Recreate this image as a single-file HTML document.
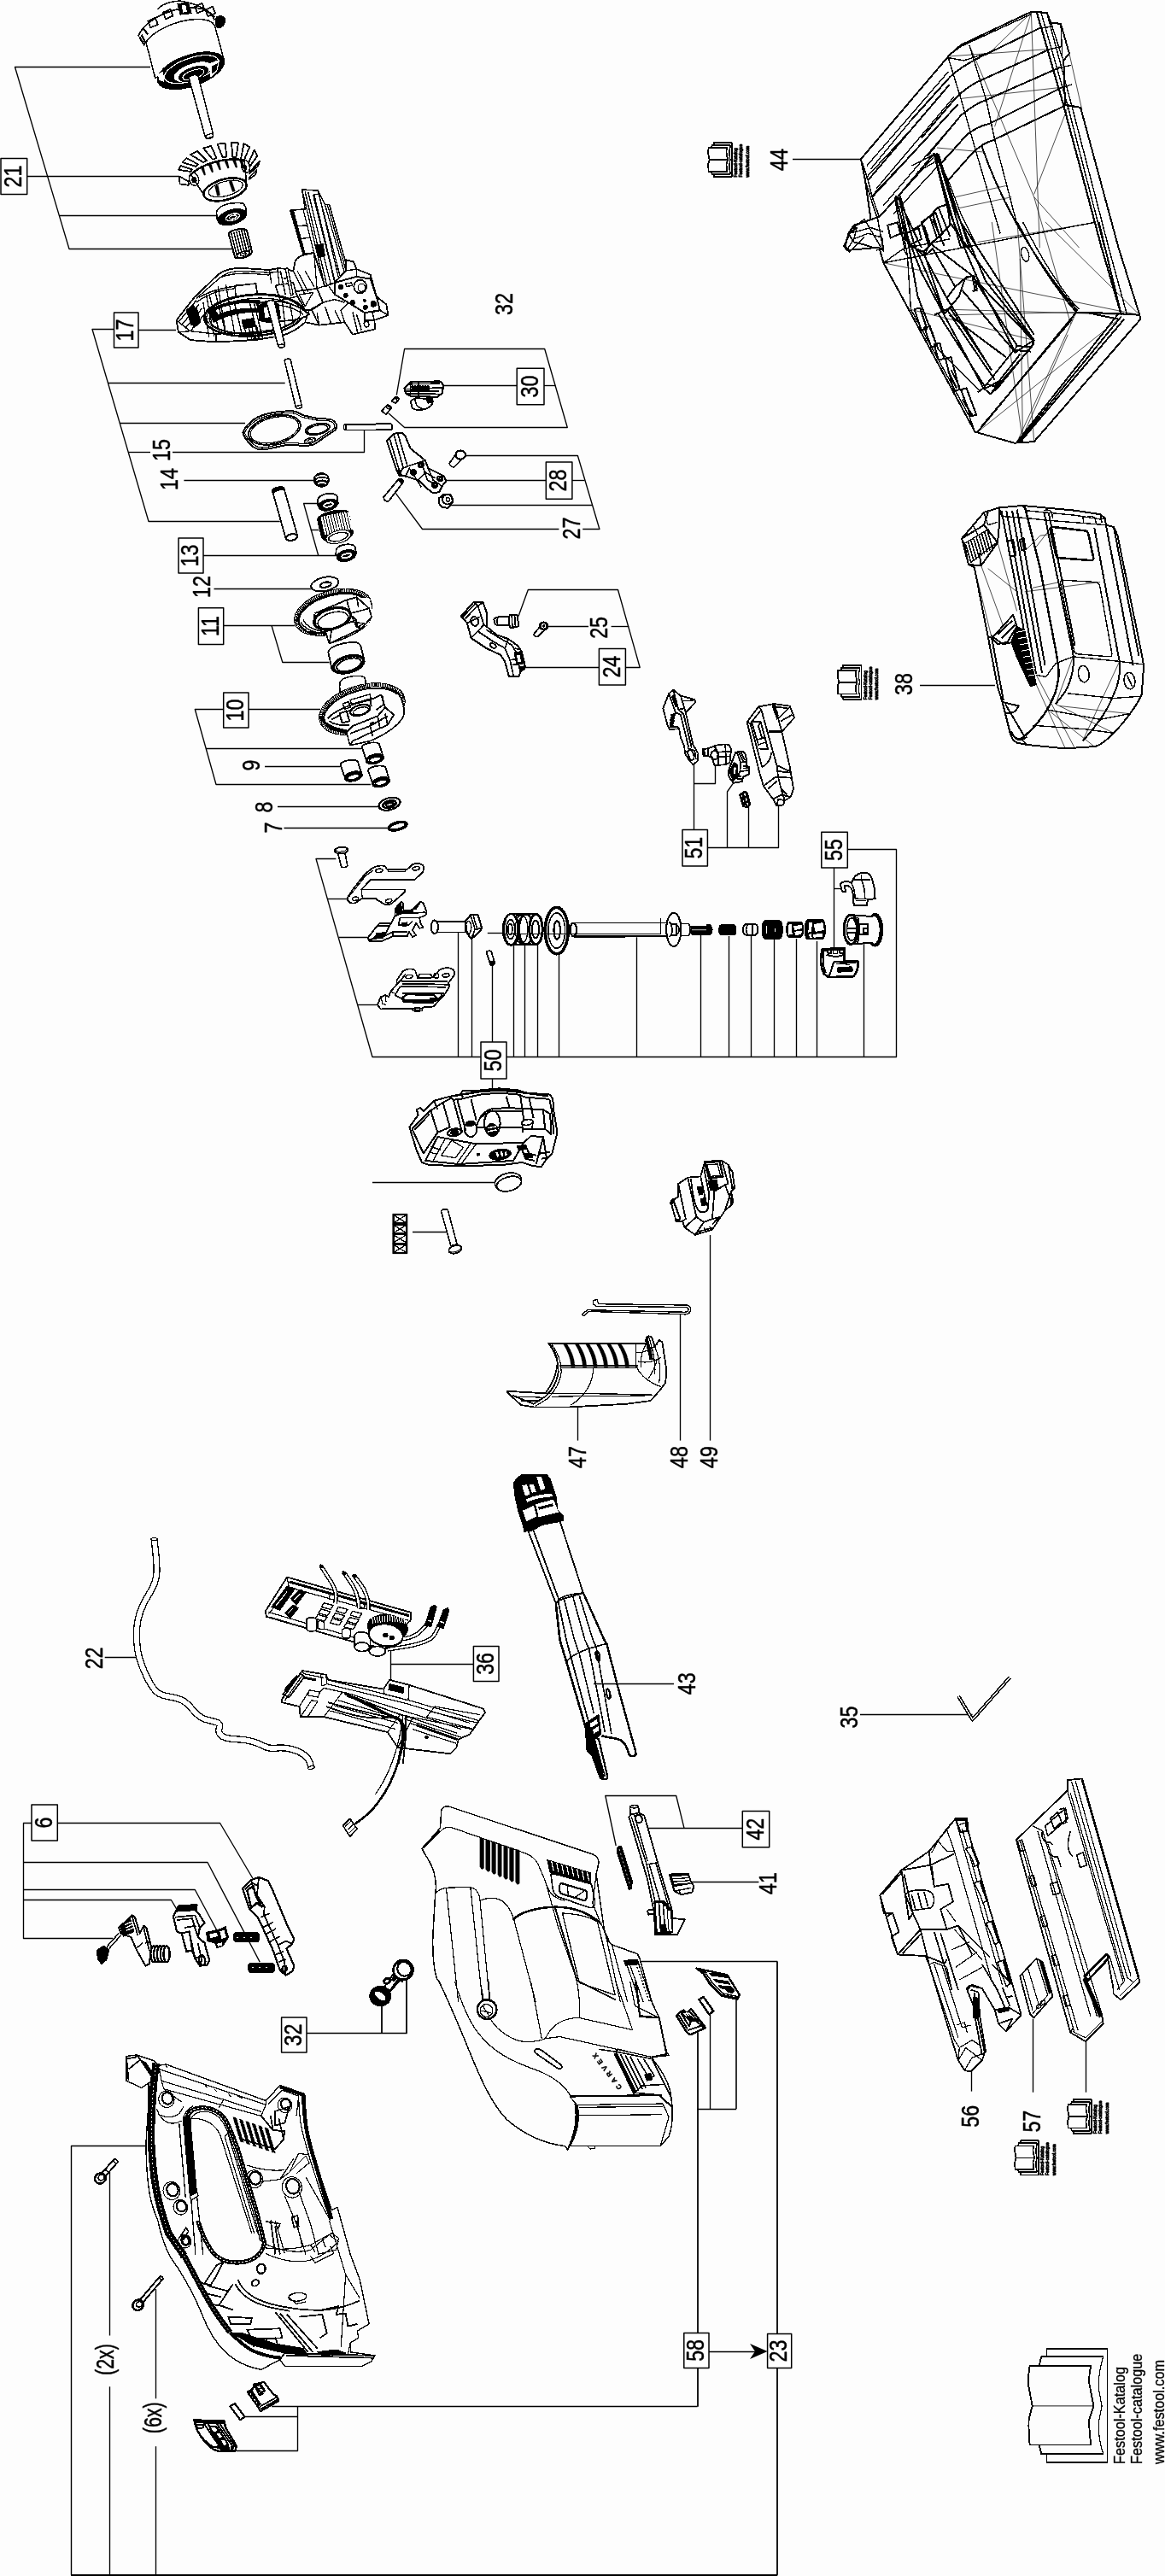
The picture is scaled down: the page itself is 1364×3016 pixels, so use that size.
<!DOCTYPE html>
<html><head><meta charset="utf-8"><title>Festool exploded view</title>
<style>
html,body{margin:0;padding:0;background:#fdfdfd;}
svg{display:block;shape-rendering:crispEdges;will-change:transform}
.t{font-family:"Liberation Sans",sans-serif;fill:#000;stroke:#000;stroke-width:0.5px}
.k{fill:#000}
.w{fill:#fff}
.g{fill:#888}
</style></head><body>
<svg width="1364" height="3016" viewBox="0 0 1364 3016" fill="none" stroke="#000" stroke-width="1.2" stroke-linejoin="round" stroke-linecap="butt">
<rect x="0" y="0" width="1364" height="3016" fill="#fdfdfd" stroke="none"/>
<g id="leaders" style="shape-rendering:geometricPrecision">
<polyline points="32,206.5 210,206.5" stroke-width="1.35"/>
<polyline points="176,78.5 17.5,78.5 81,291.5 272,291.5" stroke-width="1.35"/>
<polyline points="70,252.5 255,252.5" stroke-width="1.35"/>
<rect x="1" y="185.5" width="30.7" height="42" stroke-width="1.5" fill="#fff"/>
<text transform="translate(16.35,206.5) rotate(-90) scale(0.8,1)" font-size="29" text-anchor="middle" dy="0.30em" class="t">21</text>
<text transform="translate(591,356) rotate(-90) scale(0.8,1)" font-size="29" text-anchor="middle" dy="0.30em" class="t">32</text>
<polyline points="162,386.5 206,386.5" stroke-width="1.35"/>
<polyline points="133.5,385.5 108,385.5 174,610.5 327.7,610.5" stroke-width="1.35"/>
<polyline points="126.4,448.5 333.7,448.5" stroke-width="1.35"/>
<polyline points="140.3,495.5 287,495.5" stroke-width="1.35"/>
<polyline points="150.5,529.5 176,529.5" stroke-width="1.35"/>
<polyline points="202,529.5 426.5,529.5 426.5,503.3" stroke-width="1.35"/>
<rect x="133.5" y="366" width="28.5" height="41" stroke-width="1.5" fill="#fff"/>
<text transform="translate(147.75,386.5) rotate(-90) scale(0.8,1)" font-size="29" text-anchor="middle" dy="0.30em" class="t">17</text>
<text transform="translate(190.5,527) rotate(-90) scale(0.8,1)" font-size="29" text-anchor="middle" dy="0.30em" class="t">15</text>
<text transform="translate(199,561) rotate(-90) scale(0.8,1)" font-size="29" text-anchor="middle" dy="0.30em" class="t">14</text>
<polyline points="215.4,562.5 367.3,562.5" stroke-width="1.35"/>
<polyline points="238,650.5 394.4,650.5" stroke-width="1.35"/>
<polyline points="372.7,650.2 355.6,589.5 371.8,589.5" stroke-width="1.35"/>
<polyline points="363.7,620.5 373.6,620.5" stroke-width="1.35"/>
<rect x="209" y="630" width="29" height="41" stroke-width="1.5" fill="#fff"/>
<text transform="translate(223.5,650.5) rotate(-90) scale(0.8,1)" font-size="29" text-anchor="middle" dy="0.30em" class="t">13</text>
<text transform="translate(237,687) rotate(-90) scale(0.8,1)" font-size="29" text-anchor="middle" dy="0.30em" class="t">12</text>
<polyline points="250.5,689.5 364.3,689.5" stroke-width="1.35"/>
<polyline points="261.7,732.5 345.3,732.5" stroke-width="1.35"/>
<polyline points="318,732.5 330.8,775.5 385.5,775.5" stroke-width="1.35"/>
<rect x="232.4" y="711.7" width="29.3" height="42.7" stroke-width="1.5" fill="#fff"/>
<text transform="translate(247.05,733.05) rotate(-90) scale(0.8,1)" font-size="29" text-anchor="middle" dy="0.30em" class="t">11</text>
<polyline points="291,830.5 375,830.5" stroke-width="1.35"/>
<polyline points="261.7,830.5 228.3,830.5 253,918.5 434,918.5" stroke-width="1.35"/>
<polyline points="241,876.5 423.2,876.5" stroke-width="1.35"/>
<rect x="261.7" y="811" width="29.3" height="41" stroke-width="1.5" fill="#fff"/>
<text transform="translate(276.35,831.5) rotate(-90) scale(0.8,1)" font-size="29" text-anchor="middle" dy="0.30em" class="t">10</text>
<text transform="translate(295.6,896) rotate(-90) scale(0.8,1)" font-size="29" text-anchor="middle" dy="0.30em" class="t">9</text>
<polyline points="310,897.5 398.4,897.5" stroke-width="1.35"/>
<text transform="translate(310.4,945) rotate(-90) scale(0.8,1)" font-size="29" text-anchor="middle" dy="0.30em" class="t">8</text>
<polyline points="325,944.5 442.9,944.5" stroke-width="1.35"/>
<text transform="translate(321,969) rotate(-90) scale(0.8,1)" font-size="29" text-anchor="middle" dy="0.30em" class="t">7</text>
<polyline points="332.5,969.5 455.3,969.5" stroke-width="1.35"/>
<polyline points="518.3,451.5 605.2,451.5" stroke-width="1.35"/>
<polyline points="464.3,462.6 473.6,408.5 637.7,408.5 664.3,500.5 473.6,500.5 455.1,483.9" stroke-width="1.35"/>
<polyline points="637,451.5 650.4,451.5" stroke-width="1.35"/>
<rect x="605.2" y="431.3" width="31.8" height="42.4" stroke-width="1.5" fill="#fff"/>
<text transform="translate(621.1,452.5) rotate(-90) scale(0.8,1)" font-size="29" text-anchor="middle" dy="0.30em" class="t">30</text>
<polyline points="522.3,562.5 639.3,562.5" stroke-width="1.35"/>
<polyline points="669.9,562.5 684.5,562.5" stroke-width="1.35"/>
<polyline points="544.3,533.5 676.4,533.5 701.9,619.5 682.2,619.5" stroke-width="1.35"/>
<polyline points="526.9,591.5 693,591.5" stroke-width="1.35"/>
<rect x="639.3" y="540.9" width="30.6" height="43.3" stroke-width="1.5" fill="#fff"/>
<text transform="translate(654.6,562.55) rotate(-90) scale(0.8,1)" font-size="29" text-anchor="middle" dy="0.30em" class="t">28</text>
<text transform="translate(670.3,618.6) rotate(-90) scale(0.8,1)" font-size="29" text-anchor="middle" dy="0.30em" class="t">27</text>
<polyline points="463.2,577.3 494.5,619.5 654.4,619.5" stroke-width="1.35"/>
<polyline points="607,721.5 618.3,690.5 723.5,690.5 749.2,781.5 732.4,781.5" stroke-width="1.35"/>
<polyline points="641.6,733.5 689,733.5" stroke-width="1.35"/>
<polyline points="715.6,733.5 736.3,733.5" stroke-width="1.35"/>
<polyline points="614.9,781.5 701.4,781.5" stroke-width="1.35"/>
<rect x="701.4" y="759.4" width="31" height="42.6" stroke-width="1.5" fill="#fff"/>
<text transform="translate(716.9,780.7) rotate(-90) scale(0.8,1)" font-size="29" text-anchor="middle" dy="0.30em" class="t">24</text>
<text transform="translate(702.2,734.9) rotate(-90) scale(0.8,1)" font-size="29" text-anchor="middle" dy="0.30em" class="t">25</text>
<polyline points="393.4,1005.5 370,1005.5 436,1237.5 1049.5,1237.5 1049.5,994.5 992.3,994.5" stroke-width="1.35"/>
<polyline points="383.4,1052.5 406.8,1052.5" stroke-width="1.35"/>
<polyline points="397,1097.5 433,1097.5" stroke-width="1.35"/>
<polyline points="418.6,1176.5 442,1176.5" stroke-width="1.35"/>
<polyline points="536.5,1091 536.5,1237.8" stroke-width="1.35"/>
<polyline points="552.5,1099 552.5,1237.8" stroke-width="1.35"/>
<polyline points="601.5,1093 601.5,1237.8" stroke-width="1.35"/>
<polyline points="614.5,1101 614.5,1237.8" stroke-width="1.35"/>
<polyline points="629.5,1104 629.5,1237.8" stroke-width="1.35"/>
<polyline points="654.5,1116 654.5,1237.8" stroke-width="1.35"/>
<polyline points="745.5,1097.3 745.5,1237.8" stroke-width="1.35"/>
<polyline points="820.5,1090 820.5,1237.8" stroke-width="1.35"/>
<polyline points="853.5,1096 853.5,1237.8" stroke-width="1.35"/>
<polyline points="879.5,1096 879.5,1237.8" stroke-width="1.35"/>
<polyline points="906.5,1099 906.5,1237.8" stroke-width="1.35"/>
<polyline points="932.5,1099 932.5,1237.8" stroke-width="1.35"/>
<polyline points="956.5,1102 956.5,1237.8" stroke-width="1.35"/>
<polyline points="1011.5,1105 1011.5,1237.8" stroke-width="1.35"/>
<polyline points="576.5,1129.5 576.5,1275" stroke-width="1.35"/>
<polyline points="570.8,1092.5 588.3,1092.5" stroke-width="1.35"/>
<rect x="563" y="1220" width="30" height="43" stroke-width="1.5" fill="#fff"/>
<text transform="translate(578,1241.5) rotate(-90) scale(0.8,1)" font-size="29" text-anchor="middle" dy="0.30em" class="t">50</text>
<polyline points="976.5,1016 976.5,1110.7" stroke-width="1.35"/>
<polyline points="976,1040.5 986.4,1040.5" stroke-width="1.35"/>
<rect x="961.8" y="974.3" width="30.5" height="41.7" stroke-width="1.5" fill="#fff"/>
<text transform="translate(977.05,995.15) rotate(-90) scale(0.8,1)" font-size="29" text-anchor="middle" dy="0.30em" class="t">55</text>
<polyline points="828.4,992.5 911.5,992.5 911.5,944" stroke-width="1.35"/>
<polyline points="876.5,944 876.5,992" stroke-width="1.35"/>
<polyline points="858,917.6 851.5,927 851.5,992" stroke-width="1.35"/>
<polyline points="812.5,895.3 812.5,971.4" stroke-width="1.35"/>
<polyline points="812.9,917.5 837.5,917.5 837.5,896" stroke-width="1.35"/>
<rect x="799" y="971.4" width="29.4" height="42.6" stroke-width="1.5" fill="#fff"/>
<text transform="translate(813.7,992.7) rotate(-90) scale(0.8,1)" font-size="29" text-anchor="middle" dy="0.30em" class="t">51</text>
<text transform="translate(913,187) rotate(-90) scale(0.8,1)" font-size="29" text-anchor="middle" dy="0.30em" class="t">44</text>
<polyline points="928,186.5 1007,186.5" stroke-width="1.35"/>
<text transform="translate(1059.6,801) rotate(-90) scale(0.8,1)" font-size="29" text-anchor="middle" dy="0.30em" class="t">38</text>
<polyline points="1077,802.5 1165,802.5" stroke-width="1.35"/>
<polyline points="436,1384.5 579.6,1384.5" stroke-width="1.35"/>
<polyline points="483,1442.5 524,1442.5" stroke-width="1.35"/>
<text transform="translate(676.8,1706) rotate(-90) scale(0.8,1)" font-size="29" text-anchor="middle" dy="0.30em" class="t">47</text>
<polyline points="676.5,1647.5 676.5,1686.6" stroke-width="1.35"/>
<text transform="translate(796,1706) rotate(-90) scale(0.8,1)" font-size="29" text-anchor="middle" dy="0.30em" class="t">48</text>
<polyline points="796.5,1539 796.5,1686.6" stroke-width="1.35"/>
<text transform="translate(831.3,1706) rotate(-90) scale(0.8,1)" font-size="29" text-anchor="middle" dy="0.30em" class="t">49</text>
<polyline points="831.5,1446 831.5,1686.6" stroke-width="1.35"/>
<text transform="translate(111,1941.4) rotate(-90) scale(0.8,1)" font-size="29" text-anchor="middle" dy="0.30em" class="t">22</text>
<polyline points="122.7,1940.5 159.5,1940.5" stroke-width="1.35"/>
<polyline points="457.8,1948.5 554.4,1948.5" stroke-width="1.35"/>
<polyline points="457.5,1928.5 457.5,1969.5" stroke-width="1.35"/>
<rect x="554.4" y="1927.4" width="29.6" height="41" stroke-width="1.5" fill="#fff"/>
<text transform="translate(569.2,1947.9) rotate(-90) scale(0.8,1)" font-size="29" text-anchor="middle" dy="0.30em" class="t">36</text>
<polyline points="37,2134.5 27.5,2134.5 27.5,2269.5 132.4,2269.5" stroke-width="1.35"/>
<polyline points="67.3,2134.5 257.6,2134.5 296.4,2200" stroke-width="1.35"/>
<polyline points="27.5,2180.5 243,2180.5 304.2,2297.1" stroke-width="1.35"/>
<polyline points="27.5,2212.5 228.3,2212.5 254,2260.3" stroke-width="1.35"/>
<polyline points="27.5,2224.5 200.4,2224.5 207.1,2235.7" stroke-width="1.35"/>
<rect x="37" y="2113" width="30.3" height="42" stroke-width="1.5" fill="#fff"/>
<text transform="translate(52.15,2134) rotate(-90) scale(0.8,1)" font-size="29" text-anchor="middle" dy="0.30em" class="t">6</text>
<polyline points="359,2380.5 476.7,2380.5" stroke-width="1.4"/>
<polyline points="476,2380.4 476,2317.4" stroke-width="1.8"/>
<polyline points="447,2348.8 447,2380.4" stroke-width="1.8"/>
<rect x="329.6" y="2362" width="29.4" height="41" stroke-width="1.5" fill="#fff"/>
<text transform="translate(344.3,2382.5) rotate(-90) scale(0.8,1)" font-size="29" text-anchor="middle" dy="0.30em" class="t">32</text>
<text transform="translate(805,1971.3) rotate(-90) scale(0.8,1)" font-size="29" text-anchor="middle" dy="0.30em" class="t">43</text>
<polyline points="695,1971.5 789,1971.5" stroke-width="1.35"/>
<text transform="translate(995.2,2010.5) rotate(-90) scale(0.8,1)" font-size="29" text-anchor="middle" dy="0.30em" class="t">35</text>
<polyline points="1007,2007.5 1138.6,2007.5" stroke-width="1.35"/>
<polyline points="758.1,2140.5 869.3,2140.5" stroke-width="1.35"/>
<polyline points="721.2,2161 708.8,2102.5 791.7,2102.5 801,2140.3" stroke-width="1.35"/>
<rect x="869.3" y="2120.6" width="31.4" height="42.1" stroke-width="1.5" fill="#fff"/>
<text transform="translate(885,2141.65) rotate(-90) scale(0.8,1)" font-size="29" text-anchor="middle" dy="0.30em" class="t">42</text>
<text transform="translate(899.8,2205.1) rotate(-90) scale(0.8,1)" font-size="29" text-anchor="middle" dy="0.30em" class="t">41</text>
<polyline points="809.4,2203.5 888.4,2203.5" stroke-width="1.35"/>
<text transform="translate(1137.5,2477.8) rotate(-90) scale(0.8,1)" font-size="29" text-anchor="middle" dy="0.30em" class="t">56</text>
<polyline points="1137.5,2424 1137.5,2448.6" stroke-width="1.35"/>
<text transform="translate(1209,2483.7) rotate(-90) scale(0.8,1)" font-size="29" text-anchor="middle" dy="0.30em" class="t">57</text>
<polyline points="1209.5,2363.7 1209.5,2449.7" stroke-width="1.35"/>
<polyline points="1271.5,2390 1271.5,2449.7" stroke-width="1.35"/>
<polyline points="171.7,2512.5 83.5,2512.5 83.5,3014.8" stroke-width="1.4"/>
<polyline points="83,3015 910.3,3015" stroke-width="2"/>
<polyline points="910,3014.8 910,2296.4" stroke-width="1.8"/>
<polyline points="910.3,2296.5 749.3,2296.5" stroke-width="1.5"/>
<polyline points="128.5,2542.7 128.5,2734.5" stroke-width="1.35"/>
<polyline points="128.5,2794.3 128.5,3014.8" stroke-width="1.35"/>
<polyline points="182.5,2680.2 182.5,2808.3" stroke-width="1.35"/>
<polyline points="182.5,2864.2 182.5,3014.8" stroke-width="1.35"/>
<text transform="translate(124.4,2762.5) rotate(-90) scale(0.74,1)" font-size="29" text-anchor="middle" dy="0.30em" class="t">(2x)</text>
<text transform="translate(180.3,2830.8) rotate(-90) scale(0.74,1)" font-size="29" text-anchor="middle" dy="0.30em" class="t">(6x)</text>
<polyline points="318,2817.5 816.6,2817.5" stroke-width="1.35"/>
<polyline points="817,2817.7 817,2379.3" stroke-width="1.8"/>
<polyline points="348.5,2817.3 348.5,2869.5 276.8,2869.5" stroke-width="1.35"/>
<polyline points="286.5,2829.5 348.9,2829.5" stroke-width="1.35"/>
<polyline points="816.6,2469.5 862.2,2469.5" stroke-width="1.35"/>
<polyline points="862,2469 862,2340.1" stroke-width="1.6"/>
<polyline points="831.5,2358.1 831.5,2469" stroke-width="1.35"/>
<polyline points="830,2753.5 885,2753.5" stroke-width="1.35"/>
<path d="M898.6 2753 L878 2744 L884 2753 L878 2762 Z" fill="#000" stroke="none"/>
<rect x="800.8" y="2731.4" width="29.2" height="41" stroke-width="1.5" fill="#fff"/>
<text transform="translate(815.4,2751.9) rotate(-90) scale(0.8,1)" font-size="29" text-anchor="middle" dy="0.30em" class="t">58</text>
<rect x="898.6" y="2732.6" width="28.1" height="39.8" stroke-width="1.5" fill="#fff"/>
<text transform="translate(912.65,2752.5) rotate(-90) scale(0.8,1)" font-size="29" text-anchor="middle" dy="0.30em" class="t">23</text>
</g>
<g id="motor">
<path d="M 161.6 42.5 C 166.3 30.9 180.2 18.5 204.9 11.6 C 223.4 7.0 242.0 7.7 251.2 20.1" stroke-width="1.8"/>
<path d="M 184.8 10.8 C 191.0 3.1 208.0 -0.8 217.3 2.3 C 232.7 6.2 245.1 10.8 251.2 23.2" stroke-width="1.6"/>
<path d="M 163.2 43.3 L 169.4 53.3 M 165.5 40.9 L 170.9 51.0 M 167.8 33.2 L 173.2 40.2" stroke-width="2.2"/>
<path d="M 173.2 24.7 L 181.7 20.9 L 184.8 28.6 L 176.3 32.4 Z" stroke-width="1.8"/>
<path d="M 191.0 14.7 L 199.5 10.8 L 202.6 18.5 L 194.1 22.4 Z" stroke-width="1.8"/>
<path d="M 208.8 7.0 L 217.3 3.1 L 220.3 10.8 L 211.8 14.7 Z" stroke-width="1.8"/>
<path d="M 228.1 7.7 L 236.6 3.9 L 239.7 11.6 L 231.2 15.5 Z" stroke-width="1.8"/>
<path d="M 240.4 11.6 L 248.9 7.7 L 252.0 15.5 L 243.5 19.3 Z" stroke-width="1.8"/>
<path d="M 208.0 4.6 L 220.3 3.1 L 224.2 15.5 L 211.1 17.0 Z" fill="#000"/>
<path d="M 212.6 6.2 L 217.3 5.4 L 218.8 13.9 L 214.2 14.7 Z" fill="#fff" stroke="none"/>
<path d="M 253.6 20.1 C 257.4 17.8 262.8 18.5 263.6 23.2 C 263.6 29.4 259.7 33.2 254.3 32.4 C 252.0 30.1 252.0 23.2 253.6 20.1 Z" fill="#000"/>
<path d="M 170.9 49.4 C 180.2 35.5 206.4 23.2 231.2 22.4 C 242.0 22.4 248.9 25.5 251.2 29.4 L 262.1 69.5 L 181.7 91.2 Z" stroke-width="1.5" fill="#fdfdfd"/>
<ellipse cx="223.4" cy="82.7" rx="40.9" ry="18.2" transform="rotate(-19 223.4 82.7)" fill="#000"/>
<ellipse cx="224.2" cy="81.1" rx="33.2" ry="13.1" transform="rotate(-19 224.2 81.1)" stroke-width="1.2" fill="none" stroke="#fff"/>
<ellipse cx="225.8" cy="84.2" rx="23.2" ry="9.6" transform="rotate(-19 225.8 84.2)" fill="#fff" stroke="none"/>
<ellipse cx="226.5" cy="86.5" rx="17.8" ry="7.4" transform="rotate(-19 226.5 86.5)" fill="#000"/>
<ellipse cx="226.5" cy="87.3" rx="13.1" ry="5.1" transform="rotate(-19 226.5 87.3)" stroke-width="1" fill="none" stroke="#fff"/>
<path d="M 245.1 74.2 L 257.4 69.5 L 254.3 83.4 L 246.6 91.2 Z" fill="#fff" stroke="none"/>
<path d="M 248.2 77.3 L 255.1 74.2 L 253.6 81.9 L 248.2 86.5 Z" fill="#000" stroke="none"/>
<path d="M 184.8 86.5 L 191.0 83.4 L 192.5 95.8 L 186.4 94.2 Z" fill="#fff" stroke="none"/>
<path d="M 221.1 91.2 L 240.4 160.7 C 242.0 164.5 249.7 162.2 249.7 157.6 L 231.9 88.8 C 229.6 86.5 221.9 88.1 221.1 91.2 Z" stroke-width="1.5" fill="#fdfdfd"/>
<ellipse cx="245.4" cy="159.1" rx="4.3" ry="2.0" transform="rotate(-15 245.4 159.1)" stroke-width="1.3"/>
</g>
<g id="fan">
<path d="M 210.6 215.4 L 209.8 206.4 L 220.5 212.3 L 220.9 216.8 Z" stroke-width="1.8" fill="#fdfdfd"/>
<path d="M 209.2 198.9 L 211.4 194.0 L 224.7 198.5 L 223.6 201.0 Z" stroke-width="1.8" fill="#fdfdfd"/>
<path d="M 213.3 190.0 L 218.6 185.1 L 231.8 192.4 L 229.1 194.8 Z" stroke-width="1.8" fill="#fdfdfd"/>
<path d="M 223.0 181.1 L 231.2 177.0 L 242.2 188.0 L 238.1 190.0 Z" stroke-width="1.8" fill="#fdfdfd"/>
<path d="M 238.1 173.5 L 247.1 170.9 L 253.6 185.2 L 249.1 186.6 Z" stroke-width="1.8" fill="#fdfdfd"/>
<path d="M 254.5 168.7 L 263.6 167.6 L 265.3 183.6 L 260.7 184.1 Z" stroke-width="1.8" fill="#fdfdfd"/>
<path d="M 271.0 166.7 L 279.0 167.4 L 276.4 184.5 L 272.4 184.1 Z" stroke-width="1.8" fill="#fdfdfd"/>
<path d="M 285.5 168.0 L 292.2 172.2 L 285.5 188.0 L 282.0 185.9 Z" stroke-width="1.8" fill="#fdfdfd"/>
<path d="M 297.8 175.6 L 301.2 182.7 L 292.6 194.6 L 290.9 191.0 Z" stroke-width="1.8" fill="#fdfdfd"/>
<path d="M 304.0 188.6 L 302.1 194.3 L 292.3 203.2 L 293.3 200.3 Z" stroke-width="1.8" fill="#fdfdfd"/>
<path d="M 300.6 198.9 L 299.2 204.4 L 291.6 209.9 L 292.3 207.2 Z" stroke-width="1.8" fill="#fdfdfd"/>
<path d="M 237.4 226.4 L 223.6 204.4 C 235.3 192.1 266.9 182.5 286.1 188.0 L 288.2 209.9 C 288.9 219.5 277.9 231.9 261.4 234.7 C 247.7 236.7 238.1 233.3 237.4 226.4 Z" stroke-width="1.6" fill="#fdfdfd"/>
<path d="M 235.3 196.2 L 238.3 195.7 L 240.5 204.7 L 239.2 205.0 Z" stroke-width="0.8" fill="#000"/>
<path d="M 244.2 192.8 L 247.3 192.2 L 249.5 201.3 L 248.1 201.6 Z" stroke-width="0.8" fill="#000"/>
<path d="M 253.2 190.0 L 256.2 189.5 L 258.4 198.5 L 257.0 198.8 Z" stroke-width="0.8" fill="#000"/>
<path d="M 262.8 188.0 L 265.8 187.4 L 268.0 196.5 L 266.6 196.8 Z" stroke-width="0.8" fill="#000"/>
<path d="M 272.4 187.3 L 275.4 186.7 L 277.6 195.8 L 276.2 196.1 Z" stroke-width="0.8" fill="#000"/>
<path d="M 280.6 188.0 L 283.7 187.4 L 285.9 196.5 L 284.5 196.8 Z" stroke-width="0.8" fill="#000"/>
<path d="M 223.6 204.4 C 235.3 192.1 266.9 182.5 286.1 188.0" stroke-width="2.4"/>
<ellipse cx="227.1" cy="209.9" rx="5.5" ry="7.6" transform="rotate(-15 227.1 209.9)" stroke-width="1.6"/>
<ellipse cx="227.4" cy="210.6" rx="2.5" ry="3.0" transform="rotate(-15 227.4 210.6)" fill="#000"/>
<ellipse cx="287.5" cy="194.8" rx="4.8" ry="7.6" transform="rotate(-15 287.5 194.8)" stroke-width="1.6"/>
<ellipse cx="287.2" cy="196.2" rx="1.6" ry="2.7" transform="rotate(-15 287.2 196.2)" fill="#000"/>
<ellipse cx="263.5" cy="221.9" rx="25.8" ry="12.1" transform="rotate(-15 263.5 221.9)" stroke-width="2.6" fill="#fdfdfd"/>
<ellipse cx="264.2" cy="220.9" rx="20.6" ry="8.5" transform="rotate(-15 264.2 220.9)" stroke-width="1.2"/>
<path d="M 251.8 218.2 L 254.5 229.2 L 257.3 228.5 L 255.2 216.8 Z M 268.3 212.7 L 272.4 224.4 L 275.2 223.7 L 271.0 211.3 Z" stroke-width="0.8" fill="#000"/>
</g>
<g id="bearing">
<path d="M 254.3 256.6 L 253.5 248.4 C 255.9 240.2 269.7 236.0 284.8 238.1 L 287.8 242.9 L 288.6 251.1 Z" stroke-width="1.6" fill="#fdfdfd"/>
<ellipse cx="271.7" cy="254.2" rx="17.4" ry="8.5" transform="rotate(-16 271.7 254.2)" fill="#000"/>
<ellipse cx="272.4" cy="254.2" rx="8.2" ry="3.7" transform="rotate(-16 272.4 254.2)" stroke-width="1.5" fill="none" stroke="#fff"/>
<ellipse cx="272.7" cy="254.2" rx="4.4" ry="1.8" transform="rotate(-16 272.7 254.2)" stroke-width="1.2" fill="none" stroke="#fff"/>
</g>
<g id="pinion">
<path d="M 267.6 273.1 C 272.4 268.3 284.8 266.9 288.9 269.3 L 295.1 295.1 C 293.0 300.6 280.6 304.0 275.2 301.7 Z" stroke-width="2" fill="#fdfdfd"/>
<path d="M 270.6 272.3 L 277.8 300.6" stroke-width="1.5"/>
<path d="M 273.6 271.6 L 280.8 299.8" stroke-width="1.5"/>
<path d="M 276.7 270.9 L 283.8 298.9" stroke-width="1.5"/>
<path d="M 279.7 270.1 L 286.8 298.2" stroke-width="1.5"/>
<path d="M 282.7 269.3 L 289.8 297.6" stroke-width="1.5"/>
<path d="M 285.7 268.6 L 292.9 296.7" stroke-width="1.5"/>
<ellipse cx="284.8" cy="297.8" rx="7.6" ry="3.3" transform="rotate(-18 284.8 297.8)" stroke-width="1.8" fill="#fdfdfd"/>
<ellipse cx="284.8" cy="297.8" rx="3.8" ry="1.4" transform="rotate(-18 284.8 297.8)" stroke-width="1.2"/>
</g>
<g id="housing17">
<path d="M 353.8 222.0 L 372.3 223.1 L 380.4 239.3 L 385.5 239.3 L 409.4 323.9 L 403.6 327.4 L 380.4 335.5 L 366.5 296.1 L 354.9 297.3 L 339.8 246.3 L 354.9 245.1 L 357.2 245.1 Z" stroke-width="1.6" fill="#fdfdfd"/>
<path d="M 353.8 222.0 L 380.4 335.5 M 357.2 224.3 L 382.7 334.4 M 360.9 225.4 L 387.4 333.2 M 366.5 227.7 L 392.0 330.9 M 372.3 223.1 L 398.9 326.2 M 380.4 239.3 L 404.7 323.9 M 383.2 239.3 L 407.1 323.9" stroke-width="1.3"/>
<path d="M 367.7 227.7 L 373.5 227.7 L 396.6 326.2 L 392.0 328.6 Z" stroke-width="1.3" fill="#fdfdfd"/>
<path d="M 339.8 246.3 L 343.3 246.3 L 357.2 297.3 L 354.9 297.3 Z" fill="#000"/>
<path d="M 345.6 264.8 L 360.7 263.7 M 349.8 279.9 L 364.2 278.0 M 354.9 245.1 L 367.7 296.1" stroke-width="1.3"/>
<path d="M 370.0 286.8 L 378.1 285.7 L 380.4 299.6 L 373.5 301.2 Z" fill="#000"/>
<path d="M 206.6 374.9 L 227.4 348.3 L 255.3 321.6 C 264.5 314.7 273.8 313.5 287.7 314.2 L 315.5 316.0 L 324.8 314.2 L 334.1 314.7 L 343.3 317.4 L 345.6 305.8 C 348.0 300.8 352.6 298.4 367.7 296.1 L 380.4 335.5 L 392.0 330.9 L 404.7 317.0 L 404.7 304.2 L 414.0 306.5 L 417.5 315.1 L 433.7 321.6 L 440.7 347.1 L 452.3 356.4 L 454.6 369.1 L 438.3 374.9 L 439.5 385.3 L 412.9 391.6 L 403.6 377.2 L 373.5 380.7 L 357.2 377.2 C 348.0 386.5 334.1 392.3 327.1 393.5 L 299.3 398.1 L 252.9 400.4 L 222.8 398.1 L 208.9 388.8 Z" stroke-width="1.8" fill="#fdfdfd"/>
<path d="M 229.8 349.4 L 257.6 325.1 C 266.8 318.1 276.1 317.0 287.7 317.4 L 315.5 319.3 L 328.3 318.1" stroke-width="1.3"/>
<path d="M 233.2 348.3 C 246.0 340.2 264.5 335.5 299.3 332.0 L 301.6 344.8 M 275.0 334.4 L 276.1 348.3 M 275.0 334.4 L 300.5 332.0" stroke-width="1.6"/>
<ellipse cx="297.0" cy="369.1" rx="57.9" ry="24.3" transform="rotate(-4 297.0 369.1)" stroke-width="2.4"/>
<ellipse cx="297.0" cy="369.8" rx="52.1" ry="20.4" transform="rotate(-4 297.0 369.8)" stroke-width="1.3"/>
<path d="M 243.7 365.6 C 255.3 354.1 283.1 350.6 303.9 351.7 L 310.9 365.6 C 292.3 363.3 264.5 368.0 250.6 377.2 Z" fill="#000"/>
<path d="M 252.9 363.3 C 264.5 356.4 283.1 354.1 299.3 355.2 L 301.6 361.0 C 287.7 359.8 266.8 362.2 255.3 368.0 Z" fill="#fdfdfd" stroke="none"/>
<path d="M 300.5 356.4 C 315.5 349.4 343.3 351.7 361.9 368.0 C 352.6 374.9 334.1 377.2 315.5 374.9 Z" stroke-width="1.8" fill="#fdfdfd"/>
<path d="M 303.9 359.8 C 317.8 354.1 338.7 356.4 354.9 368.0" stroke-width="1.3"/>
<path d="M 208.9 377.2 L 229.8 351.7 M 212.4 380.7 L 233.2 356.4 M 217.0 384.2 L 236.7 361.0 M 222.8 387.7 L 241.4 365.6 M 206.6 374.9 L 222.8 387.7 L 252.9 391.1 L 299.3 388.8 L 324.8 385.3" stroke-width="1.4"/>
<path d="M 218.2 363.3 L 226.3 356.4 L 232.1 374.9 L 224.0 380.7 Z" fill="#000"/>
<path d="M 244.8 344.8 L 257.6 391.1 M 251.8 341.3 L 264.5 391.1 M 273.8 351.7 L 284.2 394.6 M 292.3 354.1 L 302.8 396.9 M 297.0 352.9 L 307.4 395.8" stroke-width="1.4"/>
<path d="M 283.1 374.9 L 297.0 372.6 L 299.3 381.9 L 285.4 384.2 Z" fill="#000"/>
<path d="M 286.5 384.2 L 300.5 381.9 L 303.9 395.8 L 290.0 398.1 Z" stroke-width="1.3"/>
<path d="M 291.2 383.0 L 294.7 396.9 M 294.7 382.3 L 298.1 396.2" stroke-width="1.2"/>
<path d="M 322.5 334.4 L 343.3 330.9 L 348.0 347.1 L 328.3 351.7 Z M 328.3 317.0 L 334.1 344.8 M 334.1 314.7 L 341.0 344.8 M 331.7 326.2 L 339.8 325.1" stroke-width="1.5"/>
<path d="M 345.6 341.3 L 371.1 337.8 L 378.1 354.1 L 364.2 363.3 L 357.2 363.3 Z" stroke-width="1.8"/>
<path d="M 350.3 344.8 L 366.5 342.5 L 357.2 358.7 Z" stroke-width="1.3" fill="#fdfdfd"/>
<path d="M 378.1 354.1 L 392.0 350.6 L 403.6 354.1 M 371.1 337.8 L 392.0 330.9 M 365.3 363.3 L 373.5 380.7 M 380.4 358.7 L 387.4 378.4 M 392.0 363.3 L 398.9 377.2" stroke-width="1.5"/>
<path d="M 392.0 330.9 L 417.5 323.9 L 433.7 326.7 L 440.7 347.1 L 444.8 363.3 L 426.8 366.1 L 408.2 354.5 L 392.0 344.8 Z" stroke-width="2" fill="#fdfdfd"/>
<ellipse cx="421.7" cy="335.5" rx="7.4" ry="7.9" stroke-width="1.8"/>
<ellipse cx="423.3" cy="336.7" rx="4.2" ry="4.6" stroke-width="1.2"/>
<ellipse cx="398.9" cy="336.0" rx="2.5" ry="2.8" fill="#000"/>
<ellipse cx="404.7" cy="345.9" rx="2.3" ry="2.5" fill="#000"/>
<ellipse cx="412.9" cy="354.1" rx="2.3" ry="2.5" fill="#000"/>
<ellipse cx="427.9" cy="359.8" rx="2.3" ry="2.5" fill="#000"/>
<ellipse cx="437.2" cy="355.9" rx="3.0" ry="3.2" fill="#000"/>
<ellipse cx="426.8" cy="351.7" rx="1.4" ry="1.6" fill="#000"/>
<path d="M 404.7 332.0 L 411.7 330.9 L 412.4 334.4 L 405.4 335.5 Z" stroke-width="1.3"/>
<path d="M 408.2 354.5 L 426.8 366.1 L 444.8 363.3 L 454.6 369.1 M 426.8 366.1 L 426.8 374.9 L 438.3 374.9 M 417.5 368.0 L 423.3 386.5 M 412.9 365.6 L 418.6 388.8" stroke-width="1.5"/>
<ellipse cx="429.1" cy="379.5" rx="2.8" ry="3.5" transform="rotate(-10 429.1 379.5)" stroke-width="1.5"/>
<ellipse cx="297.0" cy="368.4" rx="55.2" ry="22.5" transform="rotate(-4 297.0 368.4)" stroke-width="1.2"/>
<path d="M 303.9 357.5 C 310.9 352.9 321.3 352.9 325.9 356.4 L 328.3 372.6 C 321.3 378.4 310.9 378.4 303.5 374.9 Z" fill="#000"/>
<path d="M 308.6 359.8 L 320.2 358.7 L 322.0 370.3 L 310.4 372.1 Z" fill="#fdfdfd" stroke="none"/>
<path d="M 255.3 335.5 L 264.5 391.1 M 264.5 333.2 L 275.0 392.3 M 241.4 344.8 L 250.6 393.5 M 237.9 354.1 L 244.8 394.6 M 324.8 385.3 L 321.3 354.1 M 334.1 381.9 L 330.6 354.1 M 343.3 377.2 L 339.8 356.4" stroke-width="1.3"/>
<path d="M 343.3 317.4 L 357.2 344.8 M 348.0 317.0 L 360.7 342.0 M 367.7 296.1 L 371.1 337.8 M 357.2 317.0 L 367.7 335.5 M 324.8 314.7 L 327.1 334.4 M 315.5 316.0 L 317.8 332.0" stroke-width="1.3"/>
<path d="M 257.6 325.1 C 269.2 320.5 283.1 319.3 297.0 320.5 L 315.5 322.1 M 229.8 354.1 C 241.4 344.8 255.3 340.2 273.8 337.8" stroke-width="1.3"/>
<path d="M 357.2 377.2 L 361.9 363.3 L 378.1 354.1 M 373.5 380.7 L 371.1 365.6 M 403.6 377.2 L 398.9 363.3 L 408.2 354.5 M 438.3 374.9 L 436.0 365.6 L 444.8 363.3" stroke-width="1.4"/>
<path d="M 385.0 335.5 L 392.0 344.8 M 417.5 315.1 L 417.5 323.9 M 433.7 321.6 L 433.7 326.7 M 404.7 317.0 L 417.5 315.1" stroke-width="1.4"/>
<path d="M 221.7 366.8 L 229.8 359.8 L 234.9 377.2 L 227.0 383.7 Z" fill="#000"/>
<path d="M 208.9 388.8 L 222.8 387.7 M 252.9 400.4 L 252.9 391.1 M 299.3 398.1 L 299.3 388.8 M 327.1 393.5 L 324.8 385.3" stroke-width="1.3"/>
<path d="M 312.0 354.1 L 325.5 404.6 C 327.1 408.5 333.6 407.4 333.4 403.2 L 321.3 352.9 C 319.0 350.6 312.7 351.7 312.0 354.1 Z" stroke-width="1.6" fill="#fdfdfd"/>
<ellipse cx="329.4" cy="405.0" rx="3.5" ry="1.9" transform="rotate(-10 329.4 405.0)" stroke-width="1.2"/>
<path d="M 334.1 314.7 L 336.8 313.5 L 343.3 344.8 L 340.5 345.9 Z" stroke-width="1.3" fill="#fdfdfd"/>
</g>
<g id="charger">
<path d="M 1008.0 186.2 L 1111.8 64.3 L 1125.0 52.7 L 1207.4 13.8 L 1225.6 14.8 L 1230.5 26.4 L 1242.0 28.0 L 1251.9 62.6 L 1245.3 70.9 L 1247.0 122.6 L 1265.1 125.9 L 1309.6 290.1 L 1334.3 368.8 L 1335.3 373.7 L 1210.7 517.1 L 1187.7 518.7 L 1141.5 505.6 L 1034.4 307.8 L 1029.4 289.7 L 991.5 293.0 L 988.2 288.0 L 994.8 273.2 L 1003.1 266.6 L 993.2 273.6 L 999.8 263.7 L 1019.6 257.1 L 1013.0 211.0 Z" stroke-width="2.0" fill="#fdfdfd"/>
<path d="M 1008.0 186.2 L 1016.3 211.0 L 1021.2 230.7 L 1029.4 253.8 M 1014.6 194.5 L 1110.2 84.1 M 1019.6 197.8 L 1067.3 140.1 M 1013.0 209.3 L 1078.9 138.4 M 1026.1 220.8 L 1116.8 113.7 M 1019.6 230.7 L 1082.2 164.8 M 1034.4 240.6 L 1125.0 135.1 M 1045.9 250.5 L 1134.9 154.9 M 1050.9 230.7 L 1097.0 179.6" stroke-width="1.4"/>
<path d="M 1016.3 211.0 L 1111.8 98.9 M 1021.2 230.7 L 1121.7 122.0" stroke-width="2.0"/>
<path d="M 1067.3 140.1 L 1111.8 90.6 C 1121.7 80.8 1138.2 70.9 1159.6 61.0 L 1217.3 33.0" stroke-width="2.0"/>
<path d="M 1078.9 161.5 L 1118.4 115.4 C 1128.3 105.5 1138.2 98.9 1144.8 95.6 L 1228.9 57.7" stroke-width="2.0"/>
<path d="M 1085.5 182.9 L 1125.0 135.1 C 1134.9 126.9 1144.8 120.3 1154.7 117.0 L 1240.4 79.1" stroke-width="2.0"/>
<path d="M 1102.0 191.2 L 1131.6 158.2 C 1141.5 150.0 1149.8 146.7 1158.0 145.0 L 1243.7 102.2" stroke-width="2.0"/>
<path d="M 1110.2 211.0 L 1138.2 179.6 C 1146.5 171.4 1154.7 166.5 1161.3 164.8 L 1247.0 123.6" stroke-width="2.0"/>
<path d="M 1111.8 64.3 L 1125.0 54.4 L 1207.4 16.5 M 1110.2 67.6 L 1128.3 70.9 L 1159.6 61.0 M 1134.9 52.7 L 1154.7 117.0 L 1164.6 163.2 L 1191.0 263.7 M 1110.2 67.6 L 1125.0 115.4 L 1144.8 184.6 L 1171.2 273.6 M 1095.4 179.6 L 1110.2 211.0 L 1125.0 250.5 L 1144.8 290.1" stroke-width="1.4"/>
<path d="M 1214.0 14.8 L 1245.3 123.6 L 1289.8 290.1 L 1312.9 368.8" stroke-width="2.2"/>
<path d="M 1225.6 14.8 L 1255.2 125.3 L 1298.1 290.1 L 1319.5 368.8 M 1219.0 14.8 L 1250.3 124.6 L 1293.1 290.1" stroke-width="1.4"/>
<path d="M 1230.5 26.4 L 1242.0 62.6 L 1245.3 70.9 M 1242.0 28.0 L 1243.7 65.9 M 1217.3 33.0 L 1230.5 31.3 M 1228.9 57.7 L 1243.7 54.4 M 1240.4 79.1 L 1253.6 76.5 M 1243.7 102.2 L 1255.2 98.9 M 1247.0 123.6 L 1265.1 125.9" stroke-width="1.4"/>
<path d="M 1111.8 65.9 L 1225.6 57.7 M 1159.6 61.0 L 1207.4 14.8 L 1217.3 290.1 M 1207.4 14.8 L 1164.6 148.3 M 1125.0 115.4 L 1243.7 102.2 M 1134.9 52.7 L 1210.7 230.7 L 1253.6 379.1 M 1251.9 62.6 L 1266.8 128.5 M 1097.0 173.0 L 1151.4 178.0 M 1118.4 230.7 L 1177.8 217.5 M 1121.7 243.9 L 1184.4 230.7 M 1210.7 227.4 L 1250.3 125.3 M 1144.8 283.5 L 1283.2 260.4 M 1210.7 230.7 L 1263.5 290.1" stroke-width="0.7"/>
<path d="M 1029.4 253.8 L 1019.6 257.1 L 999.8 263.7 L 993.2 273.6 L 999.8 283.5 L 1013.0 286.8 L 1022.8 290.1 M 1029.4 253.8 L 1050.9 230.7 L 1093.7 179.6 L 1110.2 211.0 M 1047.6 230.7 L 1059.1 290.1 M 1052.5 230.7 L 1065.7 290.1 M 1050.9 230.7 L 1078.9 290.1" stroke-width="2.0"/>
<path d="M 1039.3 263.7 L 1050.9 260.4 L 1054.2 273.6 L 1042.6 278.5 Z M 1078.9 260.4 L 1092.1 250.5 L 1100.3 276.9 L 1087.1 286.8 Z M 1088.8 253.8 L 1095.4 248.9 L 1103.6 273.6 L 1097.0 278.5 Z M 1059.1 273.6 L 1075.6 267.0 L 1078.9 280.2 L 1064.1 286.8 Z" stroke-width="2.0"/>
<path d="M 1093.7 179.6 L 1125.0 290.1 M 1097.0 179.6 L 1130.0 290.1 M 1102.0 191.2 L 1134.9 290.1" stroke-width="2.0"/>
<path d="M 991.5 293.0 L 999.8 279.8 L 1016.3 273.2 L 1032.7 278.1 M 994.8 273.2 L 1019.6 266.6 L 1034.4 271.5 M 1026.1 293.0 L 1034.4 291.3 L 1032.7 278.1 M 999.8 279.8 L 1003.1 266.6 M 988.2 288.0 L 994.8 293.0" stroke-width="1.4"/>
<path d="M 1034.4 307.8 L 1057.5 291.3 L 1088.8 284.7 M 1034.4 307.8 L 1283.2 260.0 M 1057.5 291.3 L 1062.4 299.6 L 1066.4 362.2 L 1134.9 487.4 L 1141.5 505.6 M 1062.4 299.6 L 1055.8 260.0 M 1082.2 299.6 L 1088.8 284.7 L 1111.8 279.8" stroke-width="1.4"/>
<path d="M 1055.8 260.0 L 1078.9 319.3 L 1151.4 454.5 L 1159.6 461.1 L 1167.9 454.5 M 1059.1 279.8 L 1082.2 299.6 L 1108.5 349.0 L 1159.6 431.4 M 1078.9 260.0 L 1088.8 284.7 L 1138.2 322.6 L 1191.0 405.0 M 1111.8 260.0 L 1210.7 398.4 L 1207.4 406.7 L 1191.0 405.0 M 1125.0 260.0 L 1210.7 391.8 M 1082.2 299.6 L 1092.1 291.3 L 1118.4 335.8 L 1131.6 324.3 L 1141.5 322.6 M 1108.5 349.0 L 1118.4 335.8 M 1138.2 322.6 L 1141.5 339.1 L 1144.8 340.8 M 1093.7 368.8 L 1108.5 362.2 L 1164.6 444.6 M 1111.8 368.8 L 1177.8 418.2" stroke-width="2.0"/>
<path d="M 1151.4 454.5 L 1191.0 405.0 M 1144.8 459.4 L 1151.4 454.5 M 1159.6 461.1 L 1207.4 406.7 M 1167.9 454.5 L 1210.7 401.7 M 1154.7 449.5 L 1164.6 452.8 L 1194.2 414.9 M 1187.7 410.0 L 1207.4 411.6" stroke-width="2.0"/>
<path d="M 1191.0 260.0 C 1210.7 299.6 1237.1 339.1 1260.2 365.5 L 1309.6 367.1 L 1334.3 368.8 M 1260.2 365.5 L 1144.8 505.6 M 1255.2 373.7 L 1148.1 500.6 M 1309.6 367.1 L 1191.0 517.1 M 1316.2 373.7 L 1194.2 517.8 M 1312.9 370.4 L 1192.6 517.4 M 1286.5 260.0 L 1312.9 368.8 M 1270.1 365.5 L 1309.6 373.7" stroke-width="2.0"/>
<path d="M 1197.5 260.0 C 1217.3 299.6 1243.7 342.4 1263.5 362.2" stroke-width="1.4"/>
<path d="M 1070.6 362.2 L 1077.2 360.5 L 1085.5 385.3 L 1078.9 386.9 Z" stroke-width="2.0"/>
<path d="M 1082.2 383.6 L 1088.8 382.0 L 1097.0 405.0 L 1090.4 406.7 Z" stroke-width="2.0"/>
<path d="M 1093.7 403.4 L 1100.3 401.7 L 1105.3 419.9 L 1098.7 421.5 Z" stroke-width="2.0"/>
<path d="M 1106.9 419.9 L 1113.5 418.2 L 1123.4 456.1 L 1116.8 457.8 Z" stroke-width="2.0"/>
<path d="M 1125.0 456.1 L 1131.6 454.5 L 1143.2 485.8 L 1136.6 487.4 Z" stroke-width="2.0"/>
<path d="M 1110.2 434.7 L 1120.1 454.5 M 1113.5 433.0 L 1123.4 452.8 M 1126.7 467.7 L 1138.2 485.8" stroke-width="2.0"/>
<ellipse cx="1200.2" cy="297.9" rx="4.3" ry="8.6" transform="rotate(-15 1200.2 297.9)" stroke-width="1.4"/>
<path d="M 1034.4 307.8 L 1334.3 368.8 M 1161.3 260.0 L 1197.5 517.1 M 1191.0 260.0 L 1210.7 517.1 M 1223.9 260.0 L 1334.3 368.8 M 1108.5 362.2 L 1334.3 368.8 M 1260.2 365.5 L 1191.0 517.1 M 1194.2 302.8 L 1197.5 517.1 M 1144.8 505.6 L 1309.6 373.7 M 1250.3 391.8 L 1197.5 510.5 M 1065.7 362.2 L 1210.7 398.4 M 1111.8 368.8 L 1260.2 365.5" stroke-width="0.7"/>
</g>
<g id="charger_extra">
<path d="M 1093.5 180.3 L 1109.1 242.7 L 1147.3 332.9 L 1188.9 412.7 M 1098.7 180.3 L 1116.1 239.3 L 1154.2 329.4 L 1209.7 398.8" stroke-width="2.0"/>
<path d="M 1048.4 228.9 L 1064.0 287.8 L 1074.4 346.8 L 1098.7 409.2 L 1147.3 457.8 M 1053.6 228.9 L 1071.0 287.8 L 1105.6 367.6" stroke-width="2.0"/>
<path d="M 1077.9 263.6 L 1098.7 242.7 L 1109.1 239.3 L 1112.6 263.6 L 1091.8 284.4 L 1081.4 294.8 L 1105.6 367.6 M 1098.7 242.7 L 1112.6 277.4 M 1091.8 256.6 L 1105.6 287.8 M 1081.4 263.6 L 1086.6 277.4 M 1060.6 274.0 L 1077.9 263.6 M 1064.0 287.8 L 1081.4 294.8" stroke-width="2.0"/>
<path d="M 1105.6 367.6 L 1123.0 346.8 L 1129.9 326.0 L 1140.3 322.5 L 1143.8 338.1 L 1138.6 341.6 M 1098.7 367.6 L 1154.2 454.3 L 1168.1 447.3 M 1112.6 360.7 L 1161.1 433.5 M 1126.5 339.8 L 1188.9 412.7 L 1209.7 398.8 M 1140.3 326.0 L 1209.7 398.8" stroke-width="2.0"/>
<path d="M 1149.0 169.9 C 1168.1 225.4 1202.7 294.8 1261.7 364.1" stroke-width="2.0"/>
<path d="M 1012.0 208.1 L 1020.7 235.8 L 1027.6 256.6 L 1034.6 294.8 M 994.7 270.5 L 1012.0 256.6 L 1034.6 294.8 M 989.5 287.8 L 994.7 294.8 M 992.9 274.0 L 989.5 291.3 L 994.7 294.8 L 1012.0 277.4" stroke-width="1.5"/>
<path d="M 1067.5 194.2 L 1081.4 187.3 L 1093.5 180.3 M 1074.4 201.1 L 1098.7 187.3" stroke-width="1.3"/>
</g>
<g id="battery">
<path d="M 1126.1 630.5 L 1152.1 599.9 L 1170.2 594.3 L 1197.4 592.0 L 1258.6 597.7 L 1288.1 602.2 L 1293.8 606.7 L 1294.9 614.7 L 1303.9 616.9 L 1308.5 627.1 L 1335.7 760.8 L 1339.1 778.9 L 1336.8 812.9 C 1331.1 826.5 1315.3 846.9 1303.9 858.3 C 1294.9 867.3 1288.1 873.0 1281.3 874.1 L 1247.3 876.4 L 1202.0 871.9 L 1190.6 869.6 C 1186.1 867.3 1183.8 862.8 1182.7 858.3 L 1177.0 835.6 L 1173.6 822.0 L 1168.0 803.9 L 1156.7 745.0 L 1140.8 664.5 L 1134.0 661.1 Z" stroke-width="2.0" fill="#fdfdfd"/>
<path d="M 1126.1 630.5 L 1152.1 614.7 L 1168.0 635.1 L 1148.7 662.2 L 1134.0 661.1 M 1152.1 614.7 L 1156.7 599.9 M 1168.0 635.1 L 1170.2 611.3 L 1170.2 594.3 M 1134.0 661.1 L 1128.3 633.9 M 1148.7 662.2 L 1146.5 647.5" stroke-width="2.0"/>
<path d="M 1130.6 637.3 L 1136.9 658.8" stroke-width="1.6"/>
<path d="M 1133.8 635.3 L 1140.1 656.8" stroke-width="1.6"/>
<path d="M 1136.9 633.2 L 1143.3 654.8" stroke-width="1.6"/>
<path d="M 1140.1 631.2 L 1146.5 652.7" stroke-width="1.6"/>
<path d="M 1143.3 629.2 L 1149.6 650.7" stroke-width="1.6"/>
<path d="M 1146.5 627.1 L 1152.8 648.6" stroke-width="1.6"/>
<path d="M 1149.6 625.1 L 1156.0 646.6" stroke-width="1.6"/>
<path d="M 1152.8 623.0 L 1159.1 644.6" stroke-width="1.6"/>
<path d="M 1156.0 621.0 L 1162.3 642.5" stroke-width="1.6"/>
<path d="M 1129.5 636.2 L 1157.8 619.2 M 1136.3 658.8 L 1165.7 636.2 M 1139.7 615.8 L 1145.3 627.1 M 1152.1 599.9 L 1156.7 614.7 L 1168.0 611.3" stroke-width="1.4"/>
<path d="M 1170.2 594.3 L 1172.5 604.5 L 1204.2 606.7 L 1223.5 609.0 L 1267.7 612.4 L 1294.9 614.7 M 1197.4 592.0 L 1200.8 597.7 L 1258.6 603.3 L 1288.1 607.9 L 1293.8 606.7 M 1222.4 597.7 C 1224.6 596.5 1230.3 597.2 1231.4 599.9 L 1232.6 606.7 M 1272.2 605.6 C 1275.6 603.3 1281.3 604.5 1282.4 607.9 L 1283.6 613.5 M 1267.7 604.5 L 1268.8 612.4 M 1288.1 602.2 L 1290.4 612.4" stroke-width="1.4"/>
<path d="M 1172.5 597.7 L 1190.6 692.8 L 1206.5 778.9 L 1211.0 801.6 M 1178.2 597.7 L 1195.2 688.3 L 1213.3 790.3 M 1185.0 597.7 L 1202.0 692.8 L 1220.1 788.0 M 1190.6 596.5 L 1206.5 683.8 L 1223.5 778.9 M 1179.3 633.9 L 1186.1 631.7 L 1189.5 649.8 L 1182.7 652.0 Z M 1194.0 631.7 L 1198.6 630.5 L 1200.8 643.0 L 1196.3 644.1 Z" stroke-width="2.0"/>
<path d="M 1199.7 593.1 C 1206.5 620.3 1213.3 647.5 1217.8 665.6 L 1236.0 760.8 C 1239.4 778.9 1240.0 788.0 1239.4 792.5 C 1238.2 801.6 1236.0 810.7 1233.7 815.2 C 1229.2 826.5 1223.5 835.6 1217.8 842.4 C 1211.0 851.5 1203.1 859.4 1195.2 865.1 C 1190.6 867.3 1186.1 862.8 1183.8 856.0" stroke-width="2.4"/>
<path d="M 1222.4 599.9 L 1256.4 765.4 C 1257.5 778.9 1256.4 785.7 1254.1 792.5 C 1251.8 801.6 1248.4 808.4 1245.0 812.9 L 1236.0 824.3 M 1228.0 601.1 L 1258.6 756.3" stroke-width="2.0"/>
<path d="M 1232.6 616.9 L 1271.1 621.5 C 1273.4 621.9 1274.0 623.7 1274.5 626.0 L 1280.2 653.2 C 1280.6 655.4 1279.0 656.6 1276.8 656.1 L 1240.5 653.2 C 1237.8 653.0 1236.6 651.1 1236.0 648.6 L 1229.6 620.3 C 1229.2 618.1 1230.3 616.7 1232.6 616.9 Z" stroke-width="2.6"/>
<path d="M 1245.0 679.2 L 1282.4 681.5 C 1285.8 681.7 1287.2 683.8 1287.9 687.2 L 1301.7 764.2 C 1302.4 767.6 1301.2 769.0 1298.3 768.8 L 1262.0 765.8 C 1259.1 765.6 1257.9 763.8 1257.3 760.8 L 1241.6 683.3 C 1241.0 680.4 1242.3 679.0 1245.0 679.2 Z" stroke-width="1.4"/>
<path d="M 1281.3 618.1 L 1310.7 774.4 C 1311.9 790.3 1308.5 803.9 1303.9 812.9 C 1299.4 824.3 1293.8 834.5 1288.1 842.4 C 1281.3 851.5 1274.5 860.5 1267.7 867.3 M 1303.9 616.9 L 1333.4 767.6 M 1294.9 614.7 L 1299.4 638.5 L 1326.6 778.9" stroke-width="2.0"/>
<path d="M 1236.0 776.7 L 1256.4 768.8 L 1310.7 774.4 L 1337.9 777.8 M 1249.6 811.8 L 1303.9 817.5 L 1335.7 815.2 M 1226.9 831.1 L 1288.1 842.4 L 1322.1 835.6 M 1208.8 849.2 L 1270.0 853.7 L 1303.9 858.3 M 1213.3 790.3 L 1224.6 792.5 L 1236.0 776.7 M 1195.2 865.1 L 1202.0 871.9" stroke-width="1.4"/>
<ellipse cx="1268.8" cy="789.1" rx="6.3" ry="9.7" transform="rotate(-8 1268.8 789.1)" stroke-width="1.6"/>
<ellipse cx="1322.5" cy="797.1" rx="6.3" ry="9.7" transform="rotate(-8 1322.5 797.1)" stroke-width="1.6"/>
<path d="M 1319.4 790.3 L 1325.7 803.9" stroke-width="1.6"/>
<path d="M 1183.8 751.8 L 1190.6 733.6 L 1199.7 738.2 L 1213.3 801.6 L 1206.5 803.9 L 1190.6 769.9 Z" fill="#000"/>
<path d="M 1189.5 740.4 L 1199.7 738.6" stroke-width="1" stroke="#fff"/>
<path d="M 1191.6 747.7 L 1201.7 745.9" stroke-width="1" stroke="#fff"/>
<path d="M 1193.6 754.9 L 1203.8 753.1" stroke-width="1" stroke="#fff"/>
<path d="M 1195.6 762.2 L 1205.8 760.4" stroke-width="1" stroke="#fff"/>
<path d="M 1197.7 769.4 L 1207.9 767.6" stroke-width="1" stroke="#fff"/>
<path d="M 1199.7 776.7 L 1209.9 774.9" stroke-width="1" stroke="#fff"/>
<path d="M 1201.7 783.9 L 1211.9 782.1" stroke-width="1" stroke="#fff"/>
<path d="M 1203.8 791.2 L 1214.0 789.4" stroke-width="1" stroke="#fff"/>
<path d="M 1161.2 747.2 L 1186.1 720.0 L 1190.6 733.6 L 1179.3 751.8 L 1168.0 754.0 Z M 1168.0 742.7 L 1185.0 726.8 M 1172.5 747.2 L 1188.4 731.4 M 1160.1 743.8 L 1173.6 754.0 L 1182.7 752.9" stroke-width="2.0"/>
<path d="M 1173.6 822.0 L 1192.9 826.5 L 1188.4 833.3 L 1177.0 835.6 M 1156.7 745.0 L 1161.2 747.2 L 1174.8 819.7 M 1182.7 858.3 C 1190.6 867.3 1197.4 867.3 1202.0 862.8 M 1177.0 824.3 L 1199.7 862.8" stroke-width="2.0"/>
<path d="M 1140.8 664.5 L 1161.2 747.2 M 1148.7 662.2 L 1174.8 733.6 M 1156.7 665.6 L 1190.6 692.8 M 1168.0 635.1 L 1190.6 715.5 M 1211.0 643.0 L 1226.9 622.6 M 1208.8 688.3 L 1240.5 681.5 M 1213.3 790.3 L 1258.6 876.4 M 1226.9 831.1 L 1281.3 874.1 M 1236.0 824.3 L 1303.9 858.3 M 1213.3 801.6 L 1247.3 876.4 M 1240.5 826.5 L 1322.1 835.6 M 1256.4 768.8 L 1236.0 824.3 M 1310.7 774.4 L 1267.7 867.3 M 1202.0 643.0 L 1217.8 627.1 L 1236.0 624.9 M 1199.7 692.8 L 1288.1 681.5" stroke-width="0.7"/>
</g>
<g id="mainhousing">
<path d="M 516.8 2119.1 C 518.2 2115.4 522.5 2114.3 526.7 2115.4 L 695.3 2171.5 C 699.5 2174.3 701.5 2177.1 700.9 2181.4 L 698.1 2194.1 L 706.6 2253.6 C 708.0 2265.0 710.9 2273.5 716.5 2276.9 L 746.3 2287.6 L 749.1 2293.3 L 763.3 2344.3 L 771.8 2362.5 L 780.3 2402.1 L 783.1 2406.4 L 763.3 2408.4 L 766.1 2413.5 C 777.4 2427.6 784.5 2441.8 785.9 2456.0 C 788.2 2473.0 787.3 2490.0 783.1 2501.3 L 773.2 2512.6 L 667.0 2512.6 L 664.7 2516.9 L 661.3 2512.6 C 638.6 2509.8 616.0 2501.3 593.3 2481.5 C 576.3 2464.5 562.1 2433.3 545.2 2390.8 C 536.7 2371.0 525.3 2342.7 514.0 2320.0 C 508.3 2315.9 506.1 2287.6 506.9 2265.0 L 509.7 2216.8 C 511.2 2208.3 510.6 2199.8 506.9 2188.5 C 502.7 2177.1 497.0 2171.5 494.2 2164.4 L 515.4 2140.3 Z" stroke-width="1.5" fill="#fdfdfd"/>
<path d="M 494.2 2164.4 L 515.4 2144.6 C 519.7 2139.8 523.9 2138.3 528.2 2139.5 L 616.0 2170.1 C 623.0 2172.9 627.3 2177.1 630.1 2182.8 L 638.6 2202.6 L 652.8 2253.6 L 675.5 2318.8 M 515.4 2140.3 L 516.8 2119.1" stroke-width="1.2"/>
<path d="M 495.6 2163.0 L 515.4 2143.7" stroke-width="2.4"/>
<path d="M 638.6 2202.6 C 641.5 2214.0 647.1 2222.5 661.3 2225.3 M 698.1 2194.1 L 693.9 2228.1 L 703.8 2253.6" stroke-width="1.2"/>
<path d="M 562.1 2151.7 L 566.4 2152.8 L 566.4 2187.3 L 564.1 2188.5 L 562.1 2185.6 Z" stroke-width="0.8" fill="#000"/>
<path d="M 568.9 2153.9 L 573.5 2155.1 L 573.5 2190.2 L 571.2 2191.3 L 568.9 2188.5 Z" stroke-width="0.8" fill="#000"/>
<path d="M 576.0 2156.2 L 580.3 2157.3 L 580.3 2193.3 L 578.0 2194.4 L 576.0 2191.6 Z" stroke-width="0.8" fill="#000"/>
<path d="M 583.1 2158.5 L 587.1 2159.6 L 587.1 2196.4 L 584.8 2197.5 L 583.1 2194.7 Z" stroke-width="0.8" fill="#000"/>
<path d="M 589.9 2160.7 L 594.2 2161.8 L 594.2 2199.2 L 591.9 2200.4 L 589.9 2197.5 Z" stroke-width="0.8" fill="#000"/>
<path d="M 596.7 2163.0 L 601.2 2164.1 L 601.2 2202.1 L 599.0 2203.2 L 596.7 2200.4 Z" stroke-width="0.8" fill="#000"/>
<path d="M 603.8 2165.2 L 608.0 2166.4 L 608.0 2205.2 L 605.8 2206.3 L 603.8 2203.5 Z" stroke-width="0.8" fill="#000"/>
<path d="M 640.9 2177.7 L 691.0 2192.7 L 691.9 2206.0 L 644.3 2192.7 Z" fill="#000"/>
<path d="M 645.7 2179.1 L 648.0 2189.9" stroke-width="1.2" stroke="#fdfdfd"/>
<path d="M 651.7 2180.8 L 653.9 2191.6" stroke-width="1.2" stroke="#fdfdfd"/>
<path d="M 657.6 2182.8 L 659.9 2193.6" stroke-width="1.2" stroke="#fdfdfd"/>
<path d="M 663.6 2184.5 L 665.8 2195.3" stroke-width="1.2" stroke="#fdfdfd"/>
<path d="M 669.5 2186.2 L 671.8 2197.0" stroke-width="1.2" stroke="#fdfdfd"/>
<path d="M 675.5 2187.9 L 677.7 2198.7" stroke-width="1.2" stroke="#fdfdfd"/>
<path d="M 681.4 2189.9 L 683.7 2200.7" stroke-width="1.2" stroke="#fdfdfd"/>
<path d="M 687.3 2191.6 L 689.6 2202.4" stroke-width="1.2" stroke="#fdfdfd"/>
<path d="M 645.1 2194.7 C 650.0 2192.7 683.9 2202.6 692.4 2206.0 L 696.7 2226.7 C 696.7 2232.4 693.9 2234.4 689.6 2233.2 L 654.2 2221.1 C 650.0 2219.1 647.7 2215.4 647.1 2211.1 Z" stroke-width="1.6"/>
<path d="M 657.0 2204.9 L 685.4 2213.4 C 688.2 2215.1 688.2 2222.5 684.5 2225.3 L 657.9 2217.4 C 654.2 2215.4 654.2 2206.9 657.0 2204.9 Z" stroke-width="2.2"/>
<path d="M 664.1 2207.7 L 665.5 2219.6 M 683.9 2214.0 L 672.6 2221.9" stroke-width="1.3"/>
<path d="M 600.4 2248.0 C 607.5 2239.5 627.3 2233.2 650.0 2232.7 C 672.6 2232.7 689.6 2239.5 703.8 2252.5" stroke-width="2.6"/>
<path d="M 658.5 2240.0 C 675.5 2240.9 689.6 2243.7 699.5 2250.2 L 720.2 2335.8 L 678.3 2321.6 Z" stroke-width="1.3"/>
<path d="M 650.0 2233.8 L 675.5 2318.8 L 720.8 2341.4" stroke-width="2.0"/>
<path d="M 703.8 2252.5 L 715.1 2276.3 M 706.6 2253.6 L 726.4 2344.3 M 716.5 2276.9 L 734.9 2344.3" stroke-width="1.2"/>
<path d="M 509.7 2216.8 C 514.0 2211.7 519.7 2210.6 525.3 2210.0 L 550.8 2209.7 C 556.5 2210.6 559.9 2215.4 561.6 2221.1 L 573.5 2344.3 M 522.5 2211.1 L 536.7 2344.3 M 550.8 2209.7 L 565.0 2344.3 M 562.1 2225.3 C 567.8 2222.5 576.3 2221.9 582.0 2223.0 C 591.9 2225.9 597.6 2233.8 601.8 2248.0 L 627.3 2344.3" stroke-width="1.2"/>
<path d="M 730.7 2295.5 L 746.3 2294.1 L 763.3 2344.3 M 733.5 2298.9 L 749.1 2344.3 M 736.4 2297.5 L 753.3 2344.3" stroke-width="1.2"/>
<path d="M 730.7 2295.5 L 746.3 2294.1 L 747.7 2299.5 L 732.7 2301.2 Z" fill="#000"/>
<path d="M 744.8 2299.5 L 760.4 2344.3 M 747.7 2298.9 L 762.7 2344.3" stroke-width="1.5" stroke-dasharray="2 2"/>
<ellipse cx="570.1" cy="2352.6" rx="11.3" ry="11.3" stroke-width="2.4"/>
<ellipse cx="569.5" cy="2354.0" rx="7.4" ry="7.4" stroke-width="1.3"/>
<path d="M 563.6 2354.0 L 574.9 2356.8 M 565.0 2348.3 L 573.5 2361.1" stroke-width="1.2"/>
<path d="M 532.4 2320.0 C 539.5 2342.7 548.0 2365.3 559.3 2379.5 C 576.3 2402.1 599.0 2413.5 627.3 2423.4 C 650.0 2431.9 661.3 2441.8 668.4 2454.5" stroke-width="1.2"/>
<path d="M 562.1 2320.0 L 566.4 2342.1 M 572.1 2320.0 L 573.5 2341.5 M 573.5 2362.5 C 579.1 2373.8 593.3 2385.1 607.5 2389.4 C 618.8 2392.2 633.0 2389.4 638.6 2386.6 L 655.6 2384.6 L 763.3 2408.4 M 621.6 2320.0 L 634.4 2387.4 M 675.5 2320.0 C 678.3 2337.0 679.7 2351.2 678.3 2362.5 C 661.3 2362.5 647.1 2368.1 638.6 2386.6 M 678.3 2362.5 L 740.6 2376.6 L 720.8 2320.0 M 737.8 2320.0 L 743.4 2348.3 L 771.8 2362.5 M 743.4 2320.0 L 749.1 2359.7 L 770.3 2361.9" stroke-width="1.2"/>
<path d="M 744.8 2320.0 L 749.1 2361.1 L 771.2 2362.5" stroke-width="2.0"/>
<path d="M 763.3 2408.4 L 780.3 2405.0 L 771.8 2362.5" stroke-width="2.0"/>
<path d="M 625.9 2400.7 C 627.3 2397.9 631.5 2398.7 634.4 2400.7 L 657.0 2417.7 C 659.0 2420.6 657.0 2423.4 653.4 2422.0 L 628.7 2405.0 C 626.7 2403.6 625.6 2402.1 625.9 2400.7 Z" stroke-width="1.8"/>
<path d="M 667.0 2454.5 L 771.8 2453.1 L 787.3 2467.3 M 675.5 2464.5 C 678.3 2478.6 676.9 2495.6 667.0 2512.6 M 673.5 2463.0 C 676.3 2478.6 674.9 2495.6 664.7 2516.9" stroke-width="2.2"/>
<path d="M 667.0 2454.5 L 675.5 2464.5 L 776.0 2463.0 M 678.3 2467.3 L 776.0 2466.4 M 678.3 2476.6 L 774.6 2475.8 M 773.2 2512.6 L 783.1 2478.6 L 776.0 2463.0" stroke-width="1.2"/>
<path d="M 688.2 2513.2 L 691.0 2516.0 L 696.7 2514.9 L 695.8 2512.6" stroke-width="1.2"/>
<path d="M 700.9 2399.3 L 720.8 2402.1 L 763.3 2410.6 L 780.3 2444.6 L 785.9 2456.0 M 720.8 2402.1 L 743.4 2450.3 L 774.6 2453.1 M 726.4 2405.0 L 747.7 2447.5 M 732.1 2406.4 L 751.9 2446.0 M 737.8 2407.8 L 756.2 2444.6 M 743.4 2450.3 L 751.9 2441.8 L 777.4 2440.4 M 746.3 2410.6 L 760.4 2433.3 L 766.1 2430.5 L 753.3 2410.1 M 720.8 2402.1 L 723.6 2399.3 L 734.9 2402.1" stroke-width="1.6"/>
<path d="M 722.2 2403.6 L 744.8 2448.9 L 742.0 2451.7 L 719.4 2405.0 Z" fill="#000"/>
<path d="M 754.8 2429.1 L 761.8 2427.6 L 763.3 2434.7 L 757.6 2436.1 Z" fill="#000"/>
</g>
<text transform="translate(728.5,2444) rotate(-127)" font-size="8" class="t" font-weight="bold" letter-spacing="3.6">CARVEX</text>
<g id="lefthousing">
<path d="M 147.9 2407.4 L 160.2 2406.0 L 180.8 2412.9 L 184.9 2418.3 L 194.5 2417.0 L 311.3 2459.5 L 327.8 2441.7 L 355.2 2451.3 L 356.6 2477.4 L 363.5 2510.4 L 371.7 2537.8 L 388.2 2587.3 L 395.1 2584.5 L 410.2 2639.5 L 421.2 2668.7 L 432.1 2720.9 L 418.4 2729.1 L 419.8 2737.3 L 410.2 2742.8 L 410.2 2753.8 L 439.0 2757.9 L 434.9 2764.8 L 423.9 2770.3 L 333.3 2770.3 L 327.8 2762.6 L 305.8 2774.4 L 294.8 2771.7 C 281.1 2767.5 267.3 2759.3 256.4 2745.6 C 245.4 2731.8 239.9 2718.1 234.4 2704.4 C 226.1 2685.1 212.4 2660.4 198.7 2641.2 C 191.8 2627.5 187.7 2613.7 184.9 2600.0 C 179.4 2587.3 175.3 2573.5 173.9 2559.8 C 171.2 2537.8 170.7 2521.4 171.2 2504.9 L 173.9 2463.7 L 173.9 2438.9 L 165.7 2444.4 L 147.9 2436.2 Z" stroke-width="1.4" fill="#fdfdfd"/>
<path d="M 182.7 2415.6 C 180.8 2430.7 178.9 2449.9 178.3 2463.7 C 177.2 2482.9 176.7 2496.6 177.2 2510.4 C 178.1 2526.8 179.4 2543.3 182.2 2559.8 C 186.3 2581.8 191.8 2599.6 197.3 2614.7 L 215.7 2641.2" stroke-width="8.5"/>
<path d="M 215.7 2641.2 C 226.1 2660.4 234.4 2676.9 242.1 2690.1 C 250.9 2706.6 261.3 2720.3 269.5 2730.7" stroke-width="6.5"/>
<path d="M 269.5 2730.7 C 279.7 2741.5 287.9 2748.3 296.2 2752.4 C 307.2 2757.1 318.2 2759.9 329.1 2760.7" stroke-width="4"/>
<path d="M 182.7 2415.6 C 180.8 2430.7 178.9 2449.9 178.3 2463.7 C 177.2 2482.9 176.7 2496.6 177.2 2510.4 C 178.1 2526.8 179.4 2543.3 182.2 2559.8 C 186.3 2581.8 191.8 2599.6 197.3 2614.7 L 215.7 2641.2" stroke-width="1" stroke="#fdfdfd" stroke-dasharray="1.5 3"/>
<path d="M 215.7 2641.2 C 226.1 2660.4 234.4 2676.9 242.1 2690.1 C 250.9 2706.6 261.3 2720.3 269.5 2730.7" stroke-width="0.9" stroke="#fdfdfd" stroke-dasharray="1.5 3"/>
<path d="M 147.9 2407.4 L 150.6 2436.2 M 160.2 2406.0 L 164.3 2411.5 L 150.6 2422.5 M 164.3 2411.5 L 180.8 2436.2 L 173.9 2438.9 M 160.2 2406.0 L 158.8 2408.7 L 149.2 2410.1" stroke-width="1.8"/>
<path d="M 164.3 2411.5 L 171.2 2415.6 L 182.2 2433.5 L 180.8 2436.2 Z" fill="#000"/>
<path d="M 184.9 2418.3 L 186.3 2422.5 L 311.3 2464.2 L 311.3 2459.5 M 194.5 2417.0 L 195.4 2421.1 M 186.3 2422.5 L 189.1 2436.2 L 191.8 2445.8 L 305.8 2477.4 L 311.3 2464.2 M 191.8 2445.8 L 212.4 2460.9 M 189.1 2436.2 L 261.8 2458.2 L 256.4 2467.8 M 261.8 2458.2 L 305.8 2472.5" stroke-width="1.2"/>
<path d="M 239.9 2441.7 L 242.6 2444.4 M 250.9 2445.8 L 253.6 2448.6 M 267.3 2451.3 L 270.6 2454.9 M 278.3 2454.1 L 283.8 2456.8" stroke-width="1.2"/>
<path d="M 327.8 2443.1 L 355.2 2452.7 C 355.8 2466.4 356.9 2480.2 358.5 2491.1 C 360.7 2504.9 364.8 2518.6 369.0 2532.3 L 388.2 2598.3" stroke-width="4.6"/>
<path d="M 311.3 2459.5 L 327.8 2441.7 M 314.0 2463.7 L 330.5 2447.2 L 349.7 2454.1 L 347.0 2477.4 M 349.7 2454.1 C 349.7 2474.7 352.5 2493.9 358.0 2510.4 C 363.5 2532.3 371.7 2554.3 378.6 2576.3 L 386.8 2599.6" stroke-width="1.2"/>
<path d="M 224.8 2565.3 L 217.9 2488.4 C 217.3 2477.4 222.0 2470.5 230.3 2468.6 C 242.6 2465.9 255.0 2470.5 261.8 2478.8 C 268.7 2488.4 272.8 2502.1 278.3 2515.9 L 294.8 2570.8 C 301.7 2592.8 305.8 2609.2 308.5 2623.0 L 309.9 2624.7 C 308.5 2633.0 304.4 2639.8 297.6 2643.9 C 289.3 2648.9 278.3 2650.0 267.3 2648.1 C 259.1 2646.1 252.2 2641.2 248.1 2635.7 C 241.2 2626.1 235.8 2613.7 231.6 2600.0" stroke-width="5.2"/>
<path d="M 224.8 2565.3 L 217.9 2488.4 C 217.3 2477.4 222.0 2470.5 230.3 2468.6 C 242.6 2465.9 255.0 2470.5 261.8 2478.8 C 268.7 2488.4 272.8 2502.1 278.3 2515.9 L 294.8 2570.8 C 301.7 2592.8 305.8 2609.2 308.5 2623.0 L 309.9 2624.7 C 308.5 2633.0 304.4 2639.8 297.6 2643.9 C 289.3 2648.9 278.3 2650.0 267.3 2648.1 C 259.1 2646.1 252.2 2641.2 248.1 2635.7 C 241.2 2626.1 235.8 2613.7 231.6 2600.0" stroke-width="1.0" stroke="#fdfdfd" stroke-dasharray="2 2.5"/>
<path d="M 230.3 2568.0 L 222.8 2488.4 C 222.3 2480.2 226.1 2474.7 233.0 2473.0 C 244.0 2470.5 253.6 2474.7 259.1 2482.3 C 266.0 2491.1 270.1 2504.9 275.0 2518.6 L 290.7 2570.8 C 297.6 2592.8 301.7 2609.2 304.4 2623.0 L 305.8 2623.3" stroke-width="1.2"/>
<path d="M 214.1 2478.8 L 222.3 2477.4 L 230.5 2566.7 L 222.3 2571.3 Z" stroke-width="1" fill="#000"/>
<path d="M 222.3 2571.3 L 230.5 2566.7 L 232.2 2570.8 L 223.9 2576.3 Z" stroke-width="1.3" fill="#fdfdfd"/>
<path d="M 215.2 2477.4 C 217.9 2471.9 222.0 2467.8 226.1 2465.9 M 230.5 2570.8 L 237.7 2639.5 M 223.9 2576.3 L 228.9 2639.5 M 209.7 2485.6 L 217.3 2573.5" stroke-width="1.3"/>
<path d="M 224.8 2480.2 C 239.9 2480.2 250.9 2485.6 257.7 2499.4 L 294.8 2614.7 M 263.2 2502.1 C 266.0 2496.6 270.1 2495.3 274.2 2497.2 M 263.2 2502.1 L 297.6 2614.7 M 267.3 2499.4 L 301.7 2614.7" stroke-width="1.2"/>
<path d="M 272.8 2478.8 L 276.7 2479.6 L 285.2 2508.4 L 281.3 2507.3 Z" stroke-width="0.6" fill="#000" stroke-dasharray="3 1.5"/>
<path d="M 280.2 2481.2 L 284.1 2482.1 L 292.6 2510.9 L 288.8 2509.8 Z" stroke-width="0.6" fill="#000" stroke-dasharray="3 1.5"/>
<path d="M 287.7 2483.7 L 291.5 2484.5 L 300.0 2513.4 L 296.2 2512.3 Z" stroke-width="0.6" fill="#000" stroke-dasharray="3 1.5"/>
<path d="M 295.1 2486.2 L 298.9 2487.0 L 307.4 2515.9 L 303.6 2514.8 Z" stroke-width="0.6" fill="#000" stroke-dasharray="3 1.5"/>
<path d="M 302.5 2488.7 L 306.3 2489.5 L 314.9 2518.3 L 311.0 2517.2 Z" stroke-width="0.6" fill="#000" stroke-dasharray="3 1.5"/>
<path d="M 309.9 2491.1 L 313.8 2492.0 L 322.3 2520.8 L 318.4 2519.7 Z" stroke-width="0.6" fill="#000" stroke-dasharray="3 1.5"/>
<ellipse cx="195.9" cy="2456.8" rx="6.0" ry="6.9" transform="rotate(-20 195.9 2456.8)" stroke-width="2.2"/>
<ellipse cx="194.8" cy="2457.9" rx="9.1" ry="9.7" transform="rotate(-20 194.8 2457.9)" stroke-width="1.1"/>
<ellipse cx="334.6" cy="2463.7" rx="5.5" ry="6.3" transform="rotate(-20 334.6 2463.7)" stroke-width="2.2"/>
<ellipse cx="333.5" cy="2464.8" rx="8.2" ry="8.8" transform="rotate(-20 333.5 2464.8)" stroke-width="1.1"/>
<ellipse cx="298.9" cy="2550.2" rx="6.6" ry="7.6" transform="rotate(-20 298.9 2550.2)" stroke-width="2.2"/>
<ellipse cx="297.8" cy="2551.3" rx="9.9" ry="10.5" transform="rotate(-20 297.8 2551.3)" stroke-width="1.1"/>
<ellipse cx="342.9" cy="2559.8" rx="7.7" ry="8.8" transform="rotate(-20 342.9 2559.8)" stroke-width="2.2"/>
<ellipse cx="341.8" cy="2560.9" rx="11.5" ry="12.3" transform="rotate(-20 341.8 2560.9)" stroke-width="1.1"/>
<ellipse cx="202.0" cy="2563.9" rx="6.6" ry="7.6" transform="rotate(-20 202.0 2563.9)" stroke-width="2.2"/>
<ellipse cx="200.9" cy="2565.0" rx="9.9" ry="10.5" transform="rotate(-20 200.9 2565.0)" stroke-width="1.1"/>
<ellipse cx="212.4" cy="2583.2" rx="5.5" ry="6.3" transform="rotate(-20 212.4 2583.2)" stroke-width="2.2"/>
<ellipse cx="211.3" cy="2584.3" rx="8.2" ry="8.8" transform="rotate(-20 211.3 2584.3)" stroke-width="1.1"/>
<ellipse cx="217.3" cy="2623.0" rx="4.9" ry="5.7" transform="rotate(-20 217.3 2623.0)" stroke-width="2.2"/>
<ellipse cx="216.2" cy="2624.1" rx="7.4" ry="7.9" transform="rotate(-20 216.2 2624.1)" stroke-width="1.1"/>
<path d="M 184.9 2474.7 C 193.2 2480.2 201.4 2480.2 209.7 2474.7 L 215.2 2466.4 M 183.6 2469.2 C 189.1 2485.6 201.4 2489.8 212.4 2482.9" stroke-width="1.2"/>
<path d="M 305.8 2477.4 L 319.5 2493.9 L 333.3 2495.3 L 331.9 2504.9 L 322.3 2515.9 L 283.8 2504.9 M 322.3 2471.9 L 338.8 2466.4 L 333.3 2485.6 L 322.3 2488.4 Z M 319.5 2493.9 L 316.8 2477.4 M 326.4 2480.2 L 331.9 2503.5" stroke-width="1.8"/>
<path d="M 289.3 2535.1 C 305.8 2540.6 322.3 2542.0 333.3 2540.6 M 305.8 2554.3 L 327.8 2551.6 L 338.8 2543.3 L 358.0 2524.1 L 362.1 2532.3 L 347.0 2544.7 M 338.8 2543.3 L 349.7 2521.4 L 360.7 2522.7 M 327.8 2551.6 L 344.2 2526.8" stroke-width="1.2"/>
<path d="M 333.3 2570.8 L 347.0 2603.8 L 358.0 2639.5 M 349.7 2565.3 L 363.5 2603.8 L 373.1 2639.5 M 358.0 2548.8 L 386.8 2599.6" stroke-width="1.2"/>
<path d="M 311.3 2601.0 L 327.8 2603.8 L 326.4 2607.9 L 322.3 2607.1 L 327.8 2639.5 M 316.8 2599.6 L 322.3 2639.5 M 341.5 2595.5 L 348.4 2594.1 L 349.7 2606.5 L 344.2 2607.9 Z" stroke-width="1.8"/>
<path d="M 305.8 2631.2 C 322.3 2634.0 344.2 2634.0 363.5 2628.5 L 388.2 2614.7 L 396.4 2620.2 L 393.7 2634.0 L 371.7 2639.5 M 363.5 2628.5 L 369.0 2636.7 M 377.2 2621.6 L 381.3 2631.2" stroke-width="1.2"/>
<path d="M 212.4 2616.5 L 217.9 2608.2 L 220.6 2612.4 L 215.2 2622.0 Z M 208.3 2633.0 L 212.4 2643.9" stroke-width="1.8"/>
<ellipse cx="217.3" cy="2623.3" rx="3.8" ry="4.7" transform="rotate(-20 217.3 2623.3)" stroke-width="2"/>
<path d="M 311.3 2638.4 C 327.8 2646.7 349.7 2650.8 366.2 2645.3 C 377.2 2641.2 388.2 2633.0 396.4 2624.7 L 385.5 2616.5 M 311.3 2627.5 C 327.8 2635.7 349.7 2638.4 363.5 2634.3 L 385.5 2616.5 M 363.5 2641.2 L 369.0 2649.4 L 390.9 2638.4 L 386.8 2630.2 M 322.3 2600.0 L 333.3 2638.4 M 347.0 2600.0 L 353.9 2630.2 M 385.5 2600.0 L 404.7 2663.2 L 421.2 2690.6" stroke-width="1.2"/>
<ellipse cx="305.8" cy="2656.3" rx="4.9" ry="5.5" stroke-width="2.4"/>
<ellipse cx="298.9" cy="2672.8" rx="4.4" ry="3.3" transform="rotate(-30 298.9 2672.8)" stroke-width="1.8"/>
<path d="M 278.3 2668.7 C 283.8 2682.4 297.6 2692.0 316.8 2697.5 C 338.8 2703.0 363.5 2705.7 382.7 2704.4 C 399.2 2702.2 412.9 2697.5 421.2 2693.4 M 275.6 2674.2 C 282.4 2687.9 297.6 2697.5 319.5 2702.2 L 338.8 2705.7 M 261.8 2648.1 L 250.9 2668.7 L 245.4 2676.9 L 239.9 2672.8 L 253.6 2652.2 Z M 245.4 2676.9 L 267.3 2682.4 L 272.8 2674.2 M 267.3 2682.4 L 256.4 2698.9 L 272.8 2704.4 M 234.4 2672.8 L 248.1 2675.5 M 239.9 2685.1 L 259.1 2689.3 M 245.4 2697.5 L 261.8 2700.2" stroke-width="1.8"/>
<ellipse cx="348.4" cy="2689.3" rx="10.4" ry="4.9" transform="rotate(-5 348.4 2689.3)" stroke-width="1.4"/>
<path d="M 338.8 2690.6 L 347.0 2697.5 L 358.0 2694.8" stroke-width="1.2"/>
<path d="M 267.3 2712.6 L 294.8 2714.0 L 293.4 2720.9 L 270.1 2720.9 Z M 289.3 2727.7 L 327.8 2726.3 L 330.5 2737.3 L 294.8 2738.7 Z M 275.6 2734.6 L 294.8 2737.3 L 297.6 2748.3 M 311.3 2737.3 L 314.0 2749.7 M 322.3 2736.0 L 326.4 2749.7" stroke-width="1.8"/>
<path d="M 322.3 2707.1 L 360.7 2753.8 M 327.8 2708.5 L 366.2 2753.8 M 336.0 2709.9 L 371.7 2749.7 M 349.7 2712.6 L 377.2 2709.9 L 382.7 2731.8 L 374.5 2737.3 M 377.2 2704.4 L 396.4 2700.2 L 393.7 2709.9 L 404.7 2708.5 L 407.4 2723.6 L 418.4 2720.9" stroke-width="1.8"/>
<path d="M 272.8 2731.8 L 294.8 2745.6 L 327.8 2753.8 L 360.7 2757.9 L 355.2 2749.7 L 322.3 2744.2 L 283.8 2731.8 Z" fill="#000"/>
<path d="M 371.7 2753.8 L 393.7 2751.1 L 404.7 2755.2 L 377.2 2757.9 Z" fill="#000"/>
<path d="M 404.7 2663.2 L 399.2 2748.3 M 410.2 2742.8 L 407.4 2756.6" stroke-width="1.2"/>
<path d="M 333.3 2755.2 L 439.0 2757.9 M 333.3 2755.2 L 327.8 2762.6 M 334.6 2757.9 L 437.1 2760.7" stroke-width="1.8"/>
</g>
<g id="baseplates">
<path d="M 1189.8 2154.2 L 1249.7 2096.6 L 1249.7 2084.2 L 1266.6 2082.4 L 1333.0 2315.1 L 1334.5 2320.7 L 1312.3 2341.4 L 1303.5 2334.3 L 1303.5 2328.1 L 1296.1 2287.6 L 1270.4 2314.5 L 1290.2 2359.1 L 1291.7 2369.4 L 1271.0 2390.1 L 1253.3 2379.7 Z" stroke-width="1.8" fill="#fdfdfd"/>
<path d="M 1266.6 2082.4 L 1333.0 2315.1" stroke-width="2.6"/>
<path d="M 1254.7 2086.2 L 1319.7 2315.1 L 1327.1 2321.0 M 1259.2 2085.4 L 1324.1 2313.6 M 1249.7 2096.6 L 1315.3 2321.0 L 1307.9 2329.8 M 1253.3 2099.5 L 1316.8 2319.5 M 1327.1 2321.0 L 1310.8 2337.2 M 1333.0 2315.1 L 1327.1 2321.0" stroke-width="1.2"/>
<path d="M 1197.2 2155.6 L 1262.1 2377.1 M 1194.2 2154.2 L 1257.7 2378.6 M 1214.9 2143.8 L 1276.9 2360.8 M 1209.0 2137.9 L 1220.8 2143.8 L 1284.3 2360.8 M 1226.7 2158.6 L 1290.2 2357.9 M 1270.4 2314.5 L 1272.5 2321.0 L 1291.7 2365.3 M 1296.1 2287.6 L 1299.0 2290.0 L 1310.8 2329.8 M 1272.5 2321.0 L 1297.6 2294.4" stroke-width="1.2"/>
<path d="M 1269.5 2313.6 L 1294.6 2288.5 L 1299.0 2290.9 L 1274.5 2318.0 Z" stroke-width="2.2"/>
<path d="M 1271.0 2390.1 L 1291.7 2369.4 M 1256.2 2378.6 L 1271.0 2385.9 L 1290.2 2366.8 M 1253.3 2379.7 L 1256.2 2374.1" stroke-width="1.2"/>
<path d="M 1270.4 2314.5 L 1290.2 2359.1 L 1287.2 2362.3 L 1268.0 2318.0 Z" stroke-width="0.8" fill="#000"/>
<path d="M 1191.3 2155.6 L 1196.6 2154.2 L 1200.1 2166.0 L 1194.8 2167.4 Z" stroke-width="1.5"/>
<path d="M 1204.5 2197.0 L 1209.9 2195.5 L 1213.4 2207.3 L 1208.1 2208.8 Z" stroke-width="1.5"/>
<path d="M 1217.8 2244.2 L 1223.2 2242.7 L 1226.7 2254.5 L 1221.4 2256.0 Z" stroke-width="1.5"/>
<path d="M 1231.1 2290.0 L 1236.4 2288.5 L 1240.0 2300.3 L 1234.7 2301.8 Z" stroke-width="1.5"/>
<path d="M 1244.4 2337.2 L 1249.7 2335.8 L 1253.3 2347.6 L 1248.0 2349.0 Z" stroke-width="1.5"/>
<path d="M 1260.7 2171.9 L 1268.0 2168.9 L 1272.5 2183.7 L 1264.5 2186.6 Z M 1229.6 2205.8 L 1237.9 2203.5 L 1241.5 2216.2 L 1233.2 2218.5 Z" stroke-width="1.6"/>
<path d="M 1223.7 2137.9 L 1247.4 2117.2 L 1250.3 2129.1 L 1226.7 2149.7 Z M 1229.6 2129.1 L 1238.5 2121.7 L 1242.9 2133.5 L 1234.1 2140.9 Z M 1220.8 2143.8 C 1217.8 2149.7 1222.3 2158.6 1229.6 2157.1 L 1232.6 2160.1 M 1240.0 2118.7 L 1245.9 2117.2 L 1248.8 2133.5 L 1243.8 2135.6" stroke-width="1.6"/>
<path d="M 1226.7 2167.4 C 1231.1 2173.3 1235.6 2174.8 1238.5 2173.9 L 1242.0 2185.7 M 1253.3 2143.8 C 1250.3 2152.7 1248.8 2164.5 1253.3 2170.4 L 1256.2 2173.3" stroke-width="1.5"/>
<path d="M 1194.2 2313.6 L 1213.4 2292.9 L 1220.8 2297.4 L 1232.6 2337.2 L 1210.5 2362.3 L 1206.0 2357.9 Z" stroke-width="1.8" fill="#fdfdfd"/>
<path d="M 1213.4 2292.9 L 1226.7 2335.8 L 1209.0 2357.9 M 1203.1 2303.3 L 1216.4 2347.6 M 1220.8 2297.4 L 1232.6 2337.2 M 1197.2 2310.7 L 1209.0 2353.5" stroke-width="1.2"/>
<path d="M 1216.4 2294.4 L 1228.2 2334.3 L 1231.1 2332.8 L 1220.2 2295.9 Z" stroke-width="0.6" fill="#000"/>
<ellipse cx="1216.4" cy="2349.0" rx="3.0" ry="2.1" transform="rotate(-40 1216.4 2349.0)" stroke-width="1.2"/>
<ellipse cx="1220.8" cy="2344.6" rx="3.0" ry="2.1" transform="rotate(-40 1220.8 2344.6)" stroke-width="1.2"/>
<path d="M 1030.3 2219.1 L 1055.4 2189.6 L 1087.9 2167.4 L 1118.9 2129.1 L 1132.2 2129.1 L 1133.7 2143.8 L 1144.0 2182.2 L 1158.8 2235.4 L 1173.5 2282.6 L 1185.4 2323.6 L 1195.7 2359.1 L 1178.0 2378.3 L 1169.1 2369.4 L 1164.7 2353.2 L 1149.9 2328.1 L 1138.1 2323.6 L 1132.2 2329.6 L 1144.0 2359.1 L 1152.9 2403.4 L 1149.9 2412.2 L 1136.6 2425.5 L 1129.3 2424.0 L 1121.9 2412.2 L 1114.5 2388.6 L 1087.9 2300.0 L 1083.5 2290.0 L 1051.0 2288.5 L 1043.6 2267.8 L 1052.5 2261.9 L 1045.1 2239.8 L 1037.7 2244.2 Z" stroke-width="1.8" fill="#fdfdfd"/>
<path d="M 1118.9 2129.1 L 1121.9 2140.9 L 1173.5 2323.9 M 1123.3 2136.4 L 1132.2 2133.5 M 1126.3 2140.9 L 1179.5 2326.9 M 1108.6 2142.3 L 1117.4 2167.4 L 1161.7 2321.0 M 1098.2 2155.6 L 1108.6 2167.4 L 1117.4 2167.4 M 1118.9 2129.1 L 1107.1 2142.3 L 1098.2 2155.6 L 1090.9 2168.9" stroke-width="1.2"/>
<path d="M 1118.9 2130.5 L 1130.7 2130.5 L 1132.2 2143.8 L 1124.8 2145.3 Z" stroke-width="2.2"/>
<path d="M 1130.7 2164.5 L 1138.1 2162.1 L 1145.5 2182.8 L 1141.1 2185.2 L 1138.1 2176.3 Z" stroke-width="1.5" fill="#fdfdfd"/>
<path d="M 1138.1 2162.7 L 1146.1 2182.8" stroke-width="2.8"/>
<path d="M 1140.5 2204.4 L 1147.9 2202.0 L 1155.2 2225.6 L 1150.8 2228.0 L 1147.9 2219.1 Z" stroke-width="1.5" fill="#fdfdfd"/>
<path d="M 1147.9 2202.6 L 1155.8 2225.6" stroke-width="2.8"/>
<path d="M 1154.4 2251.6 L 1161.7 2249.2 L 1169.1 2274.3 L 1164.7 2276.7 L 1161.7 2267.8 Z" stroke-width="1.5" fill="#fdfdfd"/>
<path d="M 1161.7 2249.8 L 1169.7 2274.3" stroke-width="2.8"/>
<path d="M 1167.6 2297.4 L 1175.0 2295.0 L 1182.4 2323.1 L 1178.0 2325.4 L 1175.0 2316.6 Z" stroke-width="1.5" fill="#fdfdfd"/>
<path d="M 1175.0 2295.6 L 1183.0 2323.1" stroke-width="2.8"/>
<path d="M 1055.4 2189.6 L 1089.4 2183.7 L 1093.8 2208.8 L 1110.1 2205.8 L 1116.0 2226.5 L 1101.2 2235.4 L 1108.6 2259.0 L 1077.6 2259.0 L 1068.7 2239.8 L 1064.3 2247.2 L 1055.4 2189.6 Z" stroke-width="1.8"/>
<path d="M 1087.9 2167.4 L 1089.4 2183.7 L 1117.4 2170.4 M 1093.8 2208.8 L 1090.9 2185.2 M 1068.7 2239.8 L 1058.4 2194.0 M 1030.3 2219.1 L 1034.8 2239.8 L 1045.1 2239.8 M 1037.7 2244.2 L 1051.0 2288.5 M 1033.3 2217.6 L 1056.9 2191.1" stroke-width="1.8"/>
<path d="M 1059.9 2217.6 C 1067.2 2211.7 1085.0 2211.1 1090.9 2216.2 C 1095.3 2222.1 1093.8 2230.9 1089.4 2233.9 L 1067.2 2236.8 Z M 1067.2 2217.6 L 1071.7 2235.4 M 1074.6 2216.2 L 1079.1 2233.9 M 1082.0 2215.3 L 1086.4 2231.8" stroke-width="1.6"/>
<path d="M 1077.6 2259.0 L 1051.0 2288.5 M 1079.1 2263.4 L 1056.9 2287.0 M 1108.6 2259.0 L 1121.9 2254.5 L 1138.1 2288.5 M 1083.5 2290.0 L 1105.6 2298.8 L 1108.6 2294.4 M 1077.6 2259.0 L 1087.9 2300.0 M 1093.8 2261.9 L 1114.5 2329.8 M 1101.2 2263.4 L 1121.9 2329.8" stroke-width="1.8"/>
<path d="M 1087.9 2300.0 L 1093.8 2297.4 L 1108.6 2303.3 L 1114.5 2329.8 M 1117.4 2259.0 L 1149.9 2294.4 M 1121.9 2254.5 L 1158.8 2291.5 M 1108.6 2235.4 L 1118.9 2250.1" stroke-width="1.2"/>
<path d="M 1114.5 2282.6 L 1135.2 2273.7 M 1118.9 2303.3 L 1144.0 2285.6 M 1123.3 2318.0 L 1149.9 2303.3" stroke-width="1.2"/>
<path d="M 1132.2 2329.6 C 1131.6 2326.6 1133.7 2325.1 1136.6 2325.1 L 1149.9 2328.1 M 1136.6 2329.6 L 1145.5 2332.5 L 1147.0 2359.1 L 1154.4 2403.4 M 1141.1 2332.5 L 1141.1 2359.1 L 1149.9 2406.3 M 1139.6 2338.4 L 1145.5 2339.9 L 1145.5 2363.5 L 1139.6 2362.0 Z" stroke-width="1.8"/>
<path d="M 1139.6 2338.4 L 1145.5 2339.9 L 1145.5 2363.5 L 1139.6 2362.0 Z" fill="#000"/>
<path d="M 1087.9 2300.0 L 1117.4 2388.6 L 1123.3 2397.5 L 1138.1 2388.6 L 1147.0 2394.5 M 1093.8 2300.0 L 1121.9 2385.7 M 1102.7 2300.0 L 1126.3 2373.8 L 1136.6 2370.9 M 1121.9 2412.2 L 1130.7 2397.5 L 1149.9 2412.2 M 1129.3 2424.0 L 1138.1 2409.3 L 1152.9 2403.4 M 1123.3 2397.5 L 1121.9 2412.2 M 1120.4 2370.9 L 1129.3 2367.9 L 1132.2 2379.7" stroke-width="1.2"/>
<path d="M 1164.7 2353.2 L 1180.9 2350.2 L 1195.7 2359.1 M 1169.1 2369.4 L 1185.4 2363.5 L 1178.0 2378.3 M 1167.6 2329.6 L 1176.5 2350.2 M 1173.5 2326.6 L 1182.4 2348.7 M 1161.7 2300.0 L 1185.4 2323.6 M 1149.9 2300.0 L 1167.6 2329.6 M 1179.5 2338.4 L 1185.4 2336.9 M 1172.1 2311.8 L 1180.9 2317.7" stroke-width="1.8"/>
<path d="M 1167.6 2353.2 L 1179.5 2350.8 L 1181.8 2353.8 L 1170.0 2356.7 Z" fill="#000"/>
</g>
<g id="tube43">
<path d="M 601.7 1735.7 L 606.4 1730.0 L 610.2 1727.2 L 640.4 1727.2 L 644.2 1731.9 L 650.8 1752.7 L 652.7 1767.8 L 659.3 1774.4 L 659.3 1780.0 L 650.8 1782.9 L 634.8 1784.8 L 623.4 1790.4 L 614.0 1793.3 L 613.0 1787.6 L 606.4 1766.8 L 602.7 1748.9 Z" stroke-width="1.5" fill="#000"/>
<path d="M 611.2 1739.4 L 616.8 1737.9 L 620.6 1749.8 L 614.9 1751.2 Z M 619.7 1738.5 L 624.9 1737.6 L 627.6 1746.6 L 622.7 1747.9 Z M 628.2 1729.1 L 633.8 1728.5 L 638.5 1743.2 L 632.9 1744.7 Z" fill="#fdfdfd" stroke="none"/>
<path d="M 615.9 1755.5 C 625.3 1750.8 636.7 1748.9 646.1 1748.9 L 647.0 1752.3 C 637.6 1752.7 626.3 1754.5 617.4 1758.7 Z" fill="#fdfdfd" stroke="none"/>
<path d="M 612.1 1768.7 L 624.9 1762.5 L 628.2 1775.3 L 616.3 1781.4 Z" fill="#fdfdfd" stroke="none"/>
<path d="M 627.2 1761.2 L 648.0 1755.5 L 654.0 1770.6 L 630.6 1776.3 Z" fill="#fdfdfd" stroke="none"/>
<path d="M 630.0 1764.4 L 647.0 1760.2 L 648.0 1763.2 L 631.0 1767.8 Z" fill="#000" stroke="none"/>
<path d="M 618.7 1793.3 L 650.8 1877.3 L 654.6 1873.5 L 682.9 1865.0 L 655.5 1781.0 L 634.8 1785.1 L 624.4 1790.8 Z" stroke-width="1.8" fill="#fdfdfd"/>
<path d="M 624.4 1791.4 L 654.6 1873.5" stroke-width="1.8"/>
<path d="M 654.6 1872.0 C 661.2 1868.2 672.5 1865.6 682.9 1865.0" stroke-width="1.6"/>
<path d="M 650.8 1877.3 L 655.5 1920.0 L 663.1 1945.3 L 685.8 2022.7" stroke-width="2.6"/>
<path d="M 653.6 1875.4 L 663.1 1920.0 L 668.8 1941.5 L 690.5 2020.9" stroke-width="1.8"/>
<path d="M 660.3 1871.6 L 672.5 1920.0 L 678.2 1935.9 L 695.2 2005.7" stroke-width="1.6"/>
<path d="M 670.6 1868.8 L 684.8 1920.0 L 689.5 1930.2 L 708.4 2028.4" stroke-width="1.6"/>
<path d="M 678.2 1867.9 L 694.2 1920.0 L 698.0 1928.3 L 716.0 2030.3" stroke-width="1.6"/>
<path d="M 682.9 1865.0 L 707.5 1920.0 L 710.3 1924.5 L 723.5 1975.5 L 744.3 2051.1" stroke-width="2.4"/>
<path d="M 664.0 1944.4 C 670.6 1936.8 685.8 1930.2 710.3 1924.5" stroke-width="1.6"/>
<ellipse cx="699.9" cy="1938.7" rx="2.1" ry="5.7" transform="rotate(-12 699.9 1938.7)" stroke-width="2.2"/>
<ellipse cx="712.2" cy="1983.1" rx="2.1" ry="5.7" transform="rotate(-12 712.2 1983.1)" stroke-width="2.2"/>
<path d="M 684.8 2018.0 L 700.9 2007.6 L 703.7 2030.3 L 698.0 2035.0 L 691.4 2032.2 Z" fill="#000"/>
<path d="M 690.5 2018.0 L 699.0 2012.9 L 699.9 2018.0 L 691.8 2022.7 Z M 692.9 2025.6 L 700.9 2021.2 L 701.6 2026.1 L 694.2 2030.3 Z" fill="#fdfdfd" stroke="none"/>
<path d="M 685.8 2022.7 L 687.6 2049.2 L 693.3 2054.8 L 702.7 2081.3 C 704.6 2084.1 710.3 2084.1 711.2 2081.3 L 710.3 2075.6 L 700.9 2036.0 L 698.0 2035.0 Z" stroke-width="2.2" fill="#fdfdfd"/>
<path d="M 685.8 2022.7 L 688.6 2049.2 L 694.2 2053.9 L 704.6 2081.3 L 706.9 2080.9 L 693.3 2024.6 Z" fill="#000"/>
<path d="M 696.1 2036.0 L 708.4 2080.3" stroke-width="1.4"/>
<path d="M 704.6 2032.2 C 712.2 2035.0 721.6 2034.4 727.3 2037.8 C 733.0 2041.6 734.8 2047.3 736.4 2053.9 C 737.1 2056.7 744.3 2057.1 744.7 2053.3 L 743.9 2051.1" stroke-width="2.6"/>
</g>
<g id="electronics36">
<path d="M 310.8 1886.3 L 336.1 1846.6 L 481.5 1888.0 L 480.7 1897.1 L 473.0 1904.3 L 456.2 1930.8 L 417.8 1923.5 L 312.0 1892.8 Z" stroke-width="1.8" fill="#fdfdfd"/>
<path d="M 338.5 1851.9 L 479.1 1891.8" stroke-width="3"/>
<path d="M 336.1 1846.6 L 338.5 1858.6 L 314.4 1889.9 M 338.5 1858.6 L 477.9 1897.1 M 314.4 1887.5 L 415.4 1917.5 M 316.8 1893.5 L 417.8 1923.5" stroke-width="1.2"/>
<path d="M 318.0 1881.5 L 336.1 1857.4 L 345.7 1859.8 L 327.6 1885.1 Z M 340.9 1871.9 L 351.7 1861.1 L 357.7 1864.7 L 346.9 1879.1 Z M 333.6 1888.7 L 343.3 1879.1 L 349.3 1882.7 L 339.7 1894.7 Z" fill="#000"/>
<path d="M 322.8 1880.3 L 336.1 1863.5 M 344.5 1873.1 L 351.7 1865.9 M 337.3 1888.7 L 343.3 1882.7" stroke-width="1.2" stroke="#fdfdfd"/>
<path d="M 379.3 1876.7 L 390.1 1879.6 L 387.0 1884.4 L 376.4 1881.5 Z" stroke-width="1.4"/>
<path d="M 396.1 1881.5 L 407.0 1884.4 L 403.8 1889.2 L 393.3 1886.3 Z" stroke-width="1.4"/>
<path d="M 413.0 1886.3 L 423.8 1889.2 L 420.7 1894.0 L 410.1 1891.1 Z" stroke-width="1.4"/>
<path d="M 375.7 1883.9 L 386.5 1886.8 L 383.4 1891.6 L 372.8 1888.7 Z" stroke-width="1.4"/>
<path d="M 392.5 1888.7 L 403.3 1891.6 L 400.2 1896.4 L 389.6 1893.5 Z" stroke-width="1.4"/>
<path d="M 409.4 1893.5 L 420.2 1896.4 L 417.0 1901.2 L 406.5 1898.3 Z" stroke-width="1.4"/>
<path d="M 372.1 1890.4 L 382.9 1893.3 L 379.8 1898.1 L 369.2 1895.2 Z" stroke-width="1.4"/>
<path d="M 389.4 1895.2 L 400.2 1898.1 L 397.1 1902.9 L 386.5 1900.0 Z" stroke-width="1.4"/>
<path d="M 405.8 1900.0 L 416.6 1902.9 L 413.4 1907.7 L 402.9 1904.8 Z" stroke-width="1.4"/>
<path d="M 386.5 1865.9 L 392.5 1867.1 L 391.3 1873.1 L 385.3 1871.9 Z M 420.2 1876.7 L 427.4 1878.4 L 426.2 1883.9 L 419.0 1882.7 Z" stroke-width="1.3"/>
<path d="M 358.9 1897.1 C 358.9 1892.8 370.9 1892.8 370.9 1897.1 L 370.9 1906.7 C 370.9 1911.0 358.9 1911.0 358.9 1906.7 Z" stroke-width="1.6" fill="#fdfdfd"/>
<path d="M 372.1 1899.5 C 372.1 1897.1 379.3 1897.1 379.3 1900.0 L 379.3 1907.9 L 372.1 1906.7 Z" stroke-width="1.3" fill="#fdfdfd"/>
<path d="M 400.5 1909.1 C 400.5 1905.5 410.6 1905.5 410.6 1909.6 L 410.1 1916.3 C 409.4 1919.2 400.9 1918.7 400.5 1915.8 Z" stroke-width="1.5" fill="#fdfdfd"/>
<path d="M 414.9 1915.1 C 417.8 1909.1 429.8 1909.1 433.4 1916.3 L 433.4 1928.3 L 414.9 1927.1 Z" stroke-width="1.6" fill="#fdfdfd"/>
<ellipse cx="423.8" cy="1928.3" rx="8.7" ry="5.3" stroke-width="1.8" fill="#fdfdfd"/>
<ellipse cx="441.8" cy="1933.2" rx="9.6" ry="5.8" stroke-width="1.8" fill="#fdfdfd"/>
<ellipse cx="453.8" cy="1905.5" rx="23.6" ry="14.9" transform="rotate(8 453.8 1905.5)" fill="#000"/>
<path d="M 435.8 1893.7 L 436.5 1900.9" stroke-width="1" stroke="#fdfdfd"/>
<path d="M 438.7 1893.3 L 439.4 1900.5" stroke-width="1" stroke="#fdfdfd"/>
<path d="M 441.6 1892.8 L 442.3 1900.0" stroke-width="1" stroke="#fdfdfd"/>
<path d="M 444.4 1892.5 L 445.2 1899.7" stroke-width="1" stroke="#fdfdfd"/>
<path d="M 447.3 1892.3 L 448.1 1899.5" stroke-width="1" stroke="#fdfdfd"/>
<path d="M 450.2 1891.8 L 450.9 1899.0" stroke-width="1" stroke="#fdfdfd"/>
<path d="M 453.1 1891.3 L 453.8 1898.5" stroke-width="1" stroke="#fdfdfd"/>
<path d="M 456.0 1891.1 L 456.7 1898.3" stroke-width="1" stroke="#fdfdfd"/>
<path d="M 458.9 1891.3 L 459.6 1898.5" stroke-width="1" stroke="#fdfdfd"/>
<path d="M 461.8 1891.8 L 462.5 1899.0" stroke-width="1" stroke="#fdfdfd"/>
<path d="M 464.6 1892.3 L 465.4 1899.5" stroke-width="1" stroke="#fdfdfd"/>
<path d="M 467.5 1892.5 L 468.2 1899.7" stroke-width="1" stroke="#fdfdfd"/>
<path d="M 470.4 1892.8 L 471.1 1900.0" stroke-width="1" stroke="#fdfdfd"/>
<path d="M 473.3 1893.3 L 474.0 1900.5" stroke-width="1" stroke="#fdfdfd"/>
<ellipse cx="451.9" cy="1914.4" rx="20.2" ry="13.0" transform="rotate(8 451.9 1914.4)" stroke-width="2.2" fill="#fdfdfd"/>
<ellipse cx="451.4" cy="1914.4" rx="2.6" ry="2.2" fill="#000"/>
<ellipse cx="458.9" cy="1917.5" rx="2.6" ry="2.2" fill="#000"/>
<path d="M 392.5 1877.9 C 394.9 1865.9 392.5 1858.6 384.1 1846.6 L 375.7 1833.4" stroke-width="5" stroke="#000"/>
<path d="M 392.5 1877.9 C 394.9 1865.9 392.5 1858.6 384.1 1846.6 L 375.7 1833.4" stroke-width="2.4" stroke="#fdfdfd"/>
<path d="M 420.2 1882.7 C 420.2 1868.3 415.4 1858.6 408.2 1849.0 L 402.1 1840.6" stroke-width="5" stroke="#000"/>
<path d="M 420.2 1882.7 C 420.2 1868.3 415.4 1858.6 408.2 1849.0 L 402.1 1840.6" stroke-width="2.4" stroke="#fdfdfd"/>
<path d="M 431.0 1885.1 C 432.2 1873.1 427.4 1861.1 421.4 1853.8 L 414.2 1844.2" stroke-width="5" stroke="#000"/>
<path d="M 431.0 1885.1 C 432.2 1873.1 427.4 1861.1 421.4 1853.8 L 414.2 1844.2" stroke-width="2.4" stroke="#fdfdfd"/>
<path d="M 374.5 1832.2 L 378.1 1835.8 M 400.9 1839.4 L 404.8 1843.7 M 413.0 1843.3 L 416.8 1847.1" stroke-width="3"/>
<path d="M 471.8 1918.7 C 485.1 1917.5 492.3 1911.5 499.5 1901.9" stroke-width="5" stroke="#000"/>
<path d="M 471.8 1918.7 C 485.1 1917.5 492.3 1911.5 499.5 1901.9" stroke-width="2.4" stroke="#fdfdfd"/>
<path d="M 453.8 1931.2 C 473.0 1928.3 492.3 1925.9 504.3 1918.7 C 509.1 1915.1 511.5 1909.1 513.9 1903.1" stroke-width="5" stroke="#000"/>
<path d="M 453.8 1931.2 C 473.0 1928.3 492.3 1925.9 504.3 1918.7 C 509.1 1915.1 511.5 1909.1 513.9 1903.1" stroke-width="2.4" stroke="#fdfdfd"/>
<path d="M 497.6 1903.1 L 504.3 1881.5 L 509.1 1879.1 L 511.0 1881.5 L 504.8 1904.3 Z M 512.0 1904.3 L 519.2 1885.1 L 524.0 1882.7 L 525.9 1885.1 L 519.2 1906.7 Z" fill="#000"/>
<path d="M 500.7 1897.1 L 505.5 1898.3 M 515.1 1898.3 L 519.9 1900.0" stroke-width="1.5" stroke="#fdfdfd"/>
<path d="M 330.0 1989.6 L 354.1 1956.0 L 381.7 1960.8 L 384.1 1966.8 L 449.0 1977.6 L 456.2 1966.8 L 479.1 1972.8 L 565.6 2000.5 L 568.0 2005.3 L 560.8 2014.9 L 550.0 2030.5 L 536.7 2036.5 L 534.3 2046.1 L 527.1 2053.3 L 465.8 2046.1 L 453.8 2028.1 L 379.3 2010.1 L 351.7 2010.1 L 350.5 1998.0 L 330.0 1993.2 Z" stroke-width="1.8" fill="#fdfdfd"/>
<path d="M 354.1 1956.0 L 355.3 1959.6 L 333.6 1990.8 M 355.3 1959.6 L 379.3 1964.4 M 375.7 1960.8 L 376.9 1974.0 L 382.9 1971.6 L 381.7 1960.8 M 384.1 1966.8 L 479.1 1990.8 L 562.0 2014.9 M 382.9 1971.6 L 475.5 1994.4 L 550.0 2017.3 M 449.0 1977.6 L 450.2 1983.6 L 477.9 1990.8 L 479.1 1972.8 M 456.2 1971.6 L 473.0 1975.9 L 471.8 1982.4 L 455.0 1978.3 Z" stroke-width="1.2"/>
<path d="M 456.2 1972.8 L 472.6 1976.9 L 471.6 1981.7 L 455.3 1977.9 Z" fill="#000"/>
<path d="M 331.2 1983.6 L 351.7 1959.6 L 356.5 1963.2 L 338.5 1987.2 Z" stroke-width="1.8"/>
<path d="M 333.6 1978.8 L 348.1 1962.0 M 356.5 1964.4 L 369.7 1966.8" stroke-width="3"/>
<path d="M 350.5 1998.0 L 362.5 1978.8 L 374.5 1981.2 L 379.3 1976.4 L 400.9 1981.2 L 379.3 2010.1 M 351.7 2010.1 L 364.9 1990.8 L 372.1 1992.0 L 360.1 2010.1 M 362.5 1978.8 L 360.1 1984.8 L 372.1 1987.2 L 374.5 1981.2 M 400.9 1981.2 L 468.2 2007.7 L 453.8 2028.1 M 386.5 2002.9 L 463.4 2024.5 M 391.3 1996.8 L 465.8 2017.3 M 396.1 1990.8 L 468.2 2012.5" stroke-width="1.2"/>
<path d="M 403.3 1981.2 L 540.3 2024.5 M 405.8 1986.0 L 535.5 2029.3 M 468.2 2007.7 L 552.4 2024.5 M 473.0 2012.5 L 540.3 2034.1 M 465.8 2046.1 L 482.7 2012.5 M 453.8 2028.1 L 468.2 2007.7 M 509.1 1998.0 L 562.0 2007.7 M 504.3 2004.1 L 559.6 2017.3 M 499.5 2010.1 L 554.8 2024.5 M 509.1 1998.0 L 499.5 2010.1 M 479.1 2017.3 L 536.7 2036.5 M 482.7 2024.5 L 534.3 2041.3" stroke-width="1.2"/>
<path d="M 487.5 2019.7 L 535.5 2036.5" stroke-width="3"/>
<ellipse cx="499.5" cy="2034.1" rx="1.7" ry="1.7" fill="#000"/>
<path d="M 403.3 1982.4 C 425.0 1993.2 444.2 2002.9 468.2 2013.7 C 474.2 2024.5 471.8 2041.3 465.8 2065.3" stroke-width="3.2"/>
<path d="M 381.7 1998.0 C 408.2 2007.7 434.6 2014.9 458.6 2010.1 C 468.2 2007.7 473.0 2017.3 475.5 2029.3 L 471.8 2065.3" stroke-width="1.8"/>
<path d="M 384.1 1993.2 C 410.6 2000.5 439.4 2007.7 465.8 2012.5" stroke-width="1.8"/>
</g>
<g id="housing50">
<path d="M 479.4 1319.7 L 489.7 1305.3 L 487.7 1299.1 L 491.8 1297.1 L 495.9 1301.2 L 508.3 1288.8 L 526.8 1283.7 L 539.2 1281.6 L 541.2 1277.5 L 561.8 1276.5 L 584.5 1274.4 L 607.2 1276.5 L 615.4 1279.6 L 644.2 1281.6 L 647.3 1286.8 L 648.4 1301.2 L 651.5 1319.7 L 651.5 1330.0 L 646.3 1350.6 L 640.1 1356.8 L 633.9 1366.1 L 623.6 1365.1 L 611.3 1360.9 L 588.6 1364.0 L 539.2 1365.1 L 502.1 1364.0 L 493.9 1360.9 L 487.7 1346.5 Z" stroke-width="2.0" fill="#fdfdfd"/>
<path d="M 482.5 1321.8 L 504.2 1300.2 L 512.4 1325.9 L 495.9 1350.6 Z M 485.2 1322.8 L 503.1 1304.3 M 504.2 1300.2 L 518.6 1290.9 L 526.8 1319.7 L 512.4 1325.9 M 508.3 1288.8 L 512.4 1299.1 M 518.6 1290.9 L 527.9 1285.8" stroke-width="2.0"/>
<path d="M 526.8 1283.7 L 530.9 1287.8 L 539.2 1286.8 L 561.8 1281.6 L 584.5 1279.6 L 607.2 1281.6 L 615.4 1284.7 L 643.2 1286.8 M 539.2 1281.6 L 542.3 1284.7 M 530.9 1287.8 L 541.2 1325.9 M 535.1 1286.8 L 545.4 1323.9 M 551.5 1286.8 L 557.7 1311.5 M 592.7 1283.7 L 596.9 1298.1 M 609.2 1282.7 L 613.3 1311.5 M 619.5 1285.8 L 624.7 1309.4 M 643.2 1286.8 L 646.3 1301.2 L 648.4 1328.0" stroke-width="2.0"/>
<path d="M 533.0 1282.7 L 561.8 1278.1 L 584.5 1276.5 L 607.2 1278.5 L 642.2 1283.1" stroke-width="2.6"/>
<path d="M 557.7 1320.8 C 559.8 1309.4 566.0 1301.2 576.3 1298.1 L 594.8 1297.1 L 636.0 1299.1 L 638.1 1321.8 M 563.9 1307.4 L 574.2 1301.2 L 611.3 1301.2 M 636.0 1299.1 L 644.2 1304.3 L 645.3 1328.0 L 638.1 1321.8 M 613.3 1321.8 L 638.1 1321.8 L 645.3 1328.0 M 557.7 1319.7 L 613.3 1319.7" stroke-width="2.0"/>
<ellipse cx="576.3" cy="1315.2" rx="9.3" ry="14.8" stroke-width="2.0"/>
<ellipse cx="575.9" cy="1322.8" rx="6.6" ry="7.2" fill="#000"/>
<path d="M 571.1 1320.8 L 581.4 1318.7 M 571.1 1324.9 L 581.4 1322.8" stroke-width="1.5" stroke="#fdfdfd"/>
<ellipse cx="551.1" cy="1321.8" rx="7.2" ry="9.3" stroke-width="2.0"/>
<ellipse cx="550.5" cy="1315.6" rx="5.2" ry="2.9" transform="rotate(-10 550.5 1315.6)" stroke-width="1.5" fill="#000"/>
<ellipse cx="617.5" cy="1314.0" rx="6.6" ry="3.3" transform="rotate(-10 617.5 1314.0)" stroke-width="1.8" fill="#fdfdfd"/>
<path d="M 610.9 1314.0 L 612.3 1325.9 M 624.1 1314.0 L 622.6 1321.8" stroke-width="1.5"/>
<ellipse cx="532.0" cy="1325.9" rx="8.2" ry="4.1" transform="rotate(-10 532.0 1325.9)" stroke-width="2.4"/>
<ellipse cx="532.0" cy="1325.9" rx="4.5" ry="2.1" transform="rotate(-10 532.0 1325.9)" fill="#000"/>
<path d="M 512.4 1331.1 L 557.7 1339.3 L 613.3 1337.9 L 601.0 1358.9 L 537.1 1363.0 L 498.0 1358.9 Z" stroke-width="2.0"/>
<path d="M 512.4 1331.1 L 498.0 1358.9 M 520.6 1334.2 L 506.2 1360.9 M 528.9 1335.2 L 516.5 1352.7 L 533.0 1355.8 L 542.3 1343.4 Z M 557.7 1339.3 L 539.2 1364.0 M 551.5 1338.3 L 535.1 1362.0 M 504.2 1342.4 L 516.5 1346.5 M 502.1 1348.6 L 512.4 1351.7" stroke-width="1.3"/>
<ellipse cx="585.5" cy="1351.7" rx="12.8" ry="6.2" transform="rotate(-8 585.5 1351.7)" fill="#000"/>
<path d="M 581.4 1349.0 L 583.5 1354.4 M 586.6 1348.2 L 588.6 1353.7 M 591.7 1348.6 L 592.7 1352.7" stroke-width="2.5" stroke="#fdfdfd"/>
<ellipse cx="559.8" cy="1351.7" rx="1.6" ry="1.4" fill="#000"/>
<path d="M 613.3 1337.9 L 621.6 1330.0 L 636.0 1331.1 L 627.8 1363.0 M 605.1 1342.4 L 615.4 1341.4 L 619.5 1350.6 L 627.8 1352.7 M 611.3 1346.5 L 615.4 1356.8 L 625.7 1358.9 M 636.0 1331.1 L 640.1 1356.8 M 631.9 1350.6 L 644.2 1348.6 M 633.9 1356.8 L 642.2 1354.8" stroke-width="2.0"/>
<path d="M 605.1 1341.4 L 614.4 1340.8 L 616.4 1345.5 L 607.2 1346.5 Z M 614.4 1350.6 L 622.6 1351.7 L 623.6 1355.8 L 615.4 1355.2 Z" fill="#000"/>
</g>
<g id="cap_screw">
<ellipse cx="594.8" cy="1383.2" rx="15.7" ry="9.5" transform="rotate(-15 594.8 1383.2)" stroke-width="1.8" fill="#fdfdfd"/>
<ellipse cx="596.0" cy="1386.1" rx="14.8" ry="8.2" transform="rotate(-15 596.0 1386.1)" stroke-width="1.8" fill="#fdfdfd"/>
<path d="M 516.5 1418.2 C 517.6 1415.5 523.7 1414.9 524.4 1417.0 L 535.1 1456.7 L 527.9 1458.8 Z" stroke-width="1.6" fill="#fdfdfd"/>
<ellipse cx="533.0" cy="1462.9" rx="7.8" ry="4.5" transform="rotate(-15 533.0 1462.9)" stroke-width="1.8" fill="#fdfdfd"/>
<ellipse cx="532.6" cy="1461.9" rx="7.4" ry="3.7" transform="rotate(-15 532.6 1461.9)" stroke-width="1.0"/>
<path d="M 459.5 1421.3 L 477.0 1421.3 L 477.0 1432.8 L 459.5 1432.8 Z" stroke-width="0.6" fill="#000"/>
<path d="M 461.5 1423.0 L 474.9 1423.0 L 474.9 1431.2 L 461.5 1431.2 Z" fill="#fdfdfd" stroke="none"/>
<path d="M 461.5 1423.0 L 474.9 1431.2 M 474.9 1423.0 L 461.5 1431.2" stroke-width="1.3"/>
<path d="M 459.5 1433.0 L 477.0 1433.0 L 477.0 1444.6 L 459.5 1444.6 Z" stroke-width="0.6" fill="#000"/>
<path d="M 461.5 1434.7 L 474.9 1434.7 L 474.9 1442.9 L 461.5 1442.9 Z" fill="#fdfdfd" stroke="none"/>
<path d="M 461.5 1434.7 L 474.9 1442.9 M 474.9 1434.7 L 461.5 1442.9" stroke-width="1.3"/>
<path d="M 459.5 1444.6 L 477.0 1444.6 L 477.0 1456.1 L 459.5 1456.1 Z" stroke-width="0.6" fill="#000"/>
<path d="M 461.5 1446.2 L 474.9 1446.2 L 474.9 1454.5 L 461.5 1454.5 Z" fill="#fdfdfd" stroke="none"/>
<path d="M 461.5 1446.2 L 474.9 1454.5 M 474.9 1446.2 L 461.5 1454.5" stroke-width="1.3"/>
<path d="M 459.5 1456.1 L 477.0 1456.1 L 477.0 1467.7 L 459.5 1467.7 Z" stroke-width="0.6" fill="#000"/>
<path d="M 461.5 1457.8 L 474.9 1457.8 L 474.9 1466.0 L 461.5 1466.0 Z" fill="#fdfdfd" stroke="none"/>
<path d="M 461.5 1457.8 L 474.9 1466.0 M 474.9 1457.8 L 461.5 1466.0" stroke-width="1.3"/>
</g>
<g id="cover47">
<path d="M 642.3 1572.8 L 756.8 1572.8 L 759.2 1564.1 L 763.0 1565.3 L 766.7 1576.5 L 771.7 1569.0 L 775.4 1571.5 L 780.4 1603.9 L 779.2 1618.8 L 771.7 1628.8 L 761.7 1640.0 L 734.4 1643.7 L 667.1 1647.4 L 624.8 1647.4 L 609.9 1645.0 L 593.7 1630.0 L 593.7 1628.8 L 638.5 1631.3 C 646.0 1621.3 651.7 1608.9 652.7 1596.4 C 652.2 1586.5 648.5 1579.0 642.3 1572.8 Z" stroke-width="1.8" fill="#fdfdfd"/>
<path d="M 646.0 1574.0 C 653.5 1584.0 657.2 1593.9 657.2 1606.4 C 655.9 1618.8 649.7 1628.8 641.0 1637.5 L 627.3 1646.2" stroke-width="1.2"/>
<path d="M 642.8 1573.5 C 650.2 1583.5 654.2 1593.9 653.7 1606.4 C 652.2 1618.8 646.7 1627.5 638.5 1635.0 L 624.8 1643.7 L 599.9 1633.8" stroke-width="1.8"/>
<path d="M 654.7 1598.9 L 746.8 1598.9 M 655.9 1601.6 L 746.8 1601.6 M 638.5 1631.3 L 763.0 1632.5 M 646.0 1635.2 L 764.2 1633.8 M 602.4 1635.0 L 634.8 1636.2 M 609.9 1640.0 L 632.3 1640.0" stroke-width="1.2"/>
<path d="M 694.5 1601.6 C 694.5 1616.3 687.1 1633.8 668.4 1645.0" stroke-width="1.2"/>
<path d="M 659.7 1573.5 C 664.7 1581.5 668.4 1590.2 668.9 1600.4 L 672.9 1600.4 C 672.4 1590.2 668.9 1581.5 663.4 1573.5 Z" stroke-width="0.8" fill="#000"/>
<path d="M 673.4 1573.5 C 678.3 1581.5 682.1 1590.2 682.6 1600.4 L 686.6 1600.4 C 686.1 1590.2 682.6 1581.5 677.1 1573.5 Z" stroke-width="0.8" fill="#000"/>
<path d="M 685.8 1573.5 C 690.8 1581.5 694.5 1590.2 695.0 1600.4 L 699.0 1600.4 C 698.5 1590.2 695.0 1581.5 689.5 1573.5 Z" stroke-width="0.8" fill="#000"/>
<path d="M 698.3 1573.5 C 703.2 1581.5 707.0 1590.2 707.5 1600.4 L 711.5 1600.4 C 711.0 1590.2 707.5 1581.5 702.0 1573.5 Z" stroke-width="0.8" fill="#000"/>
<path d="M 710.7 1573.5 C 715.7 1581.5 719.4 1590.2 719.9 1600.4 L 723.9 1600.4 C 723.4 1590.2 719.9 1581.5 714.4 1573.5 Z" stroke-width="0.8" fill="#000"/>
<path d="M 723.2 1573.5 C 728.1 1581.5 731.9 1590.2 732.4 1600.4 L 736.3 1600.4 C 735.8 1590.2 732.4 1581.5 726.9 1573.5 Z" stroke-width="0.8" fill="#000"/>
<path d="M 744.3 1574.0 L 744.3 1599.4 C 749.3 1608.9 759.2 1618.8 774.2 1623.8 M 756.8 1572.8 C 751.8 1581.5 749.3 1591.4 750.5 1601.4 M 759.2 1564.1 C 764.2 1579.0 768.0 1593.9 766.7 1608.9 M 766.7 1576.5 C 771.7 1588.9 774.2 1603.9 771.7 1618.8 M 744.3 1584.0 C 754.3 1584.0 764.2 1579.0 769.2 1574.0 M 759.2 1613.8 C 764.2 1606.4 768.0 1598.9 769.2 1591.4 M 746.8 1593.9 C 756.8 1596.4 766.7 1593.9 774.2 1588.9" stroke-width="1.2"/>
<path d="M 757.5 1564.6 C 760.5 1576.5 763.0 1584.0 764.2 1591.4 L 761.2 1591.9 C 759.2 1582.7 757.3 1575.3 755.5 1569.0 Z" fill="#000"/>
</g>
<g id="wire48">
<path d="M 694.5 1523.0 L 699.0 1521.2 L 700.8 1526.7 L 804.1 1528.0 C 808.5 1528.7 809.5 1532.9 807.8 1536.2 C 806.0 1538.7 803.6 1539.2 800.3 1538.7 L 689.5 1535.4 L 683.6 1540.7 L 681.6 1538.7 L 687.6 1533.7 L 799.1 1536.2 C 804.1 1536.7 806.0 1535.4 806.0 1532.9 C 806.0 1531.2 804.1 1530.5 801.6 1530.5 L 698.3 1529.2 L 694.5 1526.7 Z" stroke-width="1.4" fill="#fdfdfd"/>
</g>
<g id="clip49">
<path d="M 785.4 1407.2 L 794.1 1401.0 L 794.1 1386.1 L 805.3 1378.6 L 820.2 1377.4 L 825.2 1359.9 L 845.1 1358.7 L 852.6 1363.7 L 857.6 1372.4 L 860.1 1391.1 L 856.3 1394.8 L 857.6 1409.7 L 848.9 1417.2 L 843.9 1424.7 L 833.9 1439.6 L 814.0 1445.8 L 801.6 1437.1 L 799.1 1429.6 L 791.6 1429.6 Z" stroke-width="1.8" fill="#fdfdfd"/>
<path d="M 794.1 1386.1 L 802.8 1427.1 L 799.1 1429.6 M 805.3 1378.6 L 815.3 1424.7 L 824.0 1430.9 L 833.9 1427.1 L 836.4 1394.8 L 825.2 1359.9 M 809.0 1379.8 C 810.3 1394.8 812.8 1409.7 817.7 1417.2 C 821.5 1420.9 827.7 1419.7 828.9 1414.7 L 830.2 1397.3 L 824.0 1367.4 M 815.3 1424.7 L 801.6 1437.1 M 833.9 1427.1 L 843.9 1424.7 M 836.4 1394.8 L 848.9 1387.3 L 857.6 1409.7 M 845.1 1358.7 L 852.6 1386.1 L 848.9 1387.3 M 824.0 1430.9 L 814.0 1445.8 M 820.2 1377.4 L 827.7 1412.2" stroke-width="1.8"/>
<path d="M 825.2 1361.2 L 842.6 1359.9 L 846.4 1377.4 L 830.2 1379.8 Z" stroke-width="2.4"/>
<path d="M 828.9 1382.3 L 838.9 1381.1 L 841.4 1392.3 L 831.9 1393.5 Z M 816.5 1389.8 L 821.5 1389.3 L 822.7 1398.5 L 818.5 1399.0 Z M 820.2 1403.5 L 825.2 1402.8 L 826.0 1411.0 L 822.0 1411.5 Z" fill="#000"/>
<path d="M 827.7 1363.7 L 840.2 1362.9 L 843.4 1376.1 L 831.9 1377.4 Z" stroke-width="1.2"/>
<path d="M 785.4 1407.2 L 787.9 1403.5 L 796.6 1427.1 L 791.6 1429.6 M 787.9 1404.7 L 795.3 1424.7 M 852.6 1363.7 L 857.6 1391.1 M 856.3 1394.8 L 848.9 1417.2" stroke-width="1.8"/>
<ellipse cx="786.1" cy="1408.5" rx="1.5" ry="1.5" fill="#000"/>
<ellipse cx="792.4" cy="1429.1" rx="1.5" ry="1.5" fill="#000"/>
<ellipse cx="858.3" cy="1391.1" rx="1.5" ry="2.0" fill="#000"/>
<ellipse cx="856.8" cy="1406.0" rx="1.5" ry="3.5" stroke-width="1.5"/>
<path d="M 815.3 1442.6 L 833.9 1437.6 M 817.7 1439.6 L 821.5 1444.1 M 824.0 1437.6 L 827.7 1442.6 M 830.2 1435.9 L 833.9 1439.6 M 836.4 1429.6 L 845.1 1423.4 M 833.9 1433.4 L 843.9 1424.7" stroke-width="1.6"/>
</g>
<g id="group50a">
<path d="M 395.5 998.2 L 399.6 1014.7 C 400.6 1016.4 406.4 1015.5 406.8 1013.7 L 403.7 997.2 Z" stroke-width="1.6" fill="#fdfdfd"/>
<ellipse cx="399.6" cy="995.6" rx="7.8" ry="3.7" transform="rotate(-5 399.6 995.6)" stroke-width="1.8" fill="#fdfdfd"/>
<ellipse cx="399.2" cy="994.5" rx="6.2" ry="2.5" transform="rotate(-5 399.2 994.5)" stroke-width="1.0"/>
<path d="M 406.8 1050.8 L 413.0 1041.5 L 427.4 1023.0 L 435.6 1016.8 C 439.7 1013.7 448.0 1012.7 451.1 1014.3 L 453.1 1017.8 L 476.8 1017.8 L 483.0 1012.2 C 486.1 1010.2 493.3 1010.6 495.4 1013.7 C 497.0 1016.8 495.4 1020.9 494.3 1021.9 L 485.1 1030.2 L 433.6 1030.2 L 423.3 1041.5 L 473.7 1041.5 L 473.7 1044.6 L 458.3 1058.0 C 456.2 1059.6 452.1 1059.6 450.0 1058.4 L 441.8 1053.9 L 439.7 1051.8 L 424.3 1051.8 L 416.1 1057.0 C 413.0 1058.4 407.8 1057.0 407.2 1053.9 Z" stroke-width="1.8" fill="#fdfdfd"/>
<path d="M 408.8 1049.7 L 428.4 1025.0 L 436.7 1019.3 M 429.4 1020.9 L 422.2 1031.2 M 424.3 1051.8 L 423.3 1041.5" stroke-width="1.2"/>
<ellipse cx="443.9" cy="1019.3" rx="4.1" ry="2.1" transform="rotate(-10 443.9 1019.3)" stroke-width="1.5"/>
<ellipse cx="487.1" cy="1016.8" rx="4.1" ry="2.1" transform="rotate(-10 487.1 1016.8)" stroke-width="1.5"/>
<ellipse cx="416.1" cy="1052.2" rx="3.7" ry="2.1" transform="rotate(-10 416.1 1052.2)" stroke-width="1.5"/>
<ellipse cx="455.2" cy="1054.7" rx="3.7" ry="2.1" transform="rotate(-10 455.2 1054.7)" stroke-width="1.5"/>
<path d="M 454.2 1018.4 L 474.8 1018.4 L 474.8 1020.1 L 454.2 1020.1 Z" stroke-width="1.2"/>
<path d="M 430.5 1098.2 L 441.8 1083.7 L 444.9 1080.6 L 458.3 1080.6 L 462.4 1072.4 L 462.4 1064.2 L 469.6 1055.9 L 471.7 1057.0 L 472.7 1066.2 L 483.0 1065.2 L 492.3 1055.9 L 495.4 1057.0 L 499.5 1067.3 L 498.5 1071.4 L 491.2 1074.5 L 492.3 1080.6 L 495.4 1085.8 L 491.2 1086.8 L 487.1 1080.6 L 483.0 1088.9 L 487.1 1095.1 L 483.0 1097.1 L 478.9 1090.9 L 476.8 1096.1 L 460.3 1096.1 L 445.9 1102.3 L 432.5 1102.3 Z" stroke-width="1.8" fill="#fdfdfd"/>
<path d="M 462.4 1072.4 L 470.6 1069.3 L 472.7 1066.2 M 470.6 1069.3 L 498.5 1068.3 M 469.6 1055.9 L 468.6 1069.3 M 492.3 1055.9 L 486.1 1065.2 M 468.6 1074.5 L 491.2 1074.5 M 441.8 1083.7 L 456.2 1083.7 L 458.3 1080.6 M 456.2 1083.7 L 452.1 1092.0 L 439.7 1093.0 M 432.5 1100.2 L 448.0 1097.1 L 460.3 1090.9 L 476.8 1090.9 M 460.3 1090.9 L 460.3 1096.1 M 468.6 1074.5 L 466.5 1082.7 L 478.9 1082.7 L 483.0 1078.6" stroke-width="1.8"/>
<path d="M 463.4 1065.2 L 469.6 1058.0 L 470.6 1067.3 L 464.5 1071.4 Z M 473.7 1066.6 L 483.0 1065.8 L 483.0 1067.9 L 473.7 1069.1 Z M 441.8 1094.0 L 452.1 1093.0 L 448.0 1098.2 L 435.6 1099.2 Z M 470.6 1080.6 L 476.8 1080.0 L 476.8 1083.7 L 471.7 1084.8 Z" fill="#000"/>
<path d="M 511.8 1079.0 L 544.8 1079.0 L 544.8 1091.4 L 511.8 1091.4 Z" stroke-width="1.8" fill="#fdfdfd"/>
<ellipse cx="508.8" cy="1085.2" rx="4.1" ry="7.8" stroke-width="2" fill="#fdfdfd"/>
<path d="M 544.8 1078.6 L 551.0 1071.4 L 559.2 1070.8 L 564.4 1086.8 L 561.3 1090.9 L 552.0 1099.2 L 546.9 1093.0 Z" stroke-width="2.2" fill="#fdfdfd"/>
<path d="M 551.0 1071.4 L 556.1 1087.9 L 552.0 1099.2 M 556.1 1087.9 L 564.4 1086.8 M 554.1 1072.4 L 559.2 1088.9" stroke-width="1.6"/>
<ellipse cx="548.5" cy="1085.8" rx="3.3" ry="7.4" stroke-width="1.5"/>
<path d="M 569.5 1114.6 C 570.6 1112.8 574.7 1112.8 575.3 1114.2 L 579.4 1128.0 C 578.8 1130.5 574.7 1130.9 574.1 1129.3 Z" stroke-width="1.8" fill="#fdfdfd"/>
<path d="M 573.6 1126.0 L 579.0 1124.9 L 579.4 1128.4 L 574.7 1130.1 Z" fill="#000"/>
<ellipse cx="607.6" cy="1088.9" rx="9.3" ry="17.5" stroke-width="2.2" fill="#fdfdfd"/>
<ellipse cx="614.8" cy="1088.9" rx="8.7" ry="16.9" stroke-width="2.2" fill="#fdfdfd"/>
<ellipse cx="598.4" cy="1088.5" rx="9.5" ry="18.1" stroke-width="2.4" fill="#fdfdfd"/>
<ellipse cx="598.0" cy="1088.5" rx="6.2" ry="12.8" stroke-width="1.6"/>
<ellipse cx="597.5" cy="1088.5" rx="3.3" ry="7.4" stroke-width="1.8"/>
<path d="M 441.8 1176.4 L 445.9 1167.2 L 451.1 1165.1 L 455.2 1167.2 L 457.3 1161.0 L 464.5 1152.7 L 464.5 1147.6 L 471.7 1137.3 C 474.8 1134.2 483.0 1133.2 486.1 1136.3 L 489.2 1145.5 L 506.7 1144.5 L 513.9 1136.3 C 518.0 1132.6 527.3 1132.1 530.4 1135.2 C 532.4 1138.3 532.0 1141.4 531.4 1142.4 L 525.2 1150.7 L 526.3 1154.8 L 520.1 1165.1 L 513.9 1171.3 L 507.7 1178.5 L 495.4 1179.5 L 489.2 1183.6 L 483.0 1180.6 L 452.1 1180.6 L 445.9 1181.6 Z" stroke-width="1.8" fill="#fdfdfd"/>
<path d="M 469.6 1148.6 L 524.2 1148.6 M 470.6 1151.7 L 525.2 1152.7 M 468.6 1154.8 L 522.1 1155.8 M 470.6 1163.0 L 520.1 1163.0 M 464.5 1152.7 L 468.6 1148.6 L 474.8 1140.4 M 468.6 1154.8 L 462.4 1165.1 L 470.6 1169.2 L 476.8 1163.0 M 472.7 1171.3 L 511.8 1171.3 L 518.0 1164.1 M 470.6 1169.2 L 472.7 1173.3 L 507.7 1174.4 M 489.2 1145.5 L 491.2 1140.4 L 503.6 1140.4 L 506.7 1144.5" stroke-width="1.8"/>
<ellipse cx="478.9" cy="1143.5" rx="4.1" ry="2.1" transform="rotate(-10 478.9 1143.5)" stroke-width="1.5"/>
<ellipse cx="522.1" cy="1142.0" rx="4.1" ry="2.1" transform="rotate(-10 522.1 1142.0)" stroke-width="1.5"/>
<ellipse cx="510.8" cy="1142.4" rx="2.9" ry="2.9" stroke-width="1.4"/>
<path d="M 470.6 1168.2 L 476.8 1164.1 L 507.7 1165.1 L 511.8 1169.2 L 503.6 1172.3 L 474.8 1172.3 Z" stroke-width="2.2"/>
<path d="M 503.6 1168.8 L 510.8 1168.8 L 510.8 1172.3 L 504.6 1172.3 Z" fill="#000"/>
<path d="M 445.9 1167.2 L 448.0 1175.4 L 452.1 1176.4 M 451.1 1165.1 L 452.1 1173.3 M 457.3 1161.0 L 461.4 1163.0" stroke-width="1.2"/>
<ellipse cx="488.8" cy="1182.0" rx="6.2" ry="2.1" stroke-width="1.3"/>
</g>
<g id="group50b">
<ellipse cx="598.2" cy="1088.0" rx="8.2" ry="18.1" stroke-width="2.2" fill="#fdfdfd"/>
<ellipse cx="597.8" cy="1088.0" rx="4.9" ry="11.3" stroke-width="1.6"/>
<ellipse cx="597.4" cy="1088.0" rx="2.5" ry="6.2" stroke-width="1.6"/>
<ellipse cx="615.8" cy="1088.0" rx="7.8" ry="17.5" stroke-width="2.0" fill="#fdfdfd"/>
<path d="M 598.2 1069.9 L 615.8 1070.5 M 598.2 1106.1 L 615.8 1105.5" stroke-width="2"/>
<ellipse cx="610.6" cy="1088.0" rx="7.4" ry="16.9" stroke-width="1.4"/>
<ellipse cx="627.5" cy="1088.0" rx="7.8" ry="17.7" stroke-width="3" fill="#fdfdfd"/>
<ellipse cx="627.1" cy="1088.0" rx="4.1" ry="10.3" stroke-width="2"/>
<path d="M 615.8 1070.5 L 627.5 1070.3 M 615.8 1105.5 L 627.5 1105.7" stroke-width="2.2"/>
<ellipse cx="651.8" cy="1089.6" rx="13.4" ry="27.2" stroke-width="3.6" fill="#fdfdfd"/>
<ellipse cx="651.8" cy="1089.6" rx="9.9" ry="20.6" stroke-width="1.6"/>
<ellipse cx="652.2" cy="1089.0" rx="3.7" ry="10.7" stroke-width="2.2"/>
<path d="M 671.4 1080.4 L 782.6 1080.4 L 782.6 1096.2 L 671.4 1096.2 Z" stroke-width="1.6" fill="#fdfdfd"/>
<path d="M 672.4 1096.6 L 732.1 1096.6" stroke-width="2.4"/>
<ellipse cx="671.4" cy="1088.4" rx="3.7" ry="7.8" stroke-width="2.2" fill="#fdfdfd"/>
<path d="M 590.0 1093.5 L 773.3 1093.5 L 773.3 1074.6" stroke-width="1.0"/>
<ellipse cx="788.8" cy="1088.4" rx="8.7" ry="19.6" stroke-width="2.0" fill="#fdfdfd"/>
<path d="M 782.6 1079.7 C 787.8 1079.7 788.8 1097.3 782.6 1096.6 M 784.7 1081.8 L 791.9 1081.8 L 791.9 1095.2 L 784.7 1095.2 M 791.9 1082.8 C 796.0 1083.9 796.0 1093.1 791.9 1094.2" stroke-width="1.8"/>
<path d="M 797.0 1081.4 L 806.3 1081.4 C 808.4 1083.9 808.4 1093.1 806.3 1095.4 L 797.0 1095.4 Z" stroke-width="1.6" fill="#fdfdfd"/>
<path d="M 807.3 1084.3 L 831.0 1084.3 L 831.0 1092.1 L 807.3 1092.1 Z" fill="#000"/>
<path d="M 808.4 1087.0 L 830.0 1087.0" stroke-width="0.8" stroke="#fdfdfd"/>
</g>
<g id="group50c">
<path d="M 810.0 1084.8 L 828.2 1084.8 L 828.2 1094.0 L 810.0 1094.0 Z" fill="#000"/>
<path d="M 810.0 1088.7 L 827.2 1088.7" stroke-width="0.8" stroke="#fdfdfd"/>
<path d="M 827.2 1083.3 C 830.4 1081.2 833.6 1083.3 834.0 1088.7 C 833.6 1094.0 830.4 1095.5 827.2 1094.0 Z" fill="#000"/>
<path d="M 844.3 1082.9 L 859.4 1082.9 C 862.6 1083.3 862.6 1094.2 859.4 1094.7 L 844.3 1094.7 C 841.1 1094.2 841.1 1083.3 844.3 1082.9 Z" fill="#000"/>
<path d="M 873.3 1082.2 L 884.0 1082.2 C 888.3 1082.7 888.3 1094.2 884.0 1094.7 L 873.3 1094.7 C 869.0 1094.2 869.0 1082.7 873.3 1082.2 Z" stroke-width="2" fill="#fdfdfd"/>
<path d="M 875.5 1082.7 C 873.3 1086.5 873.3 1090.8 875.5 1094.2 M 880.8 1082.7 L 880.8 1094.2" stroke-width="1.5"/>
<path d="M 895.8 1077.9 L 913.0 1077.9 C 917.3 1079.0 917.3 1097.7 913.0 1099.0 L 895.8 1099.0 C 891.1 1097.7 891.1 1079.0 895.8 1077.9 Z" fill="#000"/>
<path d="M 897.6 1084.4 L 897.6 1093.0 M 907.6 1087.0 L 907.6 1090.8" stroke-width="1.5" stroke="#fdfdfd"/>
<path d="M 923.7 1079.4 L 937.7 1079.4 C 941.3 1080.5 941.3 1096.2 937.7 1097.3 L 923.7 1097.3 C 919.9 1096.2 919.9 1080.5 923.7 1079.4 Z" fill="#000"/>
<path d="M 922.7 1082.7 L 927.0 1081.8 L 927.6 1094.0 L 923.3 1094.7 Z M 929.1 1084.4 L 938.8 1082.7 L 938.8 1087.0 L 930.2 1089.1 Z M 930.2 1090.8 L 938.8 1089.7 L 938.3 1094.0 L 931.2 1095.1 Z" fill="#fdfdfd" stroke="none"/>
<path d="M 945.2 1076.9 L 962.4 1076.2 C 967.7 1079.0 967.7 1097.3 962.8 1099.4 L 945.2 1099.8 C 941.3 1097.3 941.3 1080.1 945.2 1076.9 Z" fill="#000"/>
<path d="M 947.3 1080.1 L 951.6 1079.7 L 949.5 1090.8 L 946.3 1091.9 Z M 952.7 1082.2 L 963.4 1080.1 L 964.9 1089.1 L 954.8 1090.8 Z M 951.6 1094.0 L 963.4 1092.5 L 962.8 1096.8 L 952.7 1097.7 Z M 947.3 1094.0 L 949.9 1093.0 L 950.6 1097.7 L 947.8 1098.1 Z" fill="#fdfdfd" stroke="none"/>
<path d="M 986.0 1043.6 L 983.8 1035.0 C 986.0 1031.8 992.4 1030.7 996.7 1033.9 L 998.8 1029.7 C 1001.0 1024.3 1007.4 1021.1 1013.9 1021.7 C 1019.2 1022.6 1021.4 1028.6 1023.5 1039.3 L 1024.6 1052.2 L 1016.0 1053.3 L 1014.9 1060.3 L 999.9 1060.3 L 998.8 1052.2 L 998.4 1043.6 C 996.7 1038.2 992.4 1036.1 989.2 1037.2 L 989.8 1044.0 Z" stroke-width="2" fill="#fdfdfd"/>
<path d="M 996.7 1033.9 C 999.9 1039.3 1001.0 1045.8 1001.0 1052.2 M 998.8 1029.7 L 1019.2 1029.7 M 1008.5 1024.3 L 1008.5 1029.7 C 1011.7 1037.2 1012.8 1045.8 1012.8 1052.6 M 1001.0 1052.2 L 1016.0 1052.6 M 1002.1 1054.3 L 1013.9 1054.3" stroke-width="1.6"/>
<ellipse cx="1024.6" cy="1088.7" rx="9.0" ry="19.3" fill="#000"/>
<ellipse cx="1023.3" cy="1088.7" rx="6.4" ry="15.9" fill="#fdfdfd" stroke="none"/>
<path d="M 996.7 1071.5 L 1023.5 1073.6 L 1023.5 1103.7 L 996.7 1105.4 Z" fill="#fdfdfd" stroke="none"/>
<ellipse cx="996.3" cy="1088.2" rx="8.2" ry="17.2" stroke-width="3" fill="#fdfdfd"/>
<ellipse cx="997.1" cy="1088.2" rx="5.6" ry="13.3" stroke-width="1.6"/>
<path d="M 996.3 1071.1 L 1022.4 1073.2 M 996.3 1105.4 L 1022.4 1103.7 M 1004.2 1082.2 L 1016.0 1082.2 L 1016.0 1094.0 L 1004.2 1094.0 M 991.3 1086.5 L 1004.2 1086.5 M 991.3 1091.9 L 1004.2 1091.9 M 1010.6 1086.5 L 1015.6 1086.5 L 1015.6 1091.9 L 1010.6 1091.9 Z M 1004.2 1073.6 C 1006.4 1082.2 1006.4 1095.1 1004.2 1104.1" stroke-width="2"/>
<path d="M 962.8 1111.2 C 960.2 1120.9 960.6 1131.6 964.5 1140.2 L 969.9 1144.0 L 998.8 1143.4 C 1003.1 1140.2 1005.3 1131.6 1004.8 1125.6 L 988.1 1125.6 L 989.2 1110.1 Z" stroke-width="2.6" fill="#fdfdfd"/>
<path d="M 964.5 1112.3 C 962.8 1120.9 963.4 1131.6 966.7 1139.1 M 969.9 1144.0 C 973.1 1138.0 974.2 1131.6 976.3 1126.2 L 988.1 1125.6 M 967.7 1117.6 C 975.2 1120.9 983.8 1120.4 988.5 1117.6" stroke-width="2"/>
<path d="M 968.8 1111.2 L 973.1 1111.2 L 973.1 1116.1 L 969.2 1115.7 Z M 975.2 1111.2 L 980.6 1111.2 L 980.6 1116.6 L 975.7 1116.6 Z M 982.7 1111.2 L 988.1 1111.2 L 988.1 1115.5 L 983.4 1116.1 Z" stroke-width="1.6" fill="#fdfdfd"/>
<path d="M 962.8 1110.6 L 989.8 1109.7 L 989.8 1112.3 L 962.8 1113.1 Z" fill="#000"/>
<path d="M 981.7 1132.7 L 996.7 1132.0 C 998.8 1133.7 998.8 1137.0 996.7 1137.6 L 981.7 1138.0 C 980.0 1137.0 980.0 1133.7 981.7 1132.7 Z" fill="#000"/>
<path d="M 979.5 1128.4 L 1002.1 1127.3 M 990.3 1129.4 L 994.5 1129.4" stroke-width="1.4"/>
</g>
<g id="group51">
<path d="M 776.3 829.2 L 783.2 812.0 L 788.3 807.7 L 796.9 814.6 L 813.2 818.9 L 814.1 822.3 L 802.9 834.3 L 805.5 846.4 L 811.5 872.1 L 817.5 882.4 L 816.7 891.0 L 811.5 895.3 L 806.4 889.3 L 802.1 882.4 L 801.2 873.8 L 796.9 863.5 L 795.2 853.2 L 784.0 854.1 L 781.5 848.9 Z" stroke-width="1.8" fill="#fdfdfd"/>
<path d="M 783.2 812.0 L 790.9 834.3 L 785.8 849.8 M 788.3 807.7 L 794.3 830.9 L 800.3 836.1 L 809.8 875.5 M 796.9 814.6 L 800.3 825.8 L 802.9 834.3 M 800.3 820.6 L 812.4 820.3 M 794.3 830.9 L 801.2 829.2 M 790.9 834.3 L 796.9 836.9 L 806.4 875.5 M 784.0 851.5 L 792.6 850.6 L 795.2 853.2 M 805.5 876.4 L 813.2 879.0 L 814.9 889.3 M 803.8 879.0 L 808.9 891.0" stroke-width="1.8"/>
<path d="M 785.8 836.9 L 790.0 835.2 L 788.3 849.8 L 784.0 850.6 Z" fill="#000" stroke-dasharray="2 1"/>
<path d="M 789.2 813.7 L 793.5 825.8 L 790.9 827.5 L 786.6 815.5 Z" fill="#000"/>
<ellipse cx="808.9" cy="884.1" rx="3.1" ry="6.0" transform="rotate(-20 808.9 884.1)" stroke-width="1.8"/>
<path d="M 822.7 877.3 L 828.7 876.4 L 835.5 873.8 C 838.1 872.1 849.3 870.7 853.6 872.1 L 856.1 877.3 L 854.4 892.7 L 849.3 895.3 L 836.4 896.1 L 833.8 887.6 L 828.7 885.0 L 823.5 885.0 Z" stroke-width="1.8" fill="#fdfdfd"/>
<path d="M 828.7 876.4 L 829.5 885.0 M 835.5 873.8 C 840.7 877.3 842.4 885.8 840.7 895.3 M 840.7 880.7 L 855.3 879.8 M 841.5 885.8 L 854.8 885.5 M 849.3 872.1 L 850.1 895.3 M 824.4 877.6 L 824.9 884.5" stroke-width="1.8"/>
<path d="M 833.0 880.7 L 837.3 878.1 L 840.7 882.4 L 839.8 888.4 L 835.5 889.3 L 832.1 885.0 Z" stroke-width="2" fill="#fdfdfd"/>
<path d="M 852.7 903.0 L 861.3 880.7 L 869.9 879.8 L 873.3 884.1 L 874.2 896.1 L 876.7 897.9 L 876.7 906.4 L 869.9 909.9 L 869.0 915.0 L 858.7 916.7 L 853.6 909.9 Z" stroke-width="2" fill="#fdfdfd"/>
<path d="M 863.0 881.5 L 867.3 892.7 L 874.2 891.8 M 864.7 880.7 L 869.9 891.0 M 867.3 880.3 L 871.9 890.1 M 867.3 892.7 L 866.4 903.0 L 876.7 902.1 M 866.4 903.0 L 863.0 911.6 L 869.0 911.6 M 869.9 897.0 L 875.0 896.5 M 869.9 899.6 L 875.9 899.2 M 860.4 909.9 L 868.2 908.5" stroke-width="1.8"/>
<path d="M 853.6 903.0 L 859.6 892.7 L 863.9 896.1 L 863.0 909.9 L 858.7 914.2 Z" fill="#000"/>
<path d="M 859.6 897.9 L 861.6 898.7 L 861.3 906.4 L 859.2 905.6 Z" fill="#fdfdfd" stroke="none"/>
<path d="M 865.6 930.5 L 871.6 926.2 L 875.0 927.9 L 878.8 942.5 L 874.2 945.9 L 869.9 944.2 Z" fill="#000"/>
<path d="M 871.6 928.8 L 875.9 943.3" stroke-width="1.5" stroke="#fdfdfd" stroke-dasharray="3 3"/>
<path d="M 868.5 931.3 L 872.4 944.2" stroke-width="1" stroke="#fdfdfd" stroke-dasharray="2 4"/>
<path d="M 874.7 845.5 L 887.9 827.5 L 905.9 824.0 L 924.8 826.6 L 930.0 840.3 L 915.4 856.7 L 924.8 897.9 L 929.1 923.6 L 925.7 933.0 L 918.8 937.3 L 917.1 942.5 L 909.4 943.3 L 905.1 935.6 L 893.9 920.2 L 888.8 903.0 Z" stroke-width="1.8" fill="#fdfdfd"/>
<path d="M 887.9 827.5 L 891.3 830.9 L 878.5 847.2 L 874.7 845.5 M 891.3 830.9 L 909.4 896.1 L 911.1 909.9 L 914.5 923.6 L 918.8 937.3 M 905.9 824.0 L 911.1 841.2 L 915.4 856.7 L 899.1 857.5 M 911.1 841.2 L 924.8 827.5 M 913.6 844.6 L 927.4 836.9 M 907.6 827.5 L 922.2 829.2 M 878.5 847.2 L 892.2 897.9 M 880.2 845.5 L 890.5 844.6 L 895.6 863.5 L 886.2 866.1 Z M 895.6 863.5 L 899.1 877.3 L 887.9 876.4 M 890.5 844.6 L 887.9 849.8 L 892.2 864.4" stroke-width="1.8"/>
<path d="M 899.9 856.7 L 915.4 856.3" stroke-width="3"/>
<path d="M 892.2 897.9 C 897.3 896.1 902.5 889.3 903.3 880.7 M 909.4 896.1 L 924.8 903.0 M 911.1 903.0 L 925.7 904.7 M 911.1 909.9 L 926.5 910.7 M 893.9 920.2 L 907.6 909.9 L 911.1 909.9 M 899.1 923.6 L 910.2 914.2 M 905.1 935.6 L 914.5 930.5 L 925.7 933.0 M 909.4 943.3 L 911.1 935.6 L 918.8 937.3 M 914.5 923.6 L 921.4 930.5" stroke-width="1.8"/>
<path d="M 886.2 866.1 L 895.6 863.9 L 897.3 868.7 L 887.9 872.1 Z" stroke-width="1.3"/>
<path d="M 904.2 825.8 L 907.6 825.4 L 911.9 840.3 L 909.4 842.1 Z" fill="#000" stroke-dasharray="2 1"/>
</g>
<g id="gasket">
<path d="M 333.1 422.2 L 346.4 477.2 C 347.5 479.4 353.3 478.3 353.5 475.8 L 340.1 421.0 C 339.4 419.2 333.5 420.2 333.1 422.2 Z" stroke-width="1.6" fill="#fdfdfd"/>
<ellipse cx="350.0" cy="476.5" rx="3.6" ry="1.8" transform="rotate(-12 350.0 476.5)" stroke-width="1.4"/>
<path d="M 284.4 507.0 C 285.3 501.5 293.4 492.5 302.4 488.0 C 311.5 484.1 324.1 481.2 342.1 481.2 C 349.3 481.7 352.0 485.3 354.7 486.2 L 370.9 489.8 L 385.4 490.7 C 390.8 491.3 394.4 495.2 394.4 500.6 C 392.6 504.2 389.9 505.7 387.2 507.0 L 372.7 516.9 C 369.1 519.6 366.4 521.4 363.7 521.4 L 352.9 522.3 L 345.7 520.5 L 333.1 521.4 L 316.9 525.0 C 311.5 526.2 306.1 526.8 302.4 525.9 C 295.2 524.1 287.1 515.1 284.4 507.0 Z" stroke-width="2.0" fill="#fdfdfd"/>
<path d="M 286.6 507.0 C 287.5 502.4 294.9 494.5 303.3 490.2 C 312.4 486.2 324.4 483.5 341.7 483.5 C 347.9 484.1 350.8 487.5 353.8 488.4 L 370.6 492.0 L 384.6 492.9 C 389.3 493.4 392.0 496.5 392.0 500.3 C 390.4 503.2 388.1 504.2 385.7 505.3 L 371.5 514.9 C 368.2 517.4 365.7 519.0 363.4 519.0 L 353.3 519.9 L 345.9 518.1 L 332.9 519.0 L 316.5 522.6 C 311.5 523.9 306.6 524.4 303.2 523.5 C 297.0 521.9 289.1 514.2 286.6 507.0 Z" stroke-width="1.2"/>
<ellipse cx="321.4" cy="503.3" rx="31.0" ry="16.2" transform="rotate(-14 321.4 503.3)" stroke-width="2.0"/>
<ellipse cx="321.4" cy="503.3" rx="28.8" ry="14.4" transform="rotate(-14 321.4 503.3)" stroke-width="1.2"/>
<ellipse cx="371.8" cy="502.4" rx="14.4" ry="6.1" transform="rotate(-12 371.8 502.4)" stroke-width="2.0"/>
<ellipse cx="371.8" cy="502.8" rx="12.3" ry="4.7" transform="rotate(-12 371.8 502.8)" stroke-width="1.2"/>
<ellipse cx="362.8" cy="516.0" rx="6.5" ry="3.1" transform="rotate(-15 362.8 516.0)" stroke-width="1.8"/>
<ellipse cx="362.8" cy="516.0" rx="3.2" ry="1.4" transform="rotate(-15 362.8 516.0)" stroke-width="1.2"/>
<path d="M 403.4 497.0 L 458.4 497.0 C 459.6 497.9 459.6 502.4 458.4 503.3 L 403.4 503.3 Z" stroke-width="1.6" fill="#fdfdfd"/>
<ellipse cx="403.8" cy="500.1" rx="1.4" ry="3.2" stroke-width="1.6" fill="#fdfdfd"/>
<ellipse cx="376.4" cy="561.9" rx="9.0" ry="8.3" fill="#000"/>
<path d="M 370.0 559.2 C 373.6 556.5 379.1 556.2 382.7 558.3 M 370.0 562.8 C 373.6 560.1 380.0 559.8 383.6 562.3 M 371.8 566.4 C 375.5 564.6 379.1 564.6 382.1 566.4" stroke-width="1.8" stroke="#fdfdfd"/>
<path d="M 318.7 574.2 L 334.9 631.3 C 336.7 633.7 347.5 631.3 348.4 627.7 L 332.2 570.9 C 330.4 569.1 319.6 570.9 318.7 574.2 Z" stroke-width="1.8" fill="#fdfdfd"/>
<path d="M 318.7 574.5 C 321.4 571.8 329.5 570.0 332.2 571.3 L 332.7 573.6 C 329.5 572.7 322.3 574.5 319.6 577.3 Z" fill="#000"/>
<ellipse cx="341.6" cy="629.0" rx="6.8" ry="3.6" transform="rotate(-12 341.6 629.0)" stroke-width="2.2" fill="#fdfdfd"/>
<path d="M 371.8 591.1 L 372.4 583.6 C 376.4 577.3 390.8 576.0 394.7 580.9 L 395.8 589.0 Z" stroke-width="1.8" fill="#fdfdfd"/>
<ellipse cx="384.1" cy="591.1" rx="11.5" ry="6.5" transform="rotate(-14 384.1 591.1)" fill="#000"/>
<ellipse cx="384.5" cy="591.1" rx="5.4" ry="2.3" transform="rotate(-14 384.5 591.1)" stroke-width="2" fill="none" stroke="#fdfdfd"/>
<path d="M 371.8 608.8 C 373.6 603.4 385.4 598.3 396.2 598.0 C 401.6 597.6 406.1 598.3 407.9 599.8 L 413.3 623.2 C 412.4 629.5 403.4 634.9 396.2 635.8 C 389.0 636.7 380.9 634.9 376.4 628.6 Z" fill="#000"/>
<path d="M 376.4 604.8 L 381.4 626.1" stroke-width="2.2" stroke="#fdfdfd"/>
<path d="M 379.4 604.3 L 384.5 625.6" stroke-width="2.2" stroke="#fdfdfd"/>
<path d="M 382.5 603.6 L 387.5 624.8" stroke-width="2.2" stroke="#fdfdfd"/>
<path d="M 385.5 603.0 L 390.6 624.3" stroke-width="2.2" stroke="#fdfdfd"/>
<path d="M 388.6 602.3 L 393.7 623.6" stroke-width="2.2" stroke="#fdfdfd"/>
<path d="M 391.7 601.8 L 396.7 623.0" stroke-width="2.2" stroke="#fdfdfd"/>
<path d="M 394.7 601.2 L 399.8 622.5" stroke-width="2.2" stroke="#fdfdfd"/>
<path d="M 397.8 600.5 L 402.8 621.8" stroke-width="2.2" stroke="#fdfdfd"/>
<path d="M 400.9 600.0 L 405.9 621.2" stroke-width="2.2" stroke="#fdfdfd"/>
<path d="M 403.9 599.2 L 409.0 620.5" stroke-width="2.2" stroke="#fdfdfd"/>
<path d="M 407.0 598.7 L 412.0 620.0" stroke-width="2.2" stroke="#fdfdfd"/>
<path d="M 371.8 608.8 C 373.6 603.4 385.4 598.3 396.2 598.0 C 401.6 597.6 406.1 598.3 407.9 599.8" stroke-width="2.4"/>
<ellipse cx="396.2" cy="628.6" rx="15.3" ry="7.2" transform="rotate(-14 396.2 628.6)" fill="#000"/>
<ellipse cx="396.2" cy="628.6" rx="11.2" ry="4.9" transform="rotate(-14 396.2 628.6)" stroke-width="1.5" fill="#fdfdfd"/>
<ellipse cx="396.2" cy="628.6" rx="13.3" ry="6.1" transform="rotate(-14 396.2 628.6)" stroke-width="1.5" stroke="#fdfdfd"/>
<path d="M 393.1 650.6 L 393.7 643.0 C 397.6 636.7 412.0 635.5 416.0 640.3 L 417.1 648.5 Z" stroke-width="1.8" fill="#fdfdfd"/>
<ellipse cx="405.4" cy="650.6" rx="11.5" ry="6.5" transform="rotate(-14 405.4 650.6)" fill="#000"/>
<ellipse cx="405.7" cy="650.6" rx="5.4" ry="2.3" transform="rotate(-14 405.7 650.6)" stroke-width="2" fill="none" stroke="#fdfdfd"/>
</g>
<g id="gear11">
<ellipse cx="380.3" cy="683.9" rx="16.3" ry="8.0" transform="rotate(-12 380.3 683.9)" stroke-width="2.0" fill="#fdfdfd"/>
<ellipse cx="381.1" cy="684.6" rx="6.7" ry="2.9" transform="rotate(-12 381.1 684.6)" stroke-width="2.2"/>
<path d="M 432.1 699.2 C 436.5 707.9 437.3 719.6 432.1 728.4 C 424.8 738.6 403.0 748.8 385.5 753.5 L 381.1 740.0" stroke-width="1.6" fill="#fdfdfd"/>
<ellipse cx="389.8" cy="716.7" rx="44.5" ry="23.3" transform="rotate(-16 389.8 716.7)" stroke-width="5.0" fill="#fdfdfd"/>
<ellipse cx="389.8" cy="716.7" rx="44.5" ry="23.3" transform="rotate(-16 389.8 716.7)" stroke-width="3.2" stroke="#fdfdfd"/>
<!-- teeth -->
<ellipse cx="389.8" cy="716.7" rx="44.5" ry="23.3" transform="rotate(-16 389.8 716.7)" stroke-width="3.4" stroke-dasharray="1.3 0.8"/>
<ellipse cx="390.1" cy="717.9" rx="41.6" ry="20.9" transform="rotate(-16 390.1 717.9)" stroke-width="2.2"/>
<path d="M 411.7 700.6 L 432.1 699.9 L 437.3 719.6 L 430.7 731.3 L 411.7 743.0 L 385.5 753.2 L 379.6 738.6 L 359.2 738.6 L 354.8 728.4 L 373.8 713.8 Z" fill="#fdfdfd" stroke="none"/>
<path d="M 368.7 718.2 L 405.9 702.4 L 417.6 699.2 L 432.1 712.3 L 435.1 722.5 L 423.4 735.7 L 385.5 753.5 L 381.1 740.0" stroke-width="1.8"/>
<path d="M 405.9 702.4 L 410.3 718.2 L 432.1 712.3 M 410.3 718.2 L 417.6 734.2 L 423.4 735.7 M 417.6 699.2 L 419.7 710.9 M 381.1 740.0 L 388.4 737.1 L 417.6 725.5 M 385.5 753.5 L 388.4 737.1 M 411.7 728.4 L 426.3 729.8 L 417.6 734.9" stroke-width="1.6"/>
<ellipse cx="389.1" cy="724.3" rx="21.9" ry="11.7" transform="rotate(-16 389.1 724.3)" stroke-width="3.2" fill="#fdfdfd"/>
<ellipse cx="389.8" cy="726.2" rx="18.2" ry="9.0" transform="rotate(-16 389.8 726.2)" stroke-width="1.5"/>
<path d="M 368.2 718.9 L 369.4 731.3 M 409.5 721.1 C 416.1 722.5 418.3 728.4 417.6 734.2" stroke-width="2.4"/>
<path d="M 354.8 725.5 C 359.2 734.2 370.9 738.6 381.1 740.0 M 351.9 728.4 C 357.7 737.1 369.4 741.5 380.3 742.2" stroke-width="1.4"/>
<path d="M 384.3 763.4 C 385.5 757.6 400.0 751.7 416.1 752.0 C 420.5 752.4 421.9 754.6 422.7 757.6 L 426.3 772.1 C 426.3 780.9 411.7 788.2 395.7 787.5 C 391.3 786.7 389.1 785.3 388.4 782.4 Z" stroke-width="1.8" fill="#fdfdfd"/>
<ellipse cx="408.1" cy="777.7" rx="18.2" ry="9.2" transform="rotate(-16 408.1 777.7)" stroke-width="3.6" fill="#fdfdfd"/>
<ellipse cx="408.5" cy="778.3" rx="14.6" ry="7.0" transform="rotate(-16 408.5 778.3)" stroke-width="2.0"/>
</g>
<g id="gear10">
<path d="M 397.6 803.3 L 398.4 797.8 C 401.3 793.9 410.0 790.9 421.7 791.4 C 426.1 791.7 427.6 793.9 427.8 796.3 L 428.4 805.5 L 398.4 815.0 Z" stroke-width="1.6" fill="#fdfdfd"/>
<path d="M 462.6 807.7 C 469.9 815.0 474.2 826.7 472.8 836.9 C 469.9 847.1 453.8 858.8 433.4 867.6 L 409.8 872.7 L 405.7 857.3 L 383.8 853.0" stroke-width="1.6" fill="#fdfdfd"/>
<ellipse cx="423.9" cy="830.3" rx="49.6" ry="26.0" transform="rotate(-16 423.9 830.3)" stroke-width="5.0" fill="#fdfdfd"/>
<ellipse cx="423.9" cy="830.3" rx="49.6" ry="26.0" transform="rotate(-16 423.9 830.3)" stroke-width="3.2" stroke="#fdfdfd"/>
<ellipse cx="423.9" cy="830.3" rx="49.6" ry="26.0" transform="rotate(-16 423.9 830.3)" stroke-width="3.4" stroke-dasharray="1.3 0.8"/>
<ellipse cx="424.3" cy="831.4" rx="46.4" ry="23.3" transform="rotate(-16 424.3 831.4)" stroke-width="2.0"/>
<path d="M 448.0 809.2 L 468.4 813.6 L 473.5 836.9 L 465.5 850.0 L 442.1 863.2 L 409.8 873.4 L 404.2 855.9 L 388.2 853.0 L 383.8 841.3 L 413.0 823.8 Z" fill="#fdfdfd" stroke="none"/>
<path d="M 462.6 807.7 C 469.9 815.0 474.2 826.7 472.8 836.9 C 469.9 847.1 453.8 858.8 433.4 867.6 L 409.8 872.7 L 405.7 857.3" stroke-width="1.6"/>
<path d="M 375.8 838.4 C 377.9 847.1 388.2 853.0 405.7 855.9" stroke-width="3.4"/>
<ellipse cx="421.7" cy="831.4" rx="12.0" ry="5.8" transform="rotate(-16 421.7 831.4)" stroke-width="2.4" fill="#fdfdfd"/>
<ellipse cx="422.4" cy="832.5" rx="9.3" ry="4.1" transform="rotate(-16 422.4 832.5)" stroke-width="1.4"/>
<path d="M 383.8 841.3 C 388.2 835.5 401.3 828.2 415.9 823.8 L 433.4 819.4 L 434.8 826.7 M 388.2 842.7 C 395.5 838.4 402.7 834.0 411.5 831.1 M 433.4 819.4 L 446.5 813.6 L 450.9 828.2 L 461.1 836.9 L 453.8 848.6 L 413.0 867.6 L 409.8 872.7 M 448.0 815.0 L 448.7 825.2 L 440.7 831.1 M 450.9 828.2 L 442.1 838.4 L 413.0 850.0 L 405.7 857.3 M 410.0 858.8 L 433.4 850.0 L 436.3 861.7 M 433.4 850.0 L 453.8 838.4 M 442.1 838.4 L 445.1 853.0 M 450.9 835.5 L 453.8 848.6 M 385.2 844.2 C 391.1 848.6 401.3 850.0 408.6 848.6" stroke-width="1.8"/>
<path d="M 397.6 835.5 L 405.7 832.5 L 409.3 844.2 L 400.6 846.4 Z" stroke-width="2" fill="#fdfdfd"/>
<path d="M 433.4 846.4 L 437.0 845.7 L 437.5 848.6 L 434.1 849.3 Z" fill="#000"/>
<path d="M 401.3 823.8 L 408.6 821.6 L 410.0 828.2 L 403.5 830.3 Z M 410.0 819.4 L 433.4 812.8 L 434.1 817.9 L 411.5 824.5 Z" stroke-width="1.4"/>
<path d="M 423.5 874.4 C 425.7 870.0 439.5 867.8 443.9 870.8 L 448.6 886.1 C 447.5 891.2 435.1 894.8 429.3 891.2 Z" stroke-width="1.8" fill="#fdfdfd"/>
<ellipse cx="438.8" cy="888.6" rx="9.6" ry="4.5" transform="rotate(-14 438.8 888.6)" stroke-width="3.4" fill="#fdfdfd"/>
<ellipse cx="439.1" cy="889.2" rx="7.0" ry="2.9" transform="rotate(-14 439.1 889.2)" stroke-width="1.6"/>
<path d="M 398.4 894.8 C 400.6 890.5 414.4 888.3 418.8 891.2 L 423.5 906.5 C 422.4 911.6 410.0 915.3 404.2 911.6 Z" stroke-width="1.8" fill="#fdfdfd"/>
<ellipse cx="413.7" cy="909.0" rx="9.6" ry="4.5" transform="rotate(-14 413.7 909.0)" stroke-width="3.4" fill="#fdfdfd"/>
<ellipse cx="414.0" cy="909.6" rx="7.0" ry="2.9" transform="rotate(-14 414.0 909.6)" stroke-width="1.6"/>
<path d="M 430.8 901.6 C 433.0 897.2 446.8 895.0 451.2 897.9 L 455.9 913.2 C 454.8 918.3 442.4 922.0 436.6 918.3 Z" stroke-width="1.8" fill="#fdfdfd"/>
<ellipse cx="446.1" cy="915.7" rx="9.6" ry="4.5" transform="rotate(-14 446.1 915.7)" stroke-width="3.4" fill="#fdfdfd"/>
<ellipse cx="446.4" cy="916.3" rx="7.0" ry="2.9" transform="rotate(-14 446.4 916.3)" stroke-width="1.6"/>
<ellipse cx="456.0" cy="941.2" rx="12.8" ry="7.0" transform="rotate(-15 456.0 941.2)" stroke-width="2.2" fill="#fdfdfd"/>
<ellipse cx="456.0" cy="941.7" rx="8.0" ry="3.9" transform="rotate(-15 456.0 941.7)" stroke-width="2.6"/>
<ellipse cx="456.4" cy="942.0" rx="4.4" ry="1.9" transform="rotate(-15 456.4 942.0)" stroke-width="2.2"/>
<ellipse cx="465.8" cy="967.2" rx="10.5" ry="4.1" transform="rotate(-15 465.8 967.2)" stroke-width="3.6" fill="#fdfdfd"/>
<path d="M 474.2 964.2 L 476.9 966.1" stroke-width="3"/>
</g>
<g id="group30">
<path d="M 473.6 454.5 L 480.6 447.5 L 514.2 446.4 C 517.6 447.5 519.3 451.0 518.8 454.5 L 517.6 460.3 L 511.8 464.9 L 480.6 463.7 L 474.8 460.3 Z" stroke-width="2.2" fill="#fdfdfd"/>
<path d="M 474.8 455.6 L 517.6 453.8 M 478.2 449.8 L 515.3 449.1 M 477.1 460.7 L 514.2 461.4 M 480.6 447.5 L 480.6 463.7 M 489.8 447.0 L 489.8 464.2 M 474.8 457.9 L 514.2 457.9" stroke-width="1.6"/>
<path d="M 481.7 452.1 L 502.6 451.5 L 502.6 456.8 L 481.7 457.5 Z" fill="#000" stroke-dasharray="2 1"/>
<path d="M 480.6 469.5 L 486.4 466.1 L 504.9 467.2 L 507.2 469.5 C 506.1 474.2 502.6 477.6 497.9 478.8 C 492.1 480.7 486.4 480.0 482.9 478.3 Z" stroke-width="1.8" fill="#fdfdfd"/>
<path d="M 486.4 466.1 C 485.2 471.8 488.7 477.6 495.6 478.8 M 500.3 464.9 L 501.4 471.8 L 506.1 470.7 M 480.6 469.5 L 482.9 478.3" stroke-width="1.5"/>
<path d="M 499.1 466.1 L 506.1 465.4 L 506.7 470.7 L 500.7 471.8 Z" fill="#000"/>
<path d="M 458.5 469.5 L 463.2 464.9 L 467.3 467.2 L 463.2 472.3 Z" stroke-width="1.8" fill="#fdfdfd"/>
<ellipse cx="465.0" cy="466.5" rx="2.3" ry="1.6" transform="rotate(30 465.0 466.5)" stroke-width="1.4"/>
<path d="M 447.0 481.1 L 452.7 474.6 L 458.1 477.6 L 452.1 485.3 Z" stroke-width="1.8" fill="#fdfdfd"/>
<ellipse cx="455.1" cy="476.5" rx="3.0" ry="2.1" transform="rotate(30 455.1 476.5)" stroke-width="1.4"/>
<path d="M 440.0 496.2 L 458.1 496.2 C 459.5 497.3 459.5 502.0 458.1 503.1 L 440.0 503.1" stroke-width="1.6" fill="#fdfdfd"/>
<path d="M 452.7 515.9 L 460.9 507.8 L 471.3 506.6 L 474.8 511.2 L 480.6 525.2 L 497.9 539.1 L 501.4 548.3 L 520.0 557.6 L 522.3 563.4 L 517.6 569.2 L 514.2 576.1 L 507.2 577.3 L 497.9 570.3 L 489.8 562.2 L 474.8 557.6 L 467.8 556.4 L 464.3 550.6 Z" stroke-width="2" fill="#fdfdfd"/>
<path d="M 456.2 513.6 L 467.8 551.8 M 460.9 507.8 L 472.4 548.3 M 465.5 507.1 L 477.1 546.0 M 471.3 506.6 L 474.8 511.2 M 467.8 556.4 L 471.3 548.3 L 480.6 544.8 L 497.9 539.1 M 474.8 557.6 L 479.4 548.3 L 493.3 570.3 M 493.3 541.4 L 500.3 562.2 L 509.5 566.9 M 501.4 548.3 L 507.2 562.2 L 517.6 569.2 M 489.8 562.2 L 497.9 553.0 L 509.5 559.9" stroke-width="1.6"/>
<ellipse cx="492.8" cy="544.2" rx="3.2" ry="2.8" stroke-width="2"/>
<ellipse cx="492.8" cy="544.2" rx="1.4" ry="1.2" stroke-width="1.2"/>
<ellipse cx="484.0" cy="553.0" rx="3.2" ry="2.8" stroke-width="2"/>
<ellipse cx="484.0" cy="553.0" rx="1.4" ry="1.2" stroke-width="1.2"/>
<ellipse cx="515.3" cy="560.4" rx="3.2" ry="2.8" stroke-width="2"/>
<ellipse cx="515.3" cy="560.4" rx="1.4" ry="1.2" stroke-width="1.2"/>
<ellipse cx="509.1" cy="568.0" rx="3.2" ry="2.8" stroke-width="2"/>
<ellipse cx="509.1" cy="568.0" rx="1.4" ry="1.2" stroke-width="1.2"/>
<path d="M 464.3 550.6 L 467.8 549.5 L 470.1 555.7 L 467.3 557.1 Z" fill="#000"/>
<path d="M 526.2 542.5 L 535.0 529.8 L 543.1 535.6 L 532.2 546.5 C 529.9 547.4 526.2 545.5 526.2 542.5 Z" stroke-width="1.8" fill="#fdfdfd"/>
<ellipse cx="539.2" cy="532.6" rx="5.8" ry="5.1" stroke-width="2.2" fill="#fdfdfd"/>
<path d="M 514.2 583.1 L 520.0 578.5 L 528.1 579.6 L 530.4 587.7 L 524.6 594.7 L 517.6 594.2 L 513.7 588.9 Z" stroke-width="2" fill="#fdfdfd"/>
<ellipse cx="523.9" cy="584.9" rx="6.0" ry="5.6" stroke-width="1.8"/>
<ellipse cx="524.4" cy="584.9" rx="2.1" ry="2.3" stroke-width="1.5"/>
<path d="M 449.3 581.9 L 466.7 561.1 C 469.0 559.5 472.9 561.8 472.4 564.1 L 455.1 586.6 C 452.7 588.2 448.8 585.4 449.3 581.9 Z" stroke-width="1.8" fill="#fdfdfd"/>
<ellipse cx="469.7" cy="562.7" rx="3.0" ry="2.1" transform="rotate(35 469.7 562.7)" fill="#000"/>
</g>
<g id="group24">
<path d="M 539.9 721.5 L 554.7 704.7 L 565.5 704.7 L 570.5 719.5 L 569.5 733.3 L 581.3 743.2 L 595.2 748.1 L 606.0 756.0 L 610.9 762.9 L 614.9 780.7 L 609.0 786.6 L 608.0 791.5 L 596.1 792.5 L 591.2 774.8 L 586.3 766.9 L 569.5 759.0 L 551.7 747.1 L 546.8 729.4 Z" stroke-width="2" fill="#fdfdfd"/>
<path d="M 541.8 722.4 L 555.7 707.6 M 544.8 724.4 L 558.6 709.6 M 554.7 704.7 L 559.6 709.6 L 564.5 705.7 M 559.6 709.6 L 566.5 731.3 L 569.5 733.3 M 546.8 729.4 L 561.6 722.4 M 551.7 747.1 L 559.6 739.2 L 566.5 731.3 M 559.6 739.2 L 577.4 751.1 L 591.2 759.0 L 597.1 772.8 L 601.1 790.6 M 569.5 737.3 L 583.3 746.1 L 599.1 755.0 L 605.0 764.9 L 609.0 786.6 M 591.2 759.0 L 595.2 748.1 M 597.1 772.8 L 609.0 770.8 M 599.1 778.7 L 610.0 776.7 M 603.0 759.0 L 610.0 760.9" stroke-width="1.7"/>
<ellipse cx="555.7" cy="727.4" rx="4.3" ry="5.5" transform="rotate(-20 555.7 727.4)" stroke-width="2"/>
<ellipse cx="577.4" cy="756.0" rx="3.9" ry="2.4" transform="rotate(30 577.4 756.0)" stroke-width="1.6"/>
<path d="M 602.1 763.9 L 610.0 762.9 L 612.5 776.7 L 605.0 778.7 Z" fill="#000"/>
<path d="M 605.0 766.9 L 608.6 766.5 L 610.0 774.8 L 606.6 775.6 Z" fill="#fdfdfd" stroke="none"/>
<path d="M 609.0 781.1 L 614.5 779.7 L 614.9 783.6 L 610.0 785.6 Z" fill="#000"/>
<path d="M 578.4 725.0 C 580.3 722.4 583.3 722.4 584.3 722.4 L 596.1 722.4 L 597.1 719.5 L 606.0 720.5 L 607.0 733.3 L 598.1 735.3 L 596.1 731.7 L 583.7 732.3 C 580.9 732.3 578.4 730.3 578.4 725.0 Z" stroke-width="2" fill="#fdfdfd"/>
<path d="M 583.3 722.8 C 581.7 725.4 581.7 729.4 583.3 732.1 M 596.1 722.4 L 596.1 731.7 M 599.1 720.5 L 600.1 734.9 M 602.7 720.5 L 603.4 734.3" stroke-width="1.5"/>
<path d="M 625.2 742.2 L 632.7 733.3 L 638.2 737.3 L 629.7 745.2 C 627.7 746.1 624.8 744.8 625.2 742.2 Z" stroke-width="1.8" fill="#fdfdfd"/>
<ellipse cx="636.6" cy="732.9" rx="5.3" ry="4.9" fill="#000"/>
<ellipse cx="636.6" cy="732.9" rx="2.4" ry="2.2" stroke-width="1" fill="none" stroke="#fdfdfd"/>
</g>
<g id="group6">
<path d="M 139.1 2257.0 L 154.7 2242.4 L 158.0 2244.7 L 163.6 2263.6 L 168.1 2254.7 L 171.4 2257.0 L 177.0 2279.3 L 174.8 2299.4 L 170.3 2301.6 L 159.1 2281.5 L 153.6 2268.1 L 141.3 2263.6 Z" stroke-width="2" fill="#fdfdfd"/>
<path d="M 154.7 2242.4 L 155.8 2248.0 L 161.4 2265.9 M 168.1 2254.7 L 169.2 2261.4 L 174.8 2283.7 M 159.1 2281.5 L 167.0 2274.8 M 170.3 2274.8 L 175.9 2273.7 L 177.0 2279.3" stroke-width="1.6"/>
<path d="M 140.2 2254.7 L 152.4 2246.9 L 156.9 2261.4 L 144.6 2267.0 Z" fill="#000"/>
<path d="M 145.8 2253.6 L 153.6 2250.3 M 146.9 2257.0 L 154.7 2253.6 M 148.0 2260.3 L 155.8 2257.0" stroke-width="1.4" stroke="#fdfdfd"/>
<path d="M 140.2 2264.8 L 126.3 2280.4" stroke-width="5"/>
<path d="M 140.2 2264.8 L 126.3 2280.4" stroke-width="2" stroke="#fdfdfd"/>
<path d="M 113.4 2283.7 L 121.2 2278.2 L 127.9 2282.6 L 124.5 2294.9 L 119.0 2299.4 L 114.5 2293.8 Z" fill="#000"/>
<ellipse cx="179.9" cy="2287.8" rx="3.6" ry="9.4" stroke-width="2.4" fill="#fdfdfd"/>
<ellipse cx="183.7" cy="2287.8" rx="3.6" ry="9.4" stroke-width="2.4" fill="#fdfdfd"/>
<ellipse cx="187.5" cy="2287.8" rx="3.6" ry="9.4" stroke-width="2.4" fill="#fdfdfd"/>
<ellipse cx="191.3" cy="2287.8" rx="3.6" ry="9.4" stroke-width="2.4" fill="#fdfdfd"/>
<ellipse cx="195.1" cy="2287.8" rx="3.6" ry="9.4" stroke-width="2.4" fill="#fdfdfd"/>
<path d="M 202.7 2243.6 L 209.4 2231.3 L 230.6 2230.2 L 229.4 2236.9 L 233.9 2242.4 L 239.5 2251.4 L 233.9 2257.0 L 231.7 2268.1 L 239.5 2274.8 L 245.1 2294.9 L 242.8 2300.5 L 233.9 2301.6 L 228.3 2292.7 L 225.0 2283.7 L 218.3 2284.8 L 212.7 2263.6 L 207.1 2261.4 Z" stroke-width="2.2" fill="#fdfdfd"/>
<path d="M 209.4 2231.3 L 230.6 2230.2 L 229.9 2236.4 L 207.1 2238.0 Z" fill="#000"/>
<path d="M 204.9 2244.7 L 228.3 2242.4 L 233.9 2257.0 M 207.1 2248.0 L 225.0 2246.2 L 231.7 2268.1 M 212.7 2263.6 L 221.6 2261.4 L 228.3 2292.7 M 216.1 2257.0 L 229.4 2254.7 M 221.6 2261.4 L 225.0 2283.7 M 231.7 2274.8 L 236.1 2294.9 L 233.9 2301.6 M 228.3 2292.7 L 238.4 2290.4" stroke-width="1.8"/>
<ellipse cx="236.6" cy="2294.9" rx="3.6" ry="6.2" transform="rotate(-15 236.6 2294.9)" stroke-width="2.2"/>
<path d="M 241.7 2262.5 L 256.2 2259.2 L 264.0 2255.8 L 267.4 2268.1 L 260.7 2278.2 L 254.0 2280.4 L 251.8 2274.8 L 242.8 2272.6 Z" fill="#000"/>
<path d="M 245.1 2264.8 L 254.0 2262.5 L 255.1 2267.0 L 246.2 2269.2 Z M 257.3 2261.4 L 262.5 2259.6 L 264.7 2268.1 L 259.6 2270.3 Z M 254.0 2275.9 L 259.6 2274.4 L 260.2 2277.5 L 255.1 2278.8 Z" fill="#fdfdfd" stroke="none"/>
<path d="M 276.3 2262.5 L 300.9 2262.5 C 304.9 2263.6 304.9 2272.6 300.9 2273.7 L 276.3 2273.7 C 272.3 2272.6 272.3 2263.6 276.3 2262.5 Z" fill="#000"/>
<path d="M 277.4 2268.1 L 299.7 2268.1" stroke-width="1" stroke="#fdfdfd" stroke-dasharray="2 6"/>
<path d="M 293.5 2298.2 L 318.7 2298.2 C 322.7 2299.4 322.7 2308.3 318.7 2309.4 L 293.5 2309.4 C 289.5 2308.3 289.5 2299.4 293.5 2298.2 Z" fill="#000"/>
<path d="M 294.6 2303.8 L 317.6 2303.8" stroke-width="1" stroke="#fdfdfd" stroke-dasharray="2 6"/>
<path d="M 284.1 2211.2 L 294.2 2201.2 L 303.1 2197.8 L 314.2 2202.3 L 319.8 2214.5 L 336.6 2254.7 L 344.4 2270.3 L 342.1 2275.9 L 335.5 2281.5 L 344.4 2301.6 L 342.1 2308.3 L 334.3 2312.7 L 327.6 2306.1 L 319.8 2283.7 L 307.6 2257.0 L 300.9 2243.6 L 291.9 2234.6 Z" stroke-width="2.2" fill="#fdfdfd"/>
<path d="M 286.4 2212.3 L 295.3 2204.5 L 302.0 2207.9 L 300.9 2219.0 L 309.8 2232.4 L 308.7 2241.3 L 325.4 2277.0 M 294.2 2201.2 L 296.4 2212.3 M 303.1 2197.8 L 302.0 2207.9 M 291.9 2234.6 L 300.9 2229.1 L 309.8 2232.4 M 307.6 2257.0 L 319.8 2250.3 M 310.9 2264.8 L 323.2 2258.1 M 315.4 2273.7 L 327.6 2267.0 M 305.3 2244.7 L 315.4 2240.2 M 325.4 2277.0 L 335.5 2272.6 L 342.1 2275.9 M 325.4 2277.0 L 333.2 2297.1 L 334.3 2312.7 M 323.2 2288.2 L 332.1 2284.8 M 326.5 2297.1 L 334.3 2293.8" stroke-width="1.8"/>
<path d="M 289.3 2213.4 L 296.4 2207.9 L 299.7 2220.1 L 306.4 2232.4 L 300.9 2227.9 L 294.2 2233.5 Z" stroke-width="2.4"/>
<ellipse cx="333.2" cy="2304.9" rx="2.7" ry="3.1" stroke-width="2.2"/>
</g>
<g id="group42">
<path d="M 737.4 2115.7 C 738.4 2113.3 746.3 2112.7 747.3 2114.7 L 748.2 2122.6 L 754.2 2125.5 L 770.0 2180.8 L 786.7 2236.1 L 787.7 2246.0 L 801.9 2247.3 L 793.3 2264.7 L 767.0 2265.3 L 766.0 2240.0 L 758.1 2200.6 L 736.4 2127.5 L 738.4 2124.5 Z" stroke-width="1.8" fill="#fdfdfd"/>
<path d="M 738.4 2124.5 L 742.3 2123.6 L 748.2 2122.6 M 739.4 2127.5 L 757.1 2182.8 L 770.0 2180.8 M 742.3 2123.6 L 758.1 2178.8 M 757.1 2182.8 L 767.0 2226.2 M 760.1 2182.8 L 772.9 2226.2 M 768.0 2181.8 L 782.8 2232.1" stroke-width="1.5"/>
<ellipse cx="747.8" cy="2129.5" rx="3.9" ry="4.7" transform="rotate(-15 747.8 2129.5)" stroke-width="2.2"/>
<ellipse cx="742.3" cy="2115.3" rx="4.3" ry="1.6" stroke-width="1.4"/>
<path d="M 766.0 2226.2 L 776.9 2225.2 L 786.7 2236.1 L 787.7 2262.7 L 767.4 2264.7 Z" fill="#000"/>
<path d="M 769.0 2228.2 L 771.3 2261.8 M 773.9 2227.8 L 776.5 2261.8 M 778.8 2232.1 L 781.2 2261.4 M 783.2 2237.1 L 785.2 2261.4" stroke-width="3" stroke="#fdfdfd"/>
<path d="M 774.9 2253.9 L 779.8 2253.5 L 780.0 2260.8 L 775.3 2261.2 Z" fill="#000"/>
<path d="M 758.1 2237.7 C 758.7 2235.1 765.0 2235.1 766.0 2237.1 L 766.0 2240.4 L 759.1 2241.6 Z" stroke-width="2" fill="#fdfdfd"/>
<path d="M 722.6 2163.4 C 723.6 2161.5 727.1 2161.1 727.9 2162.7 L 740.3 2202.5 L 739.4 2211.4 L 736.4 2212.4 L 722.6 2169.0 Z" fill="#000"/>
<path d="M 725.1 2165.0 L 738.0 2208.5" stroke-width="0.8" stroke="#fdfdfd" stroke-dasharray="2 3"/>
<path d="M 783.8 2194.6 L 805.5 2193.6 L 808.5 2202.5 L 812.4 2208.5 L 810.4 2215.4 L 797.6 2218.3 L 789.7 2214.4 Z" stroke-width="2" fill="#fdfdfd"/>
<path d="M 784.8 2195.6 L 805.1 2194.6 L 808.1 2205.5 L 788.7 2208.5 Z" fill="#000"/>
<path d="M 786.7 2198.2 L 805.5 2197.0 M 787.7 2201.5 L 806.9 2200.2 M 788.7 2204.9 L 807.7 2203.3" stroke-width="2" stroke="#fdfdfd"/>
<path d="M 789.7 2214.4 L 808.5 2210.4 M 794.6 2212.4 L 796.6 2217.3" stroke-width="1.5"/>
</g>
<g id="knob32">
<path d="M 448.4 2328.7 L 459.7 2312.2 L 467.0 2316.4 L 455.6 2331.8 Z" stroke-width="2" fill="#fdfdfd"/>
<path d="M 456.1 2331.8 L 468.0 2318.4 L 471.1 2319.4 L 465.9 2315.3" stroke-width="2.6"/>
<ellipse cx="453.0" cy="2319.4" rx="3.5" ry="2.9" transform="rotate(-30 453.0 2319.4)" stroke-width="3" fill="#fdfdfd"/>
<path d="M 458.7 2318.4 L 461.8 2312.2 L 464.9 2314.3 L 461.8 2319.4 Z" fill="#000"/>
<ellipse cx="445.3" cy="2337.0" rx="12.4" ry="11.7" fill="#000"/>
<ellipse cx="445.3" cy="2337.0" rx="7.4" ry="3.7" transform="rotate(38 445.3 2337.0)" fill="#fdfdfd" stroke="none"/>
<ellipse cx="472.1" cy="2306.3" rx="11.5" ry="11.5" stroke-width="2.6" fill="#fdfdfd"/>
<ellipse cx="471.1" cy="2307.3" rx="10.3" ry="10.1" stroke-width="1.2"/>
<ellipse cx="473.6" cy="2305.0" rx="8.4" ry="8.7" stroke-width="2.2"/>
</g>
<g id="small58a">
<path d="M 815.3 2304.6 L 851.4 2312.3 L 865.8 2335.5 L 863.2 2340.6 L 844.2 2336.5 L 831.8 2324.1 L 823.6 2310.8 Z" stroke-width="2.4" fill="#fdfdfd"/>
<path d="M 815.3 2304.6 L 823.6 2307.1 L 827.7 2309.7 L 821.5 2309.2 Z" fill="#000"/>
<path d="M 824.6 2311.3 L 833.9 2324.7 L 845.2 2335.5 L 862.7 2339.1 M 826.1 2310.2 L 835.9 2323.6 L 846.7 2333.9 L 863.2 2337.5" stroke-width="1.4"/>
<path d="M 830.8 2310.2 L 849.3 2312.8 L 851.4 2315.4 L 832.8 2312.8 Z M 835.9 2317.4 L 852.4 2320.0 L 854.5 2323.1 L 838.5 2320.5 Z M 841.1 2324.7 L 856.5 2326.2 L 859.6 2330.3 L 857.6 2333.4 L 852.4 2332.4 L 850.3 2329.3 L 843.1 2327.2 Z" fill="#000"/>
<path d="M 818.4 2341.1 L 823.6 2338.0 L 835.4 2354.5 L 830.3 2358.6 Z" stroke-width="2.4" fill="#fdfdfd"/>
<path d="M 792.1 2360.2 L 795.8 2356.1 L 800.4 2353.5 L 804.0 2357.1 L 809.1 2352.0 L 826.1 2374.1 L 808.1 2382.3 L 804.0 2379.2 Z" stroke-width="2.4" fill="#fdfdfd"/>
<path d="M 794.7 2359.2 L 805.0 2375.6 M 797.3 2357.1 L 807.1 2372.6 M 804.0 2357.1 L 815.3 2366.4 M 806.6 2354.5 L 818.4 2367.4 M 805.0 2377.2 L 821.5 2371.5 L 823.6 2374.1 M 807.1 2372.6 L 809.1 2365.3 L 815.3 2366.4 L 821.5 2371.5" stroke-width="2"/>
<path d="M 796.3 2356.1 L 800.4 2354.0 L 811.2 2363.3 L 808.1 2366.4 L 805.5 2364.3 Z" fill="#000"/>
<path d="M 800.9 2357.1 L 804.0 2360.7 M 803.0 2356.1 L 806.6 2360.2" stroke-width="2" stroke="#fdfdfd"/>
</g>
<g id="small58b">
<path d="M 289.7 2800.6 L 296.1 2796.7 L 297.4 2791.6 L 309.0 2789.0 L 320.6 2803.8 L 323.8 2805.1 L 326.4 2810.9 L 305.1 2823.1 L 302.6 2818.6 Z" stroke-width="2.2" fill="#fdfdfd"/>
<path d="M 292.3 2799.3 L 303.8 2817.3 M 294.2 2798.0 L 305.1 2815.4 M 303.8 2818.0 L 324.4 2806.4 M 305.1 2820.6 L 325.7 2809.0 M 297.4 2791.6 L 303.8 2804.5 L 307.7 2802.5 L 305.1 2794.2" stroke-width="1.8"/>
<path d="M 290.3 2800.9 L 294.2 2798.7 L 303.8 2814.1 L 300.6 2816.1 Z" fill="#000"/>
<path d="M 292.9 2802.5 L 301.3 2814.5" stroke-width="1.2" stroke="#fdfdfd" stroke-dasharray="2 2"/>
<path d="M 298.7 2792.2 L 305.1 2790.9 L 310.9 2799.3 L 305.1 2802.5 L 301.3 2796.7 Z" fill="#000"/>
<path d="M 301.0 2793.9 L 303.8 2793.3 L 305.1 2795.5 L 302.6 2796.2 Z M 303.8 2797.4 L 306.7 2796.7 L 308.0 2799.1 L 305.4 2799.8 Z" fill="#fdfdfd" stroke="none"/>
<path d="M 269.3 2817.3 L 274.9 2814.1 L 286.5 2829.6 L 281.3 2833.4 Z" stroke-width="2.2" fill="#fdfdfd"/>
<path d="M 227.2 2833.4 L 262.6 2834.7 L 263.9 2841.8 L 276.8 2863.7 L 275.5 2869.5 L 258.8 2870.1 C 254.9 2869.9 252.3 2868.8 249.8 2867.6 C 245.9 2865.0 243.3 2862.4 240.8 2859.8 C 236.2 2854.7 233.0 2849.5 230.5 2844.4 Z" stroke-width="2.4" fill="#fdfdfd"/>
<path d="M 227.9 2834.1 L 262.4 2835.4 L 262.9 2837.3 L 228.5 2836.7 Z" fill="#000"/>
<path d="M 229.2 2838.6 L 237.5 2838.6 L 238.2 2842.4 L 231.1 2843.1 Z" stroke-width="2"/>
<path d="M 238.2 2836.7 L 257.5 2865.0 L 259.4 2870.1 M 242.7 2836.7 L 262.0 2863.7 M 253.6 2837.3 L 272.9 2865.0 M 257.5 2837.9 L 275.5 2865.0 M 230.5 2844.4 C 234.3 2852.1 242.0 2861.1 249.8 2865.0 L 257.5 2865.6" stroke-width="2"/>
<path d="M 244.6 2840.5 L 253.6 2840.5 L 266.5 2859.8 L 269.1 2868.8 L 260.1 2869.5 L 257.5 2862.4 L 248.5 2852.1 Z" fill="#000"/>
<path d="M 247.2 2842.4 L 252.3 2842.2 L 254.9 2846.3 L 250.0 2847.0 Z M 253.6 2849.5 L 257.5 2848.9 L 260.1 2853.4 L 256.5 2854.0 Z M 259.4 2857.3 L 262.9 2856.9 L 265.5 2862.4 L 262.0 2862.7 Z" fill="#fdfdfd" stroke="none"/>
<ellipse cx="255.9" cy="2865.0" rx="1.3" ry="1.3" stroke-width="1.6" fill="#fdfdfd"/>
<ellipse cx="271.7" cy="2866.0" rx="1.3" ry="1.3" stroke-width="1.6" fill="#fdfdfd"/>
</g>
<g id="screws">
<path d="M 121.6 2550.0 L 137.2 2532.1 L 133.2 2528.4 L 117.4 2546.3 Z" stroke-width="2" fill="#fdfdfd"/>
<ellipse cx="135.2" cy="2530.3" rx="2.8" ry="1.9" transform="rotate(41.49646835521554 135.2 2530.3)" stroke-width="1.6" fill="#fdfdfd"/>
<ellipse cx="117.4" cy="2550.5" rx="6.5" ry="5.9" transform="rotate(-30 117.4 2550.5)" stroke-width="2.6" fill="#fdfdfd"/>
<ellipse cx="118.6" cy="2549.5" rx="3.7" ry="3.1" transform="rotate(-30 118.6 2549.5)" stroke-width="1.6"/>
<path d="M 165.4 2698.0 L 190.5 2668.5 L 187.1 2665.4 L 161.9 2694.9 Z" stroke-width="2" fill="#fdfdfd"/>
<ellipse cx="188.8" cy="2667.0" rx="2.3" ry="1.6" transform="rotate(40.486011541998735 188.8 2667.0)" stroke-width="1.6" fill="#fdfdfd"/>
<ellipse cx="161.6" cy="2698.8" rx="6.5" ry="5.9" transform="rotate(-30 161.6 2698.8)" stroke-width="2.6" fill="#fdfdfd"/>
<ellipse cx="162.9" cy="2697.9" rx="3.7" ry="3.1" transform="rotate(-30 162.9 2697.9)" stroke-width="1.6"/>
<path d="M 123.6 2540.7 L 127.8 2543.8" stroke-width="1.6"/>
</g>
<g id="catalog_big" transform="translate(1203.4,2883.4) scale(1) translate(-1203.4,-2883.4)">
<path d="M 1225.5 2759.4 L 1225.5 2749.7 L 1296.8 2749.7 M 1296.8 2883.4 L 1225.5 2883.4 L 1225.5 2873.7" stroke-width="1.9"/>
<path d="M 1296.8 2749.7 L 1296.8 2883.4" stroke-width="1.2"/>
<path d="M 1216.9 2769.1 L 1219.1 2759.4 L 1291.6 2759.4 M 1291.6 2872.9 L 1219.1 2872.9 L 1216.9 2863.2" stroke-width="1.9"/>
<path d="M 1291.6 2759.4 C 1287.8 2772.9 1285.6 2784.8 1286.3 2796.8 L 1290.1 2816.9 L 1286.3 2835.6 C 1285.6 2850.5 1287.8 2861.0 1291.6 2872.9" stroke-width="1.2"/>
<path d="M 1205.7 2769.9 L 1277.4 2769.9 C 1275.4 2777.3 1274.8 2784.8 1275.4 2790.8 L 1280.4 2816.9 L 1275.4 2832.6 C 1274.8 2844.5 1275.9 2853.5 1277.4 2862.5 L 1205.7 2862.5 C 1204.6 2853.5 1204.2 2844.5 1204.6 2832.6 L 1208.7 2816.9 L 1203.7 2790.8 C 1203.7 2783.3 1204.6 2775.8 1205.7 2769.9 Z" stroke-width="1.9" fill="#fdfdfd"/>
<path d="M 1208.7 2816.9 L 1280.4 2816.9" stroke-width="0.9"/>
<text transform="translate(1317,2885) rotate(-90) scale(0.92,1)" font-size="17.7" class="t" style="stroke-width:0.35px">Festool-Katalog</text>
<text transform="translate(1337.1,2885) rotate(-90) scale(0.92,1)" font-size="17.7" class="t" style="stroke-width:0.35px">Festool-catalogue</text>
<text transform="translate(1363.2,2885) rotate(-90) scale(0.92,1)" font-size="17.7" class="t" style="stroke-width:0.35px">www.festool.com</text>
</g>
<g id="catalog_s1" transform="translate(829,207) scale(0.3) translate(-1203.4,-2883.4)">
<path d="M 1225.5 2759.4 L 1225.5 2749.7 L 1296.8 2749.7 M 1296.8 2883.4 L 1225.5 2883.4 L 1225.5 2873.7" stroke-width="6.0"/>
<path d="M 1296.8 2749.7 L 1296.8 2883.4" stroke-width="3.666666666666667"/>
<path d="M 1216.9 2769.1 L 1219.1 2759.4 L 1291.6 2759.4 M 1291.6 2872.9 L 1219.1 2872.9 L 1216.9 2863.2" stroke-width="6.0"/>
<path d="M 1291.6 2759.4 C 1287.8 2772.9 1285.6 2784.8 1286.3 2796.8 L 1290.1 2816.9 L 1286.3 2835.6 C 1285.6 2850.5 1287.8 2861.0 1291.6 2872.9" stroke-width="4.800000000000001"/>
<path d="M 1205.7 2769.9 L 1277.4 2769.9 C 1275.4 2777.3 1274.8 2784.8 1275.4 2790.8 L 1280.4 2816.9 L 1275.4 2832.6 C 1274.8 2844.5 1275.9 2853.5 1277.4 2862.5 L 1205.7 2862.5 C 1204.6 2853.5 1204.2 2844.5 1204.6 2832.6 L 1208.7 2816.9 L 1203.7 2790.8 C 1203.7 2783.3 1204.6 2775.8 1205.7 2769.9 Z" stroke-width="6.0" fill="#fdfdfd"/>
<path d="M 1208.7 2816.9 L 1280.4 2816.9" stroke-width="6.0"/>
<text transform="translate(1317,2885) rotate(-90) scale(0.92,1)" font-size="17.7" class="t" style="stroke-width:3.3333333333333335px">Festool-Katalog</text>
<text transform="translate(1337.1,2885) rotate(-90) scale(0.92,1)" font-size="17.7" class="t" style="stroke-width:3.3333333333333335px">Festool-catalogue</text>
<text transform="translate(1363.2,2885) rotate(-90) scale(0.92,1)" font-size="17.7" class="t" style="stroke-width:3.3333333333333335px">www.festool.com</text>
</g>
<g id="catalog_s2" transform="translate(980.5,818.8) scale(0.3) translate(-1203.4,-2883.4)">
<path d="M 1225.5 2759.4 L 1225.5 2749.7 L 1296.8 2749.7 M 1296.8 2883.4 L 1225.5 2883.4 L 1225.5 2873.7" stroke-width="6.0"/>
<path d="M 1296.8 2749.7 L 1296.8 2883.4" stroke-width="3.666666666666667"/>
<path d="M 1216.9 2769.1 L 1219.1 2759.4 L 1291.6 2759.4 M 1291.6 2872.9 L 1219.1 2872.9 L 1216.9 2863.2" stroke-width="6.0"/>
<path d="M 1291.6 2759.4 C 1287.8 2772.9 1285.6 2784.8 1286.3 2796.8 L 1290.1 2816.9 L 1286.3 2835.6 C 1285.6 2850.5 1287.8 2861.0 1291.6 2872.9" stroke-width="4.800000000000001"/>
<path d="M 1205.7 2769.9 L 1277.4 2769.9 C 1275.4 2777.3 1274.8 2784.8 1275.4 2790.8 L 1280.4 2816.9 L 1275.4 2832.6 C 1274.8 2844.5 1275.9 2853.5 1277.4 2862.5 L 1205.7 2862.5 C 1204.6 2853.5 1204.2 2844.5 1204.6 2832.6 L 1208.7 2816.9 L 1203.7 2790.8 C 1203.7 2783.3 1204.6 2775.8 1205.7 2769.9 Z" stroke-width="6.0" fill="#fdfdfd"/>
<path d="M 1208.7 2816.9 L 1280.4 2816.9" stroke-width="6.0"/>
<text transform="translate(1317,2885) rotate(-90) scale(0.92,1)" font-size="17.7" class="t" style="stroke-width:3.3333333333333335px">Festool-Katalog</text>
<text transform="translate(1337.1,2885) rotate(-90) scale(0.92,1)" font-size="17.7" class="t" style="stroke-width:3.3333333333333335px">Festool-catalogue</text>
<text transform="translate(1363.2,2885) rotate(-90) scale(0.92,1)" font-size="17.7" class="t" style="stroke-width:3.3333333333333335px">www.festool.com</text>
</g>
<g id="catalog_s3" transform="translate(1188,2546.5) scale(0.3) translate(-1203.4,-2883.4)">
<path d="M 1225.5 2759.4 L 1225.5 2749.7 L 1296.8 2749.7 M 1296.8 2883.4 L 1225.5 2883.4 L 1225.5 2873.7" stroke-width="6.0"/>
<path d="M 1296.8 2749.7 L 1296.8 2883.4" stroke-width="3.666666666666667"/>
<path d="M 1216.9 2769.1 L 1219.1 2759.4 L 1291.6 2759.4 M 1291.6 2872.9 L 1219.1 2872.9 L 1216.9 2863.2" stroke-width="6.0"/>
<path d="M 1291.6 2759.4 C 1287.8 2772.9 1285.6 2784.8 1286.3 2796.8 L 1290.1 2816.9 L 1286.3 2835.6 C 1285.6 2850.5 1287.8 2861.0 1291.6 2872.9" stroke-width="4.800000000000001"/>
<path d="M 1205.7 2769.9 L 1277.4 2769.9 C 1275.4 2777.3 1274.8 2784.8 1275.4 2790.8 L 1280.4 2816.9 L 1275.4 2832.6 C 1274.8 2844.5 1275.9 2853.5 1277.4 2862.5 L 1205.7 2862.5 C 1204.6 2853.5 1204.2 2844.5 1204.6 2832.6 L 1208.7 2816.9 L 1203.7 2790.8 C 1203.7 2783.3 1204.6 2775.8 1205.7 2769.9 Z" stroke-width="6.0" fill="#fdfdfd"/>
<path d="M 1208.7 2816.9 L 1280.4 2816.9" stroke-width="6.0"/>
<text transform="translate(1317,2885) rotate(-90) scale(0.92,1)" font-size="17.7" class="t" style="stroke-width:3.3333333333333335px">Festool-Katalog</text>
<text transform="translate(1337.1,2885) rotate(-90) scale(0.92,1)" font-size="17.7" class="t" style="stroke-width:3.3333333333333335px">Festool-catalogue</text>
<text transform="translate(1363.2,2885) rotate(-90) scale(0.92,1)" font-size="17.7" class="t" style="stroke-width:3.3333333333333335px">www.festool.com</text>
</g>
<g id="catalog_s4" transform="translate(1250,2497.8) scale(0.3) translate(-1203.4,-2883.4)">
<path d="M 1225.5 2759.4 L 1225.5 2749.7 L 1296.8 2749.7 M 1296.8 2883.4 L 1225.5 2883.4 L 1225.5 2873.7" stroke-width="6.0"/>
<path d="M 1296.8 2749.7 L 1296.8 2883.4" stroke-width="3.666666666666667"/>
<path d="M 1216.9 2769.1 L 1219.1 2759.4 L 1291.6 2759.4 M 1291.6 2872.9 L 1219.1 2872.9 L 1216.9 2863.2" stroke-width="6.0"/>
<path d="M 1291.6 2759.4 C 1287.8 2772.9 1285.6 2784.8 1286.3 2796.8 L 1290.1 2816.9 L 1286.3 2835.6 C 1285.6 2850.5 1287.8 2861.0 1291.6 2872.9" stroke-width="4.800000000000001"/>
<path d="M 1205.7 2769.9 L 1277.4 2769.9 C 1275.4 2777.3 1274.8 2784.8 1275.4 2790.8 L 1280.4 2816.9 L 1275.4 2832.6 C 1274.8 2844.5 1275.9 2853.5 1277.4 2862.5 L 1205.7 2862.5 C 1204.6 2853.5 1204.2 2844.5 1204.6 2832.6 L 1208.7 2816.9 L 1203.7 2790.8 C 1203.7 2783.3 1204.6 2775.8 1205.7 2769.9 Z" stroke-width="6.0" fill="#fdfdfd"/>
<path d="M 1208.7 2816.9 L 1280.4 2816.9" stroke-width="6.0"/>
<text transform="translate(1317,2885) rotate(-90) scale(0.92,1)" font-size="17.7" class="t" style="stroke-width:3.3333333333333335px">Festool-Katalog</text>
<text transform="translate(1337.1,2885) rotate(-90) scale(0.92,1)" font-size="17.7" class="t" style="stroke-width:3.3333333333333335px">Festool-catalogue</text>
<text transform="translate(1363.2,2885) rotate(-90) scale(0.92,1)" font-size="17.7" class="t" style="stroke-width:3.3333333333333335px">www.festool.com</text>
</g>
<g id="allenkey">
<path d="M 1122.2 1985.9 L 1138.6 2013.4 L 1182.5 1963.7" stroke-width="4.2"/>
<path d="M 1122.2 1985.9 L 1138.6 2013.4 L 1182.5 1963.7" stroke-width="1.2" stroke="#fdfdfd"/>
</g>
<g id="cable22">
<path d="M 180.5 1801.9 Q 184.0 1829.6 183.4 1841.3 Q 182.8 1853.0 175.8 1864.1 Q 168.8 1874.8 164.7 1885.6 Q 160.6 1896.7 160.0 1908.4 Q 159.5 1920.1 161.2 1931.8 Q 163.0 1943.4 168.8 1956.6 Q 174.6 1969.7 179.9 1977.0 Q 184.8 1984.3 195.6 1986.0 Q 206.7 1987.8 212.6 1990.4 Q 218.4 1993.0 225.7 2001.8 Q 233.0 2010.6 240.3 2012.9 Q 247.6 2014.9 253.1 2016.4 Q 258.7 2017.9 256.9 2022.8 Q 254.9 2028.1 258.7 2031.6 Q 262.2 2035.4 275.3 2036.2 Q 288.5 2036.8 295.8 2039.2 Q 303.0 2041.2 308.9 2044.4 Q 314.7 2047.6 323.5 2046.7 Q 332.2 2045.6 341.0 2047.9 Q 349.7 2050.0 355.6 2054.3 Q 361.4 2058.7 362.9 2064.3 L 364.3 2069.5" stroke-width="8.2" stroke="#000" stroke-linecap="butt"/>
<path d="M 180.5 1801.9 Q 184.0 1829.6 183.4 1841.3 Q 182.8 1853.0 175.8 1864.1 Q 168.8 1874.8 164.7 1885.6 Q 160.6 1896.7 160.0 1908.4 Q 159.5 1920.1 161.2 1931.8 Q 163.0 1943.4 168.8 1956.6 Q 174.6 1969.7 179.9 1977.0 Q 184.8 1984.3 195.6 1986.0 Q 206.7 1987.8 212.6 1990.4 Q 218.4 1993.0 225.7 2001.8 Q 233.0 2010.6 240.3 2012.9 Q 247.6 2014.9 253.1 2016.4 Q 258.7 2017.9 256.9 2022.8 Q 254.9 2028.1 258.7 2031.6 Q 262.2 2035.4 275.3 2036.2 Q 288.5 2036.8 295.8 2039.2 Q 303.0 2041.2 308.9 2044.4 Q 314.7 2047.6 323.5 2046.7 Q 332.2 2045.6 341.0 2047.9 Q 349.7 2050.0 355.6 2054.3 Q 361.4 2058.7 362.9 2064.3 L 364.3 2069.5" stroke-width="5.6" stroke="#fdfdfd" stroke-linecap="butt"/>
<ellipse cx="180.5" cy="1802.2" rx="3.8" ry="1.5" stroke-width="1.2" fill="#fdfdfd"/>
<ellipse cx="364.3" cy="2069.5" rx="3.8" ry="1.8" transform="rotate(-15 364.3 2069.5)" stroke-width="1.2" fill="#fdfdfd"/>
</g>
<g id="cable36">
<path d="M 475.4 2007.6 C 475.4 2042.7 462.5 2083.7 444.9 2107.1 C 433.2 2124.7 418.6 2133.4 409.8 2139.3" stroke-width="2.6"/>
<path d="M 471.8 2007.6 C 468.3 2042.7 456.6 2077.8 439.1 2101.2" stroke-width="1.2"/>
<path d="M 401.6 2137.5 L 409.8 2129.3 L 418.0 2141.1 L 409.8 2150.4 Z" stroke-width="1.6" fill="#fdfdfd"/>
<path d="M 403.9 2138.7 L 411.5 2131.7 M 406.9 2142.2 L 414.5 2135.2 M 409.2 2145.7 L 416.2 2138.7" stroke-width="1.2"/>
</g>
</svg>
</body></html>
